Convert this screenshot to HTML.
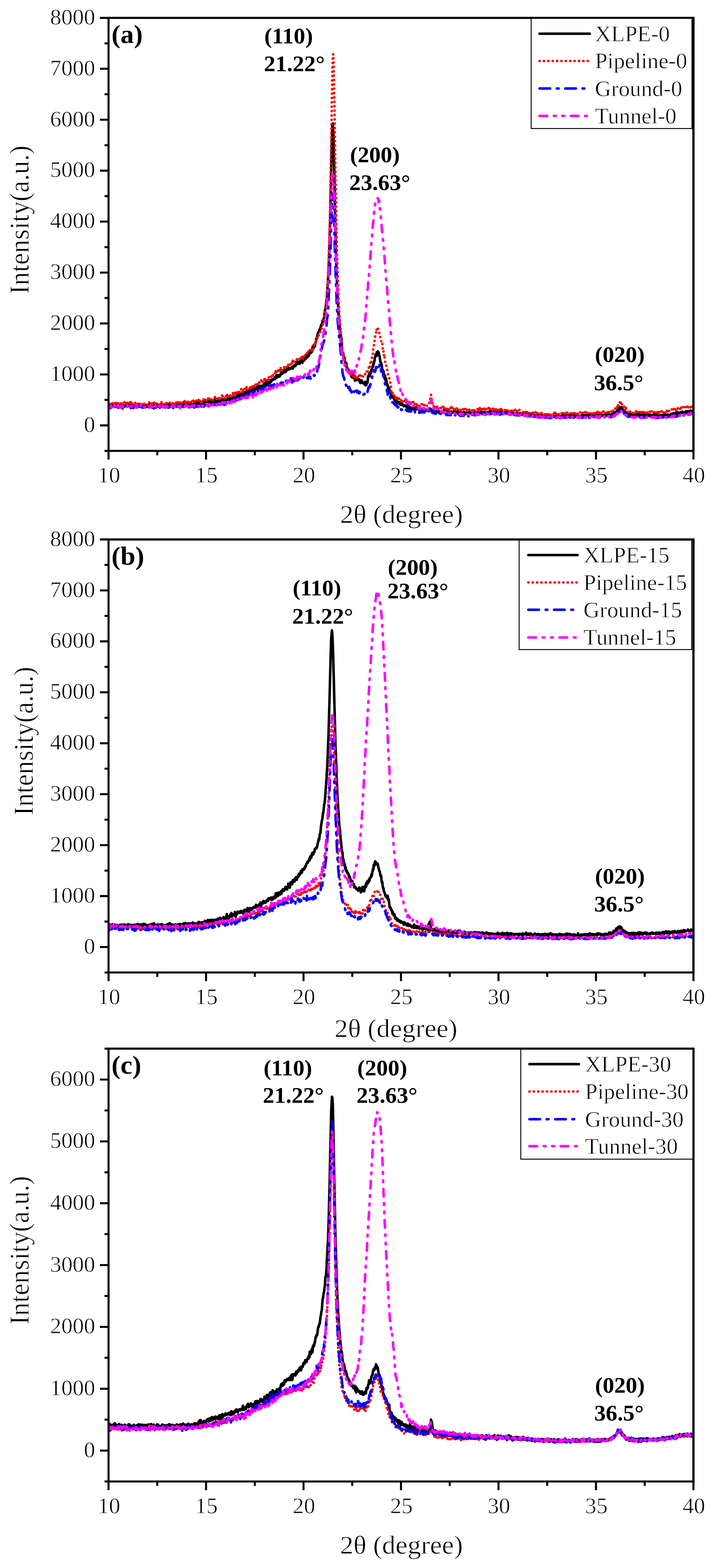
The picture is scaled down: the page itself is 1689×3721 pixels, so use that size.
<!DOCTYPE html><html><head><meta charset="utf-8"><title>XRD patterns</title><style>html,body{margin:0;padding:0;background:#fff;}svg{display:block;}text{font-family:'Liberation Serif','Times New Roman',serif;fill:#000;stroke:#fff;stroke-width:0.9px;paint-order:fill stroke;}</style></head><body>
<svg width="1689" height="3721" viewBox="0 0 1689 3721">
<rect width="1689" height="3721" fill="#fff"/>
<clipPath id="clipa"><rect x="257.5" y="42.3" width="1387.5" height="1027.7"/></clipPath>
<g clip-path="url(#clipa)" fill="none" stroke-width="6.0" stroke-linejoin="round" stroke-linecap="round">
<path stroke="#000000" d="M257.5 961.7l0.9-0.8 0.9 0.9 1 2.9 0.9-3.9 0.9 0.8 0.9 1.8 1-2 0.9 0.4 0.9 0.1 0.9 0.5 1-1 0.9 2.4 0.9-1.1 0.9 0.6 1-1.9 0.9 1 0.9 0.6 0.9 0.9 1-1 0.9-0.4 0.9 0.5 0.9-2.8 1 0.5 0.9 6.7 0.9-1.5 0.9-3.1 1 0.5 0.9-1.2 0.9 0 0.9-3.3 1 5.7 0.9-1.3 0.9-4.3 0.9 2.5 1 0 0.9 2.1 0.9 2 0.9-3.2 1 0.1 0.9 2.4 0.9-1 0.9-1.1 1 1.6 0.9-1.5 0.9-0.4 0.9 0.1 1 1 0.9-2 0.9-0.5 0.9 1 1 2.1 0.9-2.8 0.9 2.2 0.9-2.5 1 3.5 0.9-3.5 0.9 1.6 0.9 2.2 1-1.6 0.9-0.7 0.9-0.4 0.9 2.2 1 0.3 0.9-2.4 0.9 1.2 0.9-1.2 1-1 0.9 4.3 0.9-3.4 0.9-1.7 1 2.7 0.9 0.9 0.9-2.7 0.9 0.8 1-1.1 0.9 2.2 0.9 2 0.9-2.4 1 0.6 0.9-2.2 0.9 1.1 0.9 3.2 1-0.8 0.9-3.7 0.9 0.4 0.9 2.3 1-1.1 0.9-0.8 0.9 0 0.9-0.8 1 1.1 0.9 0.7 0.9 0.3 0.9-2.4 1 5.9 0.9-3.8 0.9-0.3 0.9 2.6 1-3.1 0.9 1.8 0.9-2.8 0.9 1.8 1-1.4 0.9-1 0.9 1.5 0.9 2.2 1 1.2 0.9-5.9 0.9 3.4 0.9 1 1-1.5 0.9 0.6 0.9-1.9 0.9 1.5 1 0 0.9 1.3 0.9-2.1 0.9 2.7 1-3 0.9-1.6 0.9 5.5 0.9 1.6 1-5.5 0.9-3.4 0.9 6.3 0.9 0.4 1-3.2 0.9 2.5 0.9-0.6 0.9-0.3 1-1.6 0.9 1.7 0.9-1.2 0.9 0.8 1 1.2 0.9-1 0.9 1.1 0.9-1.7 1 2 0.9 0 0.9-4.6 0.9 2.7 1 0 0.9-1 0.9 1.6 0.9-0.3 1-1.2 0.9 0.3 0.9 2.5 0.9-3.5 1 2.5 0.9 0.8 0.9-0.3 0.9-0.9 1-3.6 0.9 5 0.9-2.4 0.9 4.1 1-3.9 0.9-1.6 0.9 2 0.9 0.7 1-1.6 0.9-0.9 0.9 0.1 0.9-2.4 1 3.1 0.9 1.5 0.9-0.9 0.9-0.1 1-0.4 0.9 0.2 0.9-0.4 0.9 3.3 1-4.5 0.9 2.5 0.9 1 0.9-3.3 1-1.3 0.9 1.5 0.9 0.5 0.9 2 1-7 0.9 3.6 0.9 3.6 0.9-0.7 1-1.6 0.9 2.9 0.9-3.2 0.9 1.1 1-3.1 0.9 0.4 0.9 6.7 0.9-5.1 1 3 0.9-5.1 0.9 1.7 0.9-0.7 1 2.8 0.9-5.3 0.9-0.4 0.9 5.5 1-2.7 0.9 1.9 0.9-1.3 0.9 2.2 1-5.9 0.9 5.1 0.9-1.4 0.9-1.6 1 2 0.9-0.9 0.9 0.5 0.9-1 1 1.8 0.9-1.5 0.9-0.6 0.9 0.1 1-0.9 0.9 0.4 0.9-2.1 0.9 1.8 1-0.5 0.9 0.8 0.9-0.4 0.9 1.2 1-3.6 0.9 3 0.9-0.9 0.9-2.3 1-0.3 0.9 1.4 0.9 2.9 0.9-4.9 1 0.2 0.9 3 0.9-4.4 0.9 2.7 1 0.6 0.9-2.5 0.9 0.4 0.9-0.9 1 3.4 0.9-6.8 0.9 4.5 0.9 1.7 1-4.3 0.9 1.8 0.9-1.5 0.9 1.2 1-0.6 0.9-0.7 0.9 1.8 0.9-2.9 1 2.2 0.9 0.7 0.9-2 0.9-0.8 1 1.3 0.9 1.1 0.9-3 0.9 4.7 1-1.5 0.9-2.2 0.9 2.7 0.9-2.8 1 0.1 0.9-2 0.9 3.5 0.9-0.6 1-2 0.9 5.5 0.9-11.1 0.9 7.5 1 0 0.9-3.2 0.9 1.7 0.9 3.4 1-4.9 0.9-0.5 0.9 2.5 0.9-0.4 1-1.6 0.9 2.7 0.9-2.7 0.9 0.4 1 1.6 0.9 1.4 0.9-2.4 0.9 1.2 1-3.9 0.9 1.6 0.9-1.3 0.9 1.2 1-0.4 0.9 2 0.9-3.1 0.9-2.3 1 4.1 0.9 0.4 0.9-1 0.9 0.5 1 0.3 0.9-1.9 0.9 0.7 0.9-3.8 1 2.8 0.9-0.9 0.9-1.6 0.9 2.4 1-3.9 0.9 4 0.9 0.1 0.9-1.2 1-0.8 0.9 2.3 0.9-3.1 0.9 3.1 1-6.8 0.9 2.8 0.9 0.8 0.9 0.2 1-1.4 0.9-0.8 0.9 1.4 0.9-0.6 1-1.9 0.9 0.3 0.9-3.6 0.9-0.8 1 2.1 0.9-1.4 0.9 3.5 0.9-4.7 1 1.1 0.9-1.5 0.9-2.9 0.9 8.2 1-6 0.9 2.6 0.9-4.2 0.9 3.9 1-2.2 0.9-2 0.9-1.3 0.9 0.9 1 1.6 0.9-0.9 0.9-3.7 0.9 1.7 1 3.5 0.9-6.2 0.9 0.7 0.9-1.4 1 2.4 0.9-3 0.9 4 0.9-4.2 1 2.2 0.9-3.1 0.9-1.1 0.9 3.7 1-2 0.9-0.5 0.9-3.1 0.9 0.8 1 4.2 0.9-4.4 0.9-1 0.9-3.7 1 8.8 0.9-3.1 0.9-4.9 0.9 6.1 1-0.7 0.9-4.5 0.9-1.6 0.9 3.7 1-3.3 0.9 0.6 0.9-3.8 0.9 3.3 1-2.8 0.9 4.3 0.9-2.2 0.9-0.6 1-3.5 0.9 1 0.9 2.9 0.9-4 1-0.7 0.9 1.8 0.9 0 0.9-0.6 1 3.3 0.9-5.2 0.9-0.5 0.9 2.3 1-4.6 0.9 5 0.9-2.6 0.9-0.7 1-6.8 0.9 8.7 0.9-6.1 0.9-1.5 1 0.9 0.9-2.6 0.9 5.2 0.9 2.8 1-8.6 0.9 4.6 0.9-2.9 0.9 1.7 1-6.5 0.9-0.1 0.9 3.6 0.9-5 1 1.5 0.9 0.1 0.9-1.2 0.9 0.1 1-2.8 0.9 0.2 0.9 1.1 0.9-4.3 1 3.7 0.9-3 0.9-1 0.9-3.5 1 4.6 0.9-6.6 0.9 3.5 0.9 0.4 1 0.6 0.9-4 0.9 0.8 0.9 2.4 1-0.6 0.9-2.1 0.9-0.3 0.9-5.4 1-1.3 0.9 0.7 0.9 0.7 0.9 1.5 1-1.9 0.9-2.8 0.9-3.9 0.9 2.6 1 2.6 0.9-1.4 0.9 0.8 0.9 0.2 1-2.1 0.9-1.6 0.9-4.9 0.9 4.2 1-4 0.9-1.7 0.9 4 0.9-4.6 1 1.8 0.9 2.5 0.9-2.4 0.9 0.1 1 0.2 0.9-0.7 0.9-1.4 0.9-1.3 1 3 0.9-2.9 0.9 3.5 0.9-5.3 1-1.6 0.9 0.7 0.9-0.9 0.9-1.3 1 2.7 0.9-1.7 0.9-2.6 0.9-1.9 1 1.1 0.9-6.4 0.9 6.4 0.9-3.5 1-1.3 0.9 3 0.9 1.2 0.9 0.3 1-4.2 0.9-3.2 0.9 1.5 0.9-0.4 1 0.7 0.9-3.2 0.9 6.4 0.9-7.1 1-0.2 0.9 2.9 0.9-10.2 0.9 8.6 1-1.6 0.9-0.5 0.9-7 0.9 4.5 1-5 0.9-0.7 0.9-0.1 0.9 3.3 1-2.8 0.9-7.1 0.9 6.9 0.9-2.3 1-2.9 0.9-3.7 0.9 0.3 0.9-2.5 1 3.5 0.9-6.6 0.9-0.4 0.9 4.3 1-9.9 0.9-3.5 0.9 6.5 0.9-4.1 1-5.7 0.9 5.1 0.9-1.3 0.9-4.7 1-4.9 0.9-2.9 0.9-6.1 0.9-2 1 1.3 0.9-7.4 0.9-5.8 0.9-0.4 1-1.8 0.9 0.2 0.9-5 0.9 2.7 1-7.1 0.9-0.4 0.9-5.9 0.9-1 1 1.4 0.9-6 0.9-5.8 0.9 3.2 1-4.6 0.9-3 0.9-2 0.9-10.9 1-5.8 0.9-4.2 0.9-4.9 0.9-6.4 1-9.1 0.9-7.1 0.9-15.5 0.9-13.5 1-15.1 0.9-14.3 0.9-22.9 0.9-24.6 1-34.7 0.9-30.1 0.9-33.8 0.9-49.6 1-49.9 0.9-41.9 0.9-39.3 0.9-24.1 1-3.4 0.9 10.7 0.9 27.2 0.9 38.1 1 46.2 0.9 47.4 0.9 48.6 0.9 38.2 1 40.1 0.9 33.1 0.9 23.4 0.9 28.5 1 25.4 0.9 13.4 0.9 12.5 0.9 22.2 1 4.9 0.9 10.8 0.9 12.7 0.9 9.1 1 5.4 0.9 7.8 0.9 2.2 0.9 13.3 1 18 0.9 5 0.9 0.6 0.9 0.9 1 7.4 0.9 3.3 0.9-1.2 0.9 8 1 3.8 0.9 6 0.9 0.5 0.9-4.4 1 12.2 0.9-1.3 0.9 6 0.9-1.9 1 0.2 0.9 5.1 0.9-0.6 0.9 1.9 1 2.5 0.9-1.8 0.9 3.9 0.9 4 1 2 0.9 1.4 0.9-2.7 0.9 2.9 1-7.4 0.9 3 0.9 6.1 0.9 0.8 1-4.8 0.9 10 0.9-3.3 0.9-3.2 1 5.4 0.9-0.7 0.9 0.1 0.9-2.3 1 1.9 0.9-0.3 0.9-0.1 0.9 1.9 1-2.5 0.9 5.2 0.9 2.3 0.9 1.2 1-0.1 0.9-2.5 0.9-3.8 0.9 2.6 1 2.4 0.9 1.6 0.9-0.9 0.9 0.1 1 0.8 0.9 2.7 0.9-2.2 0.9-3.7 1 8.5 0.9-5.1 0.9 4.6 0.9-7.2 1 0.6 0.9 1.2 0.9-8.6 0.9-7.6 1 1.5 0.9-5.7 0.9 0.7 0.9 3.5 1-8.7 0.9 0.8 0.9 0.9 0.9-8.1 1-1 0.9-0.4 0.9-6.5 0.9 1.6 1-7.4 0.9 0.8 0.9-7.5 0.9 0.8 1-10.3 0.9-0.1 0.9-6.2 0.9 3.2 1-3.3 0.9-5.3 0.9 8.3 0.9-4.9 1-5.1 0.9 2.7 0.9 0.6 0.9 6.1 1 0.9 0.9 6.9 0.9 5.4 0.9 4.5 1 0.5 0.9 3.5 0.9 3.7 0.9 11.2 1-0.7 0.9-0.3 0.9 1.6 0.9 6.2 1 4.6 0.9 7.5 0.9-8.1 0.9 11.4 1-4.5 0.9 3.1 0.9 6.1 0.9 4.8 1 0.8 0.9 5.7 0.9-1 0.9 3.4 1 1.5 0.9 1.8 0.9 0.8 0.9 7.3 1-1.1 0.9 6.1 0.9 2 0.9 1.2 1 2.4 0.9-2.7 0.9 1.5 0.9 0.6 1 3.9 0.9 0.6 0.9 2.8 0.9 2.1 1-2.3 0.9 1.1 0.9 3.5 0.9-2.7 1 5.3 0.9-2.5 0.9 1.5 0.9 0.4 1 1.7 0.9-3.4 0.9 1.3 0.9-0.7 1 2.5 0.9 3.1 0.9-1.3 0.9 2 1-2.6 0.9-1 0.9 2 0.9 2.1 1 0 0.9-0.7 0.9 3.4 0.9-2.5 1 0.3 0.9 1.7 0.9 0.1 0.9-0.7 1 2.1 0.9 0.3 0.9-2.5 0.9 1.3 1-2.2 0.9 5 0.9 1.6 0.9-4.4 1 0.3 0.9 3.2 0.9 1.5 0.9-2.2 1 3.1 0.9-2.1 0.9 3.3 0.9-3.1 1 3.4 0.9-3 0.9-2.7 0.9 3.1 1-1.5 0.9 2.5 0.9 0.6 0.9 1.1 1-4.1 0.9 2 0.9-2.7 0.9 4.8 1-1.5 0.9-0.4 0.9-2 0.9-0.6 1 4.2 0.9 0.9 0.9 1.1 0.9-5 1 2.5 0.9 1 0.9-0.9 0.9 4.2 1-1.2 0.9-4.2 0.9 1 0.9 0.5 1 2 0.9-2.5 0.9-1.7 0.9 4.9 1-1.8 0.9 0.9 0.9-1.1 0.9 0.7 1 0.4 0.9 1.3 0.9-1.3 0.9 1.1 1-0.8 0.9-0.2 0.9-1.3 0.9 1.5 1-1.1 0.9-3 0.9 1.8 0.9 0.8 1-0.6 0.9 2.1 0.9 1.1 0.9 0.5 1 2.7 0.9-2.3 0.9-1 0.9 1.4 1 3.4 0.9-2.7 0.9 1.9 0.9-0.9 1-0.4 0.9 2 0.9-3.7 0.9 2.2 1-1.3 0.9 0.3 0.9-1 0.9 0.3 1 4 0.9-2.2 0.9 3.2 0.9-2.4 1-1.7 0.9-0.3 0.9-0.5 0.9 2.5 1-1 0.9 0.3 0.9-1.6 0.9-0.5 1 2.9 0.9-6.1 0.9 5.6 0.9 0.6 1-1.4 0.9-0.2 0.9 0.3 0.9 1.8 1-3.1 0.9 2.1 0.9-2.2 0.9 0.3 1 3.9 0.9-0.4 0.9 0 0.9-1.8 1 0.4 0.9-0.3 0.9 1.6 0.9-1.8 1-1.4 0.9 4 0.9-1.6 0.9-0.6 1 0.6 0.9 0.1 0.9-2.8 0.9 0.8 1 0.6 0.9 2.4 0.9-4.3 0.9 2.8 1 1.4 0.9-0.3 0.9 0.3 0.9-3.7 1 2.9 0.9 0.2 0.9 3.3 0.9-4.1 1 2.6 0.9 0.2 0.9-2.4 0.9 2.1 1-2.3 0.9-0.4 0.9 4.2 0.9-2.3 1 2.1 0.9-2.1 0.9-1.3 0.9 3.3 1-4.5 0.9 3.1 0.9 1.2 0.9-1.4 1-1.3 0.9 3.1 0.9-1.9 0.9 1.9 1-3.6 0.9 1.5 0.9 0.8 0.9-2.1 1 3.3 0.9-1.3 0.9-3.1 0.9 2.7 1-2 0.9 1.6 0.9 1.2 0.9-0.6 1-0.5 0.9 0.7 0.9 0.5 0.9 0 1 0.9 0.9-2.2 0.9-0.4 0.9-0.6 1 3.6 0.9-3.7 0.9 1.1 0.9 2 1-2.2 0.9-1 0.9 0.4 0.9-0.3 1-0.4 0.9 0.1 0.9 1.3 0.9 2.8 1-1.9 0.9-1.6 0.9 1.2 0.9-1.7 1-0.2 0.9 1 0.9-2.6 0.9 4 1-2.7 0.9 1.9 0.9 0.5 0.9-2 1 1.7 0.9-2.2 0.9 2.9 0.9-1.8 1 1.3 0.9-0.9 0.9 0.1 0.9 1.1 1-2.6 0.9 2.7 0.9-0.4 0.9-2.7 1-0.2 0.9 0.4 0.9 0.5 0.9-2.8 1 5 0.9-0.7 0.9 0.3 0.9-2.7 1 0.8 0.9-1.2 0.9 0.2 0.9 1.7 1 0.9 0.9 0.2 0.9-4.6 0.9 1.8 1 0.5 0.9 1.3 0.9-0.2 0.9 0.2 1 0 0.9 3 0.9-3.4 0.9 0.5 1-1 0.9 0.1 0.9-0.9 0.9 1.3 1-1.2 0.9 4.9 0.9-2.1 0.9-4 1 4.2 0.9-1.3 0.9-1.4 0.9 2.4 1-2.3 0.9 3.1 0.9 0.8 0.9-0.8 1 0.5 0.9-2.3 0.9 0.5 0.9-0.9 1 2 0.9-5 0.9 3.8 0.9 0 1-0.7 0.9 1.1 0.9 0.6 0.9-0.9 1-1.1 0.9 0.4 0.9-0.3 0.9 2.2 1 0.3 0.9-3.8 0.9 3.2 0.9-0.9 1-0.3 0.9-0.9 0.9 4 0.9-1.2 1 0 0.9-0.1 0.9 3 0.9-3.1 1 3.9 0.9-4.3 0.9-0.3 0.9 0 1 2.6 0.9-2.9 0.9 2.5 0.9 0.6 1-0.3 0.9-0.1 0.9-1.3 0.9-0.8 1 4 0.9-2 0.9-1.9 0.9 1 1-0.3 0.9 2.8 0.9-3.2 0.9 3.5 1-2.3 0.9-1.5 0.9-0.6 0.9 2 1-0.4 0.9 2 0.9 0 0.9-2.1 1 1.6 0.9 0.3 0.9 1.8 0.9-1.9 1-0.6 0.9 2 0.9-0.2 0.9-2.7 1 2 0.9 0.7 0.9 1.2 0.9-0.6 1-0.3 0.9-2 0.9 2.7 0.9-3 1 3.6 0.9-0.7 0.9-1.4 0.9 1.5 1 0.9 0.9-0.8 0.9-0.6 0.9 2.8 1-1.8 0.9 0 0.9 0.4 0.9-1.3 1 1.7 0.9-0.1 0.9-0.4 0.9-0.8 1 1.3 0.9-2.1 0.9 3.1 0.9-2.6 1 2.7 0.9-0.8 0.9-0.6 0.9-2 1 1.5 0.9 1.7 0.9-2 0.9 1.9 1 0.7 0.9-1.4 0.9 0.5 0.9-1 1 1.8 0.9-1.1 0.9-0.2 0.9 0.4 1 0.5 0.9 0.8 0.9-1.9 0.9 0.9 1-0.4 0.9 1 0.9-0.4 0.9 1.3 1-1.4 0.9-0.8 0.9 0.8 0.9-0.9 1 0.6 0.9-1.2 0.9 1.8 0.9 1.8 1-2.5 0.9 0.7 0.9 0.9 0.9-1.9 1 0.4 0.9-0.2 0.9 0.9 0.9-0.6 1-0.1 0.9-1.8 0.9 2.9 0.9-0.8 1-0.5 0.9 2.5 0.9-0.1 0.9-4.6 1 4.7 0.9-2.8 0.9 1.7 0.9-0.1 1 1.4 0.9-1.3 0.9-2.1 0.9 2.7 1-2.5 0.9 0.4 0.9-2.1 0.9 3 1-2.2 0.9 0.5 0.9 1.4 0.9 1.6 1-3.8 0.9 3.4 0.9-1.1 0.9-1.6 1-0.4 0.9 2.4 0.9-1 0.9 0.3 1-1.8 0.9-1.7 0.9 5.3 0.9-3.4 1 4.6 0.9-3.5 0.9 1.4 0.9-3.9 1 2.3 0.9 1 0.9-0.3 0.9 0.1 1-0.9 0.9 0.4 0.9-1.1 0.9-1.1 1 1.1 0.9 2.3 0.9 0.5 0.9-1.1 1-2.2 0.9 1.6 0.9 0.4 0.9-1 1 1.9 0.9-0.3 0.9-2.1 0.9 1 1 0.2 0.9-1 0.9 1.1 0.9 0.1 1-0.3 0.9-1.3 0.9 0.7 0.9 1.5 1-1.1 0.9-1.2 0.9-1.6 0.9 3.8 1-1.9 0.9 0.7 0.9-1.3 0.9 0.4 1-1.3 0.9 1.2 0.9 1.3 0.9 0 1-1.2 0.9 0 0.9-2.5 0.9 0.9 1 3.5 0.9-1.9 0.9 2.1 0.9 0.3 1-3 0.9 0.2 0.9 2 0.9-3.4 1 3.3 0.9 0.2 0.9-2.3 0.9 0.6 1 0.4 0.9-0.1 0.9-0.4 0.9 0.4 1 0.1 0.9 2.1 0.9-0.7 0.9-2.5 1 1.7 0.9-1.6 0.9-0.9 0.9 2 1-0.9 0.9-2.2 0.9 1.7 0.9-1.5 1 0.4 0.9 0.9 0.9 1.1 0.9 0.9 1 0.3 0.9-2 0.9 0 0.9 0.8 1-1.3 0.9 1.8 0.9-2.2 0.9 1.3 1 0.1 0.9-0.1 0.9 0.1 0.9-3.3 1 5.1 0.9-2.3 0.9-1.4 0.9 0.6 1 1.3 0.9-2.7 0.9 3.6 0.9 0.2 1-2.5 0.9 2.5 0.9 1.1 0.9-4.3 1 0 0.9-0.1 0.9 1.4 0.9-1.1 1 1.2 0.9-3.9 0.9 0.9 0.9-0.3 1 3.2 0.9-4.3 0.9-1.6 0.9-0.3 1-0.2 0.9 0.4 0.9-0.4 0.9-2.3 1-0.7 0.9-0.8 0.9-0.1 0.9-4.2 1 3.6 0.9-2.8 0.9 0.1 0.9-3.3 1-1.2 0.9 0 0.9 0.7 0.9 3.7 1-5.5 0.9 3.1 0.9 1.7 0.9 0.6 1 1.4 0.9-0.2 0.9 1.2 0.9 2 1 4.3 0.9-2.9 0.9 0.2 0.9 0.8 1 1.7 0.9-0.1 0.9-0.1 0.9 2.6 1-2.1 0.9 5.1 0.9-0.6 0.9-0.1 1 2.3 0.9-1.7 0.9-2.7 0.9 0.2 1 1.6 0.9-2 0.9 2.1 0.9 1 1-0.9 0.9 0.6 0.9-1.1 0.9 2.9 1-3.2 0.9 2 0.9-1.7 0.9 3.1 1-1.4 0.9-0.6 0.9-1.1 0.9 2.8 1-3.7 0.9 1.5 0.9 1.3 0.9-2.2 1 1.4 0.9-1.3 0.9-1.5 0.9 2 1 1.7 0.9-0.1 0.9-1.3 0.9 0.4 1 1.4 0.9-0.2 0.9-1.7 0.9-2.1 1 6.4 0.9-4.3 0.9 1.2 0.9-1.3 1-0.1 0.9 1.1 0.9 1.3 0.9 0.5 1 0.7 0.9-4 0.9 1.8 0.9 0.5 1-0.3 0.9 1.3 0.9-2.1 0.9-1.2 1 0.2 0.9 3.5 0.9-3.7 0.9 2.7 1 1.5 0.9-0.9 0.9-0.3 0.9-1.2 1 1.3 0.9 0.7 0.9-1.6 0.9-2.8 1 3.4 0.9-1.5 0.9 0.5 0.9-3.2 1 5.8 0.9-3.8 0.9 3 0.9-0.8 1-0.7 0.9-4.1 0.9 5 0.9 1.4 1-4 0.9 2.7 0.9-0.7 0.9-0.3 1-0.1 0.9 0.3 0.9-0.5 0.9-0.2 1-0.6 0.9 1.7 0.9 0.4 0.9 0.3 1-2.1 0.9 0.8 0.9-0.9 0.9 0 1-1.6 0.9 1.8 0.9-0.8 0.9 2.4 1-0.2 0.9-1.1 0.9 1 0.9-2.6 1 2.5 0.9-2 0.9 3.2 0.9-2 1-1.1 0.9-0.3 0.9 1.9 0.9-2.7 1-1.4 0.9 0.3 0.9 1.6 0.9-0.3 1 0.6 0.9-2.6 0.9-1.3 0.9 2.5 1 1.4 0.9-2.7 0.9-0.9 0.9 4.6 1-4.2 0.9-2.9 0.9 1.7 0.9 0.2 1 0.1 0.9-1.1 0.9 2.7 0.9-0.3 1-1.9 0.9 1.4 0.9-1.5 0.9 3 1-3.9 0.9-0.3 0.9 1 0.9-0.3 1-2.2 0.9 3.7 0.9-0.4 0.9 0.2 1-1.1 0.9 0.7 0.9-1.7 0.9 0.9 1 1 0.9 0 0.9-4.1 0.9 1.7 1 0.1 0.9-0.5 0.9 0 0.9-1.4 1 0.2 0.9 1.6 0.9 0.2 0.9 0.2 1 0.2 0.9-4.2 0.9 3.4 0.9 1.5 1-1.9 0.9-0.2 0.9-1.8 0.9 1.7 1-2.3 0.9 0"/>
<path stroke="#ff0000" stroke-dasharray="0.2 10.17" d="M257.5 957.7l0.9 1.5 0.9-0.2 1 4.3 0.9-9 0.9 1.4 0.9 3.1 1-2.3 0.9 1 0.9 1.8 0.9-3.3 1 2.8 0.9 0 0.9 1 0.9-2.7 1 1.2 0.9-1.3 0.9 2.4 0.9-1.6 1 2.2 0.9-3.7 0.9 1.4 0.9-0.3 1-0.2 0.9 3.1 0.9-3.9 0.9-2.7 1 7.9 0.9 0.2 0.9-0.5 0.9-5 1 1.5 0.9-2 0.9 0.8 0.9 1.1 1-0.2 0.9 1 0.9-2.2 0.9 4.2 1-1.5 0.9-1.4 0.9-3.3 0.9 5.5 1 0.6 0.9-1.1 0.9-3.3 0.9 2.6 1-3.3 0.9 6.8 0.9-6.4 0.9 0.2 1 5.2 0.9-3.3 0.9-2.3 0.9 2.4 1-1.9 0.9-3 0.9 4.5 0.9 1.2 1 1.1 0.9-3.1 0.9 1.8 0.9 0 1-0.2 0.9-1.6 0.9 3.7 0.9 1 1 1.9 0.9-7.7 0.9 2.4 0.9-3.1 1 3.2 0.9 1.6 0.9-2.6 0.9 1.2 1 2.5 0.9-0.8 0.9-5.7 0.9 3.1 1-0.2 0.9 1.5 0.9 0.9 0.9-3.4 1 2.1 0.9 1.4 0.9-1.3 0.9 1.7 1-2.4 0.9-2 0.9 4.2 0.9-4.8 1 4.4 0.9-1.7 0.9 2.1 0.9-1.3 1-0.6 0.9 1 0.9 0.6 0.9 0 1 0.3 0.9 1.6 0.9-2.8 0.9-1.4 1-1.1 0.9 0.5 0.9-3.8 0.9 4.5 1 1.7 0.9-5 0.9 6.2 0.9-4.3 1 4.1 0.9-2.8 0.9 5 0.9-6.2 1 2.3 0.9 1.7 0.9-5.7 0.9 2 1 1.5 0.9 1.7 0.9-1.5 0.9 0.2 1-1.9 0.9-0.2 0.9 3.2 0.9-0.3 1-0.1 0.9 1.8 0.9-1.7 0.9-1.1 1-1.6 0.9-1.4 0.9 4.5 0.9-2.9 1 2.1 0.9-5.4 0.9 4.5 0.9-1.2 1 3.1 0.9-0.3 0.9-2.2 0.9 1.3 1-1.6 0.9 4.1 0.9-4.8 0.9 3.3 1-5.6 0.9 4.3 0.9-3 0.9 5.3 1-3.9 0.9 2.8 0.9-0.9 0.9-1.1 1 0.7 0.9-1.3 0.9-1 0.9 0.1 1 1.6 0.9 2.7 0.9-1.2 0.9-1.3 1 4.1 0.9-6.2 0.9 2.1 0.9 0 1-2.6 0.9 0.6 0.9 0.9 0.9 2.6 1-2.9 0.9-0.1 0.9 2.7 0.9-4.2 1 1.1 0.9 5.3 0.9-4.6 0.9 3 1-5.2 0.9 0.6 0.9 4.1 0.9-0.5 1-2.1 0.9 0.6 0.9-3.8 0.9 1.6 1 2.2 0.9-1.9 0.9 5.6 0.9-5.1 1-1.3 0.9 2.2 0.9 1.1 0.9-2.8 1-3.1 0.9 3.8 0.9 2.8 0.9-5.6 1 7.2 0.9-5.3 0.9 2.3 0.9-3.4 1 3.8 0.9-4.8 0.9 2.1 0.9 4.3 1 0.5 0.9-3.8 0.9-3.7 0.9 2.4 1 0 0.9 0.5 0.9-2.3 0.9 0.6 1 0.1 0.9 2.7 0.9-5 0.9-0.6 1 5.8 0.9-8.2 0.9 3.4 0.9 2.6 1 3 0.9-5.9 0.9 0.1 0.9 2.4 1 2.6 0.9-6.8 0.9 3.7 0.9-0.4 1-7.7 0.9 1.5 0.9 2.5 0.9 3.1 1-2.7 0.9 6.5 0.9-5.6 0.9 1.8 1 1.1 0.9 0.5 0.9-5 0.9 0.8 1-0.3 0.9-1.7 0.9 3.7 0.9 0.8 1 1.1 0.9-3.5 0.9-2.7 0.9 2 1-2 0.9 4.1 0.9-1.8 0.9 0.6 1 1 0.9-7.4 0.9 2.2 0.9 3.7 1-0.1 0.9-1.8 0.9 3.2 0.9-4.6 1 4 0.9-2.3 0.9 1.4 0.9-1.4 1 2 0.9 0.4 0.9-1.5 0.9-0.8 1-1 0.9-1 0.9-3.6 0.9 1.6 1 2.4 0.9-2.4 0.9 3.3 0.9-5.3 1 2.1 0.9 4.4 0.9-5.2 0.9-0.2 1 8.3 0.9-4.8 0.9-0.8 0.9 3.4 1-2.2 0.9-0.4 0.9-3.7 0.9 0.4 1-5.8 0.9 7.1 0.9-3.9 0.9 2.5 1-0.6 0.9 3.3 0.9 1.6 0.9-2.9 1-3.9 0.9-2.2 0.9 2.2 0.9 0 1 3.1 0.9-6.1 0.9 0.2 0.9 4.4 1-1.4 0.9 2 0.9-6.4 0.9 2.4 1 0.9 0.9-1.5 0.9-0.4 0.9 1.8 1 1.8 0.9-0.3 0.9 0.8 0.9-5.9 1-4.8 0.9 9.6 0.9-5.1 0.9-1 1 3.2 0.9-3.5 0.9 3 0.9-6.3 1 4.2 0.9-2.2 0.9-1.9 0.9 2.5 1 3.2 0.9-3.8 0.9-3.8 0.9 1.8 1-1.2 0.9 3.1 0.9-3.7 0.9-2 1 1.4 0.9-5.4 0.9 5.3 0.9 1.8 1 1.1 0.9-7.8 0.9 2.8 0.9-3.2 1 1 0.9-3.5 0.9 0.6 0.9 3.9 1-2.1 0.9-2.5 0.9 5.7 0.9-7.5 1 0.2 0.9 0.3 0.9 2.7 0.9-1.7 1 3.3 0.9-3.5 0.9 1.3 0.9-2.2 1 1.2 0.9-2.5 0.9-2.8 0.9 6.2 1-6.4 0.9 7.4 0.9 0 0.9-5.8 1-0.8 0.9-1.6 0.9 5.1 0.9-4.6 1-0.9 0.9-3.5 0.9 3.2 0.9-2.1 1 3.6 0.9-2.6 0.9 0.3 0.9-3.5 1 4 0.9-0.9 0.9-4.2 0.9-3.7 1 3.3 0.9-0.2 0.9 1.2 0.9-4.2 1 0.9 0.9-3.6 0.9 3.2 0.9 3 1-1.5 0.9 0.6 0.9 0.2 0.9-7.2 1 0.7 0.9 5 0.9-8.6 0.9 3.6 1 2.6 0.9-4.1 0.9 0.7 0.9 1.3 1 2.6 0.9-5.9 0.9-1.2 0.9 7 1-8.9 0.9-0.8 0.9 2.3 0.9-2.1 1 0.4 0.9 0.9 0.9-1.9 0.9-5.2 1 6.8 0.9-5.1 0.9-0.5 0.9 1.8 1-1.4 0.9 1.9 0.9-2.1 0.9-2.9 1-1.5 0.9 2.6 0.9-11.1 0.9 9 1-2.5 0.9 0.3 0.9-0.2 0.9-5.1 1 4.1 0.9-5.5 0.9-0.1 0.9 5.2 1-6.1 0.9 3.8 0.9-9.6 0.9 7.7 1 0.9 0.9 2 0.9-2.3 0.9-2.4 1 0.5 0.9 0 0.9-1.9 0.9-1.9 1-4.9 0.9 7.8 0.9-3.6 0.9 0.5 1 1 0.9-1.2 0.9-1.5 0.9-4.8 1 1.9 0.9 0.4 0.9-3.6 0.9 0.4 1 0.8 0.9-2.1 0.9 2.7 0.9-4.3 1-0.1 0.9 1.8 0.9 1.7 0.9-7.8 1 3.3 0.9-8.4 0.9 9.4 0.9-4.5 1 2.9 0.9-2.4 0.9-2 0.9 3.8 1-2.4 0.9-1.2 0.9-0.4 0.9-1.8 1-1.7 0.9 0 0.9 1 0.9 1 1 1.6 0.9-1.7 0.9-1.1 0.9-3.8 1 2.2 0.9 1.8 0.9-5.6 0.9 3.2 1-0.7 0.9-2.1 0.9-2.5 0.9 7 1-4.1 0.9-4.1 0.9 0.7 0.9 0.7 1-1.6 0.9-5.8 0.9 4.2 0.9-3.8 1-0.9 0.9 2.5 0.9-3.1 0.9 1.6 1-0.4 0.9 0.6 0.9-6.1 0.9 2.5 1-0.5 0.9 0.7 0.9-8.8 0.9 1.9 1 1.3 0.9 0.5 0.9 1.1 0.9-6 1-1.1 0.9 3.3 0.9-8.1 0.9-0.4 1 3.1 0.9-2.7 0.9-2.1 0.9-3.4 1-1.1 0.9 2 0.9-10.3 0.9 1.1 1-4.5 0.9-1.9 0.9 1.9 0.9-3.4 1-3.1 0.9-2.3 0.9 0.2 0.9-1.2 1-4.3 0.9-0.4 0.9-3.5 0.9 1 1-8.7 0.9-0.4 0.9-4.7 0.9-5.1 1-5.1 0.9-8.6 0.9-0.5 0.9-1.2 1-10.2 0.9-5 0.9-10.5 0.9-6 1-10.1 0.9-12.3 0.9-13.2 0.9-12.5 1-21.3 0.9-23.2 0.9-28.3 0.9-25.4 1-34.3 0.9-42.7 0.9-46.2 0.9-55.3 1-54.8 0.9-58.4 0.9-61.7 0.9-50 1-28.1 0.9-12.6 0.9 18.8 0.9 32.9 1 53.9 0.9 59.3 0.9 63.8 0.9 59.7 1 55.3 0.9 47.7 0.9 43.9 0.9 39.7 1 34.3 0.9 21.4 0.9 24 0.9 26.3 1 16 0.9 22.1 0.9 14.8 0.9 9.8 1 7.3 0.9 17.6 0.9 9.4 0.9 6.3 1 22.7 0.9-0.2 0.9 5 0.9 6 1 2.7 0.9-3.2 0.9 13.1 0.9 0.6 1 2.7 0.9 4.2 0.9 4.9 0.9-4.8 1 6.4 0.9 7.6 0.9-1 0.9-1.3 1 1.6 0.9 6.3 0.9-2.3 0.9 0.2 1 0.8 0.9 1 0.9 6.8 0.9-9 1 5.1 0.9-3.6 0.9-2.2 0.9 8.6 1 3.3 0.9-5.1 0.9 3.2 0.9 1 1 1.9 0.9-6.9 0.9 5.9 0.9 2.7 1-2.3 0.9 2 0.9-3.4 0.9 1.7 1 1.7 0.9-4.3 0.9 3.3 0.9-3.7 1-1.4 0.9 4.3 0.9 0.7 0.9-2.4 1-2 0.9 2.3 0.9-0.6 0.9 0.2 1-1.2 0.9-1.2 0.9 3.1 0.9-1 1-1.9 0.9 1.3 0.9-2.8 0.9-1.7 1 0.7 0.9 0.6 0.9-0.5 0.9-7.8 1 1.1 0.9 3.9 0.9-2.3 0.9-9.5 1-1.9 0.9 0.6 0.9-6 0.9 4 1-6.8 0.9-4.7 0.9 4.1 0.9-5.9 1-7.5 0.9-4.8 0.9 0.1 0.9-9.4 1-12.6 0.9-2.4 0.9-3.2 0.9-9.1 1-4.5 0.9-9.5 0.9-1.3 0.9-1.2 1-11.7 0.9 5.3 0.9-4.1 0.9-1.3 1 0 0.9 2.7 0.9 1 0.9 4.5 1 7 0.9 0.7 0.9 4.1 0.9 4.1 1 2.9 0.9 5.5 0.9-1.7 0.9 3 1 14.1 0.9-1.4 0.9 6.7 0.9 10 1-3.2 0.9 9.1 0.9 6.9 0.9 7.2 1 0.1 0.9 3.5 0.9 6.1 0.9 2.1 1 5.4 0.9 2.7 0.9 5.9 0.9 1.7 1 5.9 0.9 1.2 0.9 2.9 0.9 5.7 1 2.4 0.9 2 0.9 18.2 0.9-2.6 1 3.8 0.9 1.7 0.9 4 0.9-2.1 1 2.1 0.9 2.1 0.9 0.1 0.9 1.9 1 5.3 0.9-7.6 0.9 4.3 0.9 2.5 1-2.3 0.9 3.2 0.9 4.4 0.9-6.6 1 6.8 0.9-2.8 0.9-0.2 0.9-2.2 1 0.9 0.9 2.9 0.9 2.6 0.9-0.4 1-3 0.9-1.3 0.9 3.2 0.9 3 1-3.6 0.9 3.4 0.9 0.3 0.9-0.1 1-1.7 0.9 0.9 0.9-1.5 0.9-0.5 1 1.9 0.9 6.5 0.9-1.3 0.9-4 1 0.7 0.9-4.8 0.9 4.9 0.9 0.4 1-2.3 0.9-0.1 0.9 3 0.9-1.5 1 3.7 0.9-0.3 0.9-4.6 0.9 5.9 1-5 0.9 0.7 0.9 0 0.9-0.2 1 1 0.9 6.1 0.9-2.3 0.9-0.6 1-3 0.9 4.7 0.9-0.6 0.9-0.4 1-3.2 0.9 6.2 0.9 0.2 0.9-3.8 1 6.1 0.9-4.8 0.9 2 0.9 2.6 1-2.2 0.9 1.4 0.9-2.2 0.9-0.3 1-2.1 0.9 3.2 0.9-0.1 0.9 1.5 1-1 0.9-2.1 0.9 6.2 0.9-5.2 1 2.5 0.9-1.2 0.9-0.4 0.9-1.1 1 1.2 0.9 1.2 0.9-1.7 0.9 0.4 1 0 0.9-1.6 0.9-2.4 0.9-0.2 1-2.7 0.9-1.2 0.9-9 0.9-1.8 1-6.4 0.9 10.5 0.9 1.4 0.9 1 1 10.3 0.9-1.7 0.9 3.2 0.9 2.9 1 1.2 0.9-2.3 0.9-1.2 0.9 2.4 1 4 0.9-0.7 0.9-1.4 0.9-3 1 2.3 0.9 0.1 0.9-1.6 0.9 3 1-0.1 0.9 0.3 0.9 3.2 0.9-4.2 1 0.2 0.9-1 0.9 4.3 0.9-0.6 1-3.3 0.9 1.3 0.9-2 0.9 4.4 1-1.9 0.9 1.7 0.9-1.8 0.9 1.6 1-1.8 0.9-1 0.9 0.9 0.9 4.8 1-5.2 0.9 1 0.9 3 0.9-0.3 1-1.6 0.9-1 0.9 2 0.9 2.3 1-3.5 0.9 0.3 0.9-4.2 0.9 7.1 1-7.1 0.9 1.6 0.9 2.8 0.9-2.5 1 3 0.9-1.5 0.9 3.3 0.9-1.5 1 2.2 0.9 1.1 0.9-2.3 0.9 0.9 1-2.2 0.9-1.2 0.9 2.8 0.9-0.3 1-0.1 0.9 3.5 0.9-3.4 0.9 0.6 1 0.2 0.9 2 0.9 1.8 0.9-3.1 1-0.9 0.9-1.8 0.9 0.5 0.9-0.5 1 2.1 0.9-1.3 0.9 2.5 0.9-1.4 1-0.5 0.9-3.1 0.9 4.5 0.9 2.8 1-4.7 0.9 3.9 0.9-1.3 0.9 0.5 1 1.1 0.9-4 0.9 1.3 0.9 2.1 1-1.2 0.9 0.9 0.9-1.9 0.9 1.8 1 0.7 0.9-0.3 0.9-0.3 0.9-1.4 1 2.2 0.9-1.5 0.9-1 0.9-3.4 1 2.6 0.9 6.9 0.9-4.5 0.9-0.3 1-1.3 0.9-2.3 0.9 1.5 0.9 5.4 1-4.7 0.9 0.3 0.9-0.6 0.9-1.8 1 4.4 0.9-4 0.9 5 0.9-3.2 1-0.6 0.9-3.5 0.9 5.3 0.9 1.8 1-4.4 0.9 2.4 0.9-4.1 0.9 4.1 1 0.3 0.9-3.9 0.9 2 0.9-1.7 1 4.4 0.9-5.7 0.9 4.1 0.9-2.7 1 3.3 0.9 1 0.9-2.4 0.9-0.9 1-2.6 0.9 2.2 0.9-0.7 0.9 0.1 1-4.6 0.9 7.2 0.9-3.9 0.9 2.6 1-0.8 0.9 1.4 0.9-3.1 0.9 4.4 1 0.1 0.9-2.1 0.9 1.7 0.9-3.4 1-0.5 0.9 3.1 0.9-2.9 0.9 2.7 1-1.2 0.9-0.1 0.9-3.4 0.9 3.4 1 1.7 0.9 0 0.9-3.9 0.9 5.3 1-2.2 0.9-0.2 0.9 3.9 0.9-3.6 1-2.7 0.9 1.4 0.9 2.2 0.9-2.9 1 0.4 0.9-2.8 0.9 5.2 0.9-0.6 1-0.7 0.9 0.4 0.9-0.3 0.9 0.4 1 1.2 0.9 1.8 0.9-1.8 0.9 1.6 1-0.5 0.9-0.9 0.9-1.8 0.9-0.5 1 3.6 0.9-2.3 0.9-0.8 0.9 1.6 1 3 0.9 1.1 0.9-5.2 0.9-0.1 1 1.3 0.9 2.5 0.9-4.4 0.9 0.6 1 2.4 0.9 0.4 0.9 3.2 0.9-4.7 1 4.3 0.9-3.9 0.9 0 0.9 1.2 1-2.5 0.9 3.5 0.9-1.5 0.9-0.3 1 1.1 0.9 1.2 0.9-2.7 0.9 1.5 1 1.1 0.9 0.1 0.9-0.5 0.9-3.6 1 3.9 0.9 0.6 0.9 1.6 0.9 0.3 1 1.3 0.9-3.6 0.9 0.5 0.9 1.9 1 0.9 0.9-1.9 0.9 0.4 0.9 1.5 1-2.7 0.9 0.4 0.9 0.4 0.9-1.2 1 2.5 0.9-3.3 0.9 4.1 0.9-2.5 1-0.1 0.9 1.6 0.9-0.9 0.9 2.9 1 0.4 0.9-2 0.9 0.9 0.9-2 1 1 0.9-0.9 0.9 0.6 0.9 0.3 1 0.3 0.9 0.9 0.9 0.2 0.9-3.9 1 6.2 0.9-2.4 0.9-1.9 0.9 1.1 1-1.5 0.9 1.4 0.9 3.1 0.9-1.5 1 1.9 0.9-3.8 0.9-0.6 0.9 3.1 1-1.5 0.9 1.6 0.9 1.7 0.9-1.5 1 1.8 0.9-1.5 0.9-1.2 0.9-0.7 1-0.8 0.9 2.6 0.9-0.9 0.9-0.2 1-0.1 0.9 5.4 0.9-3.3 0.9-2.4 1 3.1 0.9-2.1 0.9-0.9 0.9 4.3 1-2.7 0.9-0.6 0.9 0.4 0.9 2.4 1-2.9 0.9 1.4 0.9-2.1 0.9 0.6 1 1.5 0.9-1.1 0.9 1.3 0.9 0 1 1.4 0.9-2.1 0.9-1.6 0.9 1.1 1 0.2 0.9 0.9 0.9-0.2 0.9-1.9 1 3.5 0.9-5.6 0.9 3.3 0.9-3.5 1 1.5 0.9 2.5 0.9-1.8 0.9 0.7 1-0.3 0.9-0.5 0.9 2.1 0.9 0.1 1-0.4 0.9 1.5 0.9-1.8 0.9-0.7 1-0.1 0.9 0.1 0.9 0.9 0.9-1.9 1 4.5 0.9-2.7 0.9-0.1 0.9-1.9 1 0.3 0.9-0.2 0.9 1.2 0.9-1.5 1 3 0.9-1.7 0.9 3.5 0.9-6.1 1 0.2 0.9 3.4 0.9 0.4 0.9 1.9 1-0.9 0.9-2.6 0.9 0.4 0.9 2 1-1.5 0.9 0.2 0.9-1.8 0.9-0.5 1 1.5 0.9-0.6 0.9 0.2 0.9 3.3 1-3.7 0.9 0.4 0.9-1.3 0.9 4.1 1-4.2 0.9 2.2 0.9-1.5 0.9-1.5 1 4.3 0.9-0.3 0.9-3.7 0.9 3.4 1-0.4 0.9-2.5 0.9 1.3 0.9-1.6 1 0.7 0.9 0.5 0.9-1.6 0.9-2 1 3.6 0.9-2.5 0.9 0.5 0.9 1.6 1-0.5 0.9 2.2 0.9-0.6 0.9-1.4 1 0.5 0.9-2.2 0.9 4.1 0.9-1.6 1 0.5 0.9-0.8 0.9-2.2 0.9 3.8 1-3.3 0.9 2.3 0.9-0.5 0.9-2.2 1 2.1 0.9-1.6 0.9 0.9 0.9 0.4 1 0.3 0.9 2.2 0.9-1.6 0.9-1.6 1-0.1 0.9 2.8 0.9-4.1 0.9 0.6 1 3.1 0.9-0.5 0.9-2.6 0.9 3.7 1-1.7 0.9-1.1 0.9 0.1 0.9-0.2 1-0.8 0.9 2 0.9-0.6 0.9-4.2 1 5.7 0.9-1.6 0.9-1 0.9 1.2 1-3.1 0.9 1.9 0.9-1.1 0.9 5.5 1-6.3 0.9 0 0.9 3.2 0.9-3.5 1 1.7 0.9-1.1 0.9-1.5 0.9 2.8 1 1.8 0.9-1.6 0.9 2 0.9-0.8 1-0.1 0.9-0.1 0.9-3.2 0.9 0.5 1 2.8 0.9-3.4 0.9 4.6 0.9-1.8 1-0.9 0.9-2.3 0.9 0.6 0.9 0.3 1-1.6 0.9 0.8 0.9-1.4 0.9 3.4 1 1.2 0.9-2.6 0.9-2.6 0.9 0.5 1-1.8 0.9-0.4 0.9-0.4 0.9-1.5 1 1.8 0.9-4.4 0.9 2.8 0.9-2.9 1 1.2 0.9-5.1 0.9 2.8 0.9-7.4 1 4.4 0.9-4.6 0.9-0.2 0.9 0.7 1-5.3 0.9 3.2 0.9-4.3 0.9 5.6 1 0 0.9 3.2 0.9-4.5 0.9 0.3 1 2.7 0.9 2.1 0.9 2.9 0.9-5.2 1 4.6 0.9 6.3 0.9-1.7 0.9 5.4 1-6.7 0.9 0.3 0.9 1.9 0.9 3.5 1 1.7 0.9 2 0.9-2.8 0.9 2.7 1-0.3 0.9 0.8 0.9-0.3 0.9-1.8 1-1.1 0.9 2.8 0.9 0.4 0.9 2 1 0.3 0.9-0.2 0.9-3.2 0.9 1.2 1-1.2 0.9 1 0.9 1.4 0.9 1.4 1-1.4 0.9 1.8 0.9-5.6 0.9 2.9 1 1 0.9-3.8 0.9 3.9 0.9-1.5 1 1.2 0.9-0.9 0.9 1.2 0.9-1.4 1-1.5 0.9 4.4 0.9 1.6 0.9-5.9 1 2 0.9-1.2 0.9 1.9 0.9-3 1-0.5 0.9 4.9 0.9-3 0.9 2.1 1 1.7 0.9-2.2 0.9-1.5 0.9 3.2 1-0.1 0.9-4.2 0.9 1.9 0.9-0.6 1 2.6 0.9-0.9 0.9-1.3 0.9-0.1 1 0 0.9-2.4 0.9 2.4 0.9 2.8 1-1.2 0.9-1.3 0.9-2.3 0.9 3.3 1-0.6 0.9-0.6 0.9 1.1 0.9 0.2 1-1 0.9-2.1 0.9 0.8 0.9 1.2 1-1.2 0.9 2.8 0.9-3.8 0.9 0.3 1 0.8 0.9 3.2 0.9-6.3 0.9 8.4 1-3.3 0.9-0.2 0.9-2.8 0.9 3.7 1-3 0.9 0.6 0.9 0.2 0.9-2 1-1 0.9 1.7 0.9 1.1 0.9 3.3 1-6.5 0.9 2.9 0.9 2.6 0.9-3.6 1-2.4 0.9 2.6 0.9 1.6 0.9-6.1 1 2.6 0.9 0.3 0.9-1.4 0.9 5.4 1-3.9 0.9-0.1 0.9-4.6 0.9 4.8 1-0.2 0.9 1.2 0.9-1.3 0.9-1.3 1-1.1 0.9 0.5 0.9-4.3 0.9 2.5 1-0.5 0.9-1.6 0.9 1.1 0.9 1.9 1 1.6 0.9-3.8 0.9 2 0.9-4.4 1 3.7 0.9 2.6 0.9-4.6 0.9-2.2 1 2.2 0.9-0.9 0.9-0.2 0.9-3.2 1 2.5 0.9 0.5 0.9 0.9 0.9 1.9 1-6.1 0.9 0.3 0.9 4 0.9-3.2 1 0.5 0.9 1.2 0.9-0.2 0.9-2.2 1 3.8 0.9-1.5 0.9-1 0.9-0.2 1 0.3 0.9-0.9 0.9-0.8 0.9 2.8 1-2 0.9 1.1 0.9-4.2 0.9 5.8 1-2.4 0.9-2 0.9 1.9 0.9 0 1 0.4 0.9-1.8 0.9 2.9 0.9-2.2 1 0 0.9 2.7 0.9-3.6 0.9 1.5 1-1.6 0.9-1.2"/>
<path stroke="#0000ff" stroke-dasharray="25 16 4 16" d="M257.5 962.3l0.9 6.9 0.9-4.4 1 1.4 0.9-0.2 0.9-0.3 0.9 2.7 1-2.7 0.9 1 0.9-6.3 0.9 4.6 1 0.9 0.9-0.1 0.9 0.6 0.9 0.5 1-1 0.9-1.2 0.9 1 0.9-1.8 1 1.8 0.9-0.4 0.9-2.2 0.9 1.5 1 1.5 0.9-0.5 0.9-1 0.9-2.1 1 3.3 0.9-0.1 0.9-1.8 0.9 2.8 1-0.9 0.9-1.7 0.9 0.4 0.9 0.7 1-0.8 0.9 5.2 0.9-5.7 0.9 2.9 1 1 0.9-2.8 0.9-0.7 0.9 1.7 1 1 0.9-1.7 0.9 0.1 0.9-2.1 1 1 0.9 0.8 0.9-1.4 0.9 2 1 1 0.9-2.2 0.9 0 0.9 1.2 1 0.8 0.9-1.5 0.9 4.1 0.9-4.7 1 0.3 0.9 3.1 0.9-2.5 0.9 1.5 1-2.5 0.9 4.1 0.9-1.6 0.9-2.4 1-0.7 0.9 4.9 0.9-2.4 0.9-1.2 1 1.4 0.9-3.3 0.9 4.1 0.9-2.2 1 2.1 0.9-3.7 0.9 2.1 0.9 0.6 1 2 0.9-5.1 0.9 1.4 0.9 0 1-0.5 0.9 1.1 0.9 1.5 0.9 0.3 1 0 0.9-3.2 0.9 4.2 0.9-1.3 1-0.4 0.9-0.8 0.9-0.5 0.9 2.7 1 0.7 0.9-2.6 0.9-1.8 0.9 0.7 1 0.8 0.9 0.8 0.9-0.9 0.9 0.8 1-1.6 0.9 2.4 0.9-1.4 0.9 0.4 1-1 0.9 0.5 0.9-3.5 0.9 1.6 1 0 0.9 5.2 0.9-2.5 0.9 0.4 1-1.7 0.9 4.2 0.9-5.2 0.9 0.2 1 3.5 0.9-0.5 0.9-0.3 0.9-1.2 1-0.9 0.9-2.1 0.9 3.3 0.9-1.4 1 0.9 0.9-2.4 0.9 1.5 0.9-0.9 1 3.6 0.9-1.3 0.9 0.9 0.9-3.4 1 1.2 0.9 1.4 0.9 0.2 0.9-1.4 1 1.8 0.9 0.3 0.9-2.1 0.9-2.9 1 4 0.9 0.4 0.9 0.9 0.9 0.3 1-2.8 0.9-0.5 0.9 1.3 0.9-0.5 1 0.3 0.9-0.1 0.9 2.5 0.9-1.6 1-0.8 0.9 1.3 0.9-0.5 0.9 0.5 1-0.7 0.9-1.8 0.9 1.9 0.9-0.4 1-1.5 0.9 0.3 0.9-1.6 0.9 5.6 1-4.4 0.9 2 0.9-1 0.9-1 1-0.4 0.9 0 0.9 1.3 0.9-2.1 1 2.8 0.9-0.3 0.9-1.4 0.9 2 1-4.1 0.9 1.7 0.9-1.7 0.9 3.2 1 0.6 0.9-0.9 0.9-0.9 0.9 2 1-1.5 0.9 0.6 0.9-2.5 0.9 3.4 1-2.5 0.9 2.5 0.9 0.4 0.9-0.4 1 0.7 0.9-2 0.9-1.4 0.9 1.3 1-0.7 0.9-1.5 0.9 2 0.9 0.1 1 0.7 0.9 1.9 0.9-3.5 0.9 3.7 1-3.6 0.9 1 0.9-1.8 0.9 1.8 1 1.1 0.9-1.8 0.9 1.4 0.9-0.6 1-0.4 0.9 0.3 0.9 0 0.9 1 1-1 0.9 2.9 0.9-3 0.9 1.5 1-3.5 0.9-0.3 0.9 4.9 0.9-3.2 1 0.3 0.9 1.4 0.9-2.4 0.9 1.5 1 1.9 0.9-2.3 0.9-0.2 0.9-0.4 1 2 0.9-2.9 0.9-0.2 0.9 2.8 1-0.8 0.9-0.9 0.9 0.7 0.9-3.5 1 2.3 0.9 1.8 0.9-0.4 0.9-1.2 1-3.6 0.9 3.7 0.9-0.5 0.9-0.6 1 0.8 0.9-3.6 0.9 4.2 0.9-2 1 0.8 0.9-0.8 0.9 2.7 0.9-4.6 1 2.9 0.9-0.4 0.9 1.5 0.9-0.4 1-2.1 0.9-0.8 0.9 0.3 0.9-0.8 1 0.7 0.9 0.9 0.9-1.3 0.9 0.2 1 1 0.9-1.4 0.9-1 0.9 1.5 1 0.8 0.9-1.8 0.9-2 0.9 3.2 1-0.3 0.9-0.1 0.9-2.2 0.9 4.6 1-3.6 0.9-1.4 0.9 3 0.9-3.8 1 1.4 0.9 1.6 0.9-1.4 0.9 2.6 1-1.7 0.9-4 0.9 4.2 0.9-4.5 1 2.9 0.9-1.9 0.9 1.4 0.9 3.5 1-2.9 0.9-1.4 0.9 2 0.9 0.1 1-2.9 0.9 1.4 0.9 1.5 0.9-1.9 1-2.8 0.9 2 0.9-2.6 0.9-1.2 1 2.2 0.9 1.6 0.9 0 0.9-2.4 1-1.8 0.9 0.7 0.9-0.8 0.9 1.3 1-1.5 0.9 0.9 0.9-0.6 0.9 1.4 1 0.1 0.9-2.2 0.9 0.7 0.9-0.6 1-3.2 0.9 1 0.9-5.7 0.9 3.1 1 2.4 0.9-2.9 0.9 0.4 0.9 1.5 1-3.6 0.9 3 0.9 3.7 0.9-7.3 1 2.2 0.9-4.2 0.9 3.5 0.9 0.6 1-5.4 0.9 4.4 0.9-2.7 0.9-2.6 1 2.1 0.9 0 0.9-0.7 0.9-1.7 1 2.7 0.9-3 0.9-0.4 0.9-3.6 1 4.6 0.9 0.7 0.9-3.5 0.9 1.8 1-1.7 0.9-0.1 0.9-2.4 0.9 3.1 1-1.5 0.9 4.4 0.9-3.6 0.9-5.1 1 3.9 0.9-0.4 0.9 0.6 0.9-3.9 1 0.4 0.9 2.2 0.9-4 0.9 0.4 1-1.4 0.9 2.3 0.9-5.1 0.9 2.2 1 0.7 0.9 0.4 0.9-1 0.9-2.6 1 1.9 0.9-3.1 0.9 0.6 0.9-2 1 0.7 0.9 1.4 0.9 3.4 0.9-4.9 1-1.4 0.9 1 0.9-1.2 0.9 1.8 1-0.6 0.9 0.9 0.9-5.2 0.9 2.2 1 1 0.9 1.5 0.9-2.8 0.9-3.7 1 1.8 0.9 2.2 0.9-4.9 0.9-0.3 1 0.6 0.9 0.1 0.9-1.1 0.9 1 1-0.8 0.9 3.1 0.9-5.2 0.9 2.4 1-4.1 0.9 8.4 0.9-6.2 0.9-0.9 1 2.6 0.9-2 0.9-0.9 0.9 0.1 1 2.1 0.9-1.1 0.9-2.9 0.9-0.8 1 2.3 0.9-0.2 0.9-0.6 0.9-2.1 1 4.4 0.9 0.3 0.9-3.4 0.9 2.4 1-1.4 0.9-1.7 0.9-1.2 0.9 3.2 1-4.4 0.9 5.5 0.9-5.4 0.9 4.5 1-0.9 0.9-4.5 0.9 2.1 0.9 0.6 1-1 0.9-2.3 0.9 1 0.9-0.3 1-2.7 0.9 3.8 0.9-0.8 0.9-0.1 1-4.1 0.9 0.2 0.9-0.9 0.9 2.7 1 0 0.9-2.5 0.9 2.6 0.9-3.1 1 0 0.9 3 0.9-1.6 0.9-0.2 1-4.5 0.9-2.2 0.9 5.9 0.9-0.5 1 5 0.9-6 0.9 0.3 0.9 2.2 1-4.5 0.9 5.2 0.9-3.4 0.9-1.1 1 3 0.9-5.1 0.9-0.7 0.9 5.5 1-0.2 0.9-4.9 0.9 1.3 0.9 2.6 1-2.4 0.9-0.6 0.9-0.1 0.9-2.5 1 0.9 0.9-3.5 0.9 0.8 0.9 1.5 1-1.1 0.9-0.8 0.9 1.4 0.9 4.4 1-5.1 0.9 1.8 0.9-3.8 0.9 3.5 1-1.1 0.9 0.4 0.9-3.2 0.9 3.5 1 1 0.9-1.4 0.9 1.8 0.9-1.5 1 0.4 0.9-0.7 0.9-4 0.9 5.5 1-1.2 0.9 0.5 0.9-2.2 0.9 4.3 1-1.3 0.9-1.7 0.9-1.6 0.9 1.1 1 0.8 0.9 0.6 0.9-3.7 0.9-2.8 1 2 0.9-0.7 0.9-1.9 0.9 2 1-3.2 0.9-1.9 0.9-3.3 0.9-1.2 1 0.8 0.9-8.2 0.9-3.8 0.9 2.2 1-5.5 0.9-4 0.9-6.4 0.9 0.7 1-13.8 0.9-0.2 0.9-10.2 0.9-2.3 1-3.8 0.9-5.2 0.9-6.6 0.9 1.5 1-4.1 0.9-2.9 0.9-0.2 0.9-11.9 1-2.4 0.9-3.4 0.9-8.7 0.9-0.7 1-9.6 0.9-13.2 0.9-7.6 0.9-2.6 1-9.9 0.9-21 0.9-22.9 0.9-16 1-23.6 0.9-28.3 0.9-24.9 0.9-34 1-33.3 0.9-29.1 0.9-24.9 0.9-14.1 1-8.3 0.9 9.4 0.9 13.6 0.9 23.2 1 40.4 0.9 37.1 0.9 27.9 0.9 28.3 1 25.8 0.9 24.5 0.9 26.6 0.9 18.9 1 11.1 0.9 20.7 0.9 7 0.9 14.7 1 7.4 0.9 9.1 0.9 7.9 0.9 7.2 1 12.3 0.9 7.4 0.9 13.6 0.9 11.8 1 7.8 0.9 10 0.9 5.8 0.9 4 1 2.5 0.9 0.7 0.9 6.6 0.9-1.7 1 5 0.9 4.1 0.9 5.2 0.9-0.9 1 1.2 0.9 6.9 0.9-5.2 0.9 0 1 3.6 0.9 0.5 0.9-3.2 0.9 3.2 1 5 0.9-1.2 0.9 0.8 0.9 0.5 1 5 0.9-6 0.9 3.3 0.9-1.3 1 0.9 0.9-1.8 0.9 2.6 0.9 1.2 1-2.5 0.9-1.6 0.9 3.6 0.9-3.3 1 2.4 0.9 1.7 0.9-4 0.9 4.8 1-3.5 0.9 3.3 0.9-1.6 0.9 3.8 1-0.3 0.9-3.2 0.9 2.2 0.9 0.9 1 1.5 0.9-1.2 0.9 4.1 0.9-0.2 1-1.4 0.9 1.5 0.9-0.1 0.9-1.2 1 0 0.9-0.2 0.9-4.2 0.9 0.4 1-1.3 0.9 1.4 0.9-0.3 0.9 0.6 1-3.7 0.9 2.1 0.9-4.7 0.9-4.4 1-3.5 0.9-0.4 0.9 1.8 0.9-5.1 1 0.4 0.9-6.2 0.9-0.6 0.9-5 1-7 0.9 0.4 0.9-7.1 0.9 1.5 1-2 0.9-6.6 0.9-3.1 0.9 3.6 1-3.7 0.9 1.8 0.9-5.2 0.9-4.8 1 0.8 0.9-0.3 0.9 0.9 0.9-5.7 1-1.8 0.9 0.3 0.9 1.1 0.9 4.7 1-7.1 0.9 6.2 0.9 2 0.9-0.3 1 9.6 0.9-3 0.9 2.6 0.9 1.2 1 0.1 0.9 5.1 0.9 9.1 0.9 0.3 1 2.7 0.9 4.3 0.9 7 0.9 4.4 1-1.4 0.9 4 0.9 4.2 0.9 6.7 1-4.1 0.9 12.1 0.9-2.6 0.9-2.3 1 6.5 0.9 1.4 0.9 4.5 0.9-2.7 1 6.5 0.9-1.2 0.9 1.8 0.9 3.4 1-1.9 0.9 5.2 0.9 0 0.9 0.1 1 1.7 0.9-0.4 0.9 0.3 0.9 2.8 1 1.3 0.9 0.8 0.9 0.6 0.9-1 1 2.4 0.9-0.2 0.9 1.6 0.9 1.8 1-1.8 0.9 3.5 0.9-0.9 0.9-1.5 1 4.3 0.9-0.9 0.9 2.6 0.9-1.1 1 1.8 0.9-1.2 0.9 0.5 0.9-0.7 1-1.7 0.9 2 0.9-0.3 0.9 1.2 1 0.4 0.9 1 0.9 1.5 0.9-2.3 1-1.9 0.9 1.7 0.9 1.5 0.9-2.7 1 2.9 0.9 0.4 0.9 0.9 0.9-0.2 1-0.8 0.9-2.9 0.9 3.1 0.9 1.2 1-0.5 0.9-0.4 0.9 2.1 0.9-2.3 1-0.7 0.9 0.6 0.9-0.2 0.9 2.5 1 0.6 0.9-3.7 0.9 0.3 0.9 3.5 1-2.2 0.9 0.3 0.9-0.5 0.9 0.5 1 1 0.9-0.8 0.9 0.1 0.9 0.4 1 2.3 0.9 1.5 0.9-2.7 0.9 1.2 1-2.4 0.9-0.5 0.9 0.7 0.9 0.8 1-0.5 0.9-1.3 0.9 2.4 0.9-2 1 0.3 0.9 0.6 0.9-1.4 0.9 2.7 1-2.1 0.9 2.4 0.9-0.2 0.9 0.3 1-1.9 0.9 1.7 0.9-1.4 0.9 1.4 1-3.1 0.9-1.4 0.9 1.4 0.9-2.8 1 0.1 0.9-3.7 0.9 2.1 0.9 3.1 1-2.5 0.9 3.5 0.9 2.3 0.9 0.2 1 1.8 0.9-1.5 0.9 1.4 0.9-2.9 1 1.2 0.9 3 0.9 0 0.9-1.1 1 1.8 0.9-2.1 0.9 0 0.9 1 1-0.2 0.9-1.2 0.9-1 0.9 0 1 1.9 0.9-0.9 0.9 2 0.9-1.3 1 1.7 0.9-1.9 0.9 2.5 0.9-0.2 1-1.1 0.9-0.5 0.9 2.4 0.9-0.9 1-0.7 0.9 0 0.9 1.4 0.9-1 1 0.6 0.9-1.9 0.9 1.2 0.9 2.3 1 1.1 0.9-2.5 0.9-1.2 0.9 1.3 1-0.7 0.9 1.7 0.9 1.1 0.9-2.3 1 0.9 0.9-0.6 0.9 2.5 0.9-1.7 1 1 0.9-1.5 0.9 1.7 0.9 0.1 1 0.1 0.9-2 0.9 1.5 0.9 0.9 1 0.4 0.9 0.1 0.9-2.7 0.9 3.7 1-1 0.9-1.6 0.9-0.5 0.9 1.5 1-1 0.9 0 0.9-0.2 0.9 1.1 1-1.8 0.9 1.6 0.9-1.5 0.9 2.9 1-2.2 0.9 2.4 0.9 0.2 0.9-2.2 1 1.5 0.9-1.4 0.9 1.6 0.9-3 1 1.8 0.9 1.2 0.9-1.5 0.9-0.8 1 1.8 0.9-1.5 0.9-1.7 0.9 1.3 1 0.9 0.9 0.6 0.9-1.3 0.9 2.2 1 1.7 0.9-2.7 0.9 0.4 0.9-3.2 1 1.8 0.9 1.2 0.9 0.1 0.9-1.9 1 1.4 0.9-0.3 0.9-0.6 0.9-0.3 1-0.1 0.9 0 0.9-1.4 0.9-0.6 1 3.8 0.9-4.9 0.9 2.7 0.9-1.3 1 2.2 0.9-1.3 0.9 0.1 0.9 0 1-0.9 0.9 0.2 0.9 1.8 0.9-1.1 1-1 0.9 0 0.9 1.1 0.9-0.2 1-0.2 0.9 1.1 0.9 0.1 0.9-3.4 1 2.2 0.9-0.6 0.9 0.9 0.9-2.4 1-0.6 0.9 2.2 0.9-0.9 0.9 1.4 1-3 0.9 1 0.9 2 0.9-2.5 1 1 0.9-0.1 0.9 0 0.9 1.1 1-0.2 0.9-1.4 0.9 0.8 0.9 1 1-3.6 0.9 2.6 0.9 0.4 0.9 0.1 1-1.6 0.9-0.4 0.9 0.8 0.9-0.7 1 2.7 0.9-1.3 0.9 0.1 0.9-0.6 1-0.6 0.9 3 0.9-6.2 0.9 4.8 1-1.5 0.9-0.5 0.9-0.1 0.9 0.8 1 3.7 0.9-2.2 0.9-2.1 0.9 2 1 0.2 0.9 1.5 0.9-4.2 0.9 0.9 1 1.7 0.9-0.9 0.9 0 0.9 1.3 1-1 0.9-0.6 0.9-0.3 0.9-0.8 1 1.5 0.9 0.7 0.9-1 0.9 1.3 1 0.8 0.9-2.8 0.9 1.9 0.9-0.5 1-0.6 0.9 2.1 0.9-1.9 0.9 0.2 1 0.8 0.9-0.5 0.9 1.4 0.9 1.7 1-2.1 0.9 0.8 0.9-2 0.9 0.7 1 1 0.9-0.6 0.9-1.4 0.9 0.3 1 1 0.9 0 0.9 0.9 0.9-0.1 1-0.8 0.9 0.9 0.9-0.4 0.9 1.7 1 0.7 0.9 0.1 0.9-1.4 0.9-1.9 1 0.2 0.9 2.5 0.9 0.7 0.9-2.5 1 0.4 0.9 2.2 0.9-2.7 0.9 1.1 1-1.2 0.9 1.2 0.9-0.5 0.9 0.7 1 1.5 0.9-0.7 0.9 0.6 0.9-1.6 1 2.1 0.9 0.7 0.9-2.3 0.9-0.4 1-0.2 0.9 0.5 0.9 2.9 0.9-0.8 1 0 0.9-0.5 0.9 2.4 0.9-2.2 1-0.2 0.9 1.4 0.9-1 0.9-1 1 1.3 0.9-0.9 0.9 0.1 0.9 0.8 1 0.1 0.9 0.9 0.9-1.6 0.9 1.9 1 0.3 0.9-1.3 0.9 1.6 0.9-1.1 1-0.6 0.9 1.1 0.9 0.1 0.9-0.7 1 0.3 0.9 2.4 0.9-0.2 0.9-2.5 1 1 0.9 2.6 0.9-0.7 0.9-1.3 1 1.1 0.9-1.4 0.9 0.5 0.9-0.3 1 1.7 0.9-1.7 0.9-1.3 0.9 2.8 1-2 0.9 0.4 0.9 0.3 0.9 0.8 1 1.1 0.9-0.2 0.9-1.6 0.9-0.2 1-0.2 0.9 0.3 0.9 0.1 0.9 1.3 1 0.8 0.9-1.4 0.9-0.3 0.9 0.4 1 1.6 0.9-1 0.9 0.9 0.9-1.5 1 1.1 0.9-0.8 0.9-0.5 0.9 0.2 1-1.2 0.9 2.4 0.9 1 0.9-3 1-0.5 0.9 0 0.9 1.1 0.9-0.3 1 0.4 0.9 1.4 0.9-0.7 0.9-1 1 1 0.9-2.4 0.9 3.3 0.9-1.1 1-1.5 0.9 1.7 0.9 0.5 0.9 0.2 1-0.6 0.9-2.2 0.9 1.1 0.9-0.2 1 1.1 0.9-1.4 0.9 0.7 0.9 1 1-0.4 0.9-0.7 0.9-1 0.9 1.2 1-0.5 0.9-1.5 0.9 2.7 0.9 0.5 1-2.2 0.9 0.5 0.9 0.5 0.9-0.4 1 0.6 0.9-0.8 0.9 0.8 0.9-1.1 1 1.9 0.9-0.3 0.9-1 0.9 0.6 1-1.2 0.9 0.8 0.9 0.4 0.9-0.7 1 0.7 0.9 1 0.9-0.4 0.9-0.3 1-0.4 0.9-0.5 0.9-0.9 0.9 0.4 1-1.2 0.9 0.5 0.9 1.4 0.9-1.8 1 0.4 0.9 1.6 0.9-0.7 0.9-0.8 1 0.8 0.9-0.7 0.9 0.6 0.9-0.4 1 1 0.9-0.7 0.9 0.8 0.9-1.1 1 2.4 0.9-2 0.9-1 0.9 0.7 1 0.6 0.9-0.6 0.9 1.4 0.9 0 1-0.5 0.9-0.2 0.9-1.1 0.9 1.8 1-1.9 0.9 2.5 0.9-0.8 0.9-0.7 1-1.2 0.9 1.7 0.9 1.6 0.9-2.6 1 0.4 0.9 1.1 0.9-0.1 0.9-0.3 1-0.8 0.9-0.6 0.9 2.1 0.9-3.7 1 2.3 0.9 0.3 0.9-1 0.9 0.5 1-2.2 0.9 1.2 0.9 1.5 0.9 0 1 0.1 0.9-0.2 0.9-1 0.9 1.3 1-2.3 0.9 1.7 0.9 0.1 0.9-1.1 1 2.9 0.9-1.1 0.9-1.5 0.9 0.6 1 0 0.9-0.5 0.9 1 0.9-0.4 1 1.2 0.9 0.5 0.9-3.2 0.9 2.2 1-0.2 0.9-2.2 0.9 0.4 0.9 1.5 1 0 0.9-0.5 0.9 0.9 0.9-1.5 1 0.3 0.9 0 0.9-0.6 0.9-0.1 1-1.1 0.9 0.2 0.9 3.2 0.9-2.7 1 1.9 0.9 0.2 0.9-2.3 0.9 1.3 1-0.6 0.9-1.7 0.9 1.6 0.9-0.1 1-1.6 0.9-1.4 0.9 0.3 0.9 1.7 1-1.5 0.9-1.2 0.9-3 0.9 0.4 1-0.7 0.9-1.2 0.9 1 0.9-1.7 1-0.8 0.9 1.1 0.9-1.8 0.9-1.3 1 1.7 0.9-2.6 0.9 0 0.9-0.3 1 2.6 0.9-0.8 0.9-1.1 0.9 1.5 1 2.6 0.9-0.4 0.9-0.7 0.9 2.6 1 0.2 0.9-1.7 0.9 3.7 0.9 0.8 1 1.6 0.9 0.2 0.9-1.8 0.9 2.2 1 1.5 0.9 0.1 0.9-0.6 0.9-0.5 1 1.8 0.9-1.3 0.9 1.4 0.9-0.7 1-0.1 0.9 0 0.9 1.2 0.9-0.2 1-0.6 0.9 1.9 0.9-1.5 0.9-0.3 1-0.4 0.9 1.1 0.9 0.2 0.9-0.3 1 0.9 0.9-0.5 0.9-0.6 0.9 0.1 1 1.4 0.9-0.7 0.9 1.8 0.9-2.9 1 1.4 0.9-0.8 0.9 1.4 0.9-1 1-0.5 0.9-0.5 0.9 2.3 0.9-2.2 1 1 0.9 0.6 0.9-1.2 0.9 0.8 1 0 0.9 0.4 0.9-0.9 0.9 0.2 1 0.2 0.9 0.8 0.9-0.4 0.9-0.9 1-0.8 0.9 1.3 0.9-1.4 0.9 1.4 1 1 0.9-1.6 0.9 1.5 0.9-1.3 1-0.6 0.9 1.3 0.9-0.2 0.9-2.4 1 2.2 0.9-0.1 0.9-0.4 0.9 0.8 1 0 0.9-0.4 0.9 2.7 0.9-3.7 1 2.4 0.9 0.1 0.9-1.6 0.9 0.5 1 1.3 0.9-1.5 0.9 1.4 0.9-0.5 1 0.8 0.9-0.6 0.9-1.2 0.9 0.3 1-0.2 0.9-0.6 0.9 1 0.9 0.6 1-0.4 0.9-1.8 0.9 1.5 0.9-0.3 1 0.4 0.9-0.3 0.9-0.2 0.9 0.4 1 0.2 0.9 0.5 0.9 0.1 0.9-1.3 1-0.4 0.9-0.2 0.9 0.7 0.9 0.8 1-1.5 0.9-0.1 0.9 2 0.9-2.3 1 0.1 0.9-1.2 0.9 2.6 0.9 0.1 1-2.2 0.9 2.5 0.9-1.2 0.9 0.2 1-0.2 0.9 0.8 0.9-1.8 0.9-1.4 1 0.4 0.9-0.2 0.9 0.7 0.9-2 1 0.8 0.9-0.6 0.9 2.5 0.9-2.1 1 1.5 0.9-1.7 0.9 0 0.9 1.3 1-1.5 0.9-1.2 0.9 0.6 0.9-0.2 1 1.4 0.9-0.3 0.9 0.3 0.9-1.4 1-1.3 0.9 0.7 0.9 0.4 0.9 1.1 1-1.9 0.9 0.6 0.9 1.8 0.9-0.4 1-1.6 0.9 0.5 0.9-3 0.9 1.7 1 1 0.9-0.7 0.9-2.5 0.9 2.7 1-2 0.9 0.2 0.9-1.3 0.9 0.9 1 0.9 0.9-1.2 0.9 0.4 0.9-1.2 1 1.1 0.9-2.5 0.9 2.2 0.9-0.7 1 1.1 0.9-1.1 0.9 0 0.9-0.3 1-1 0.9 1.5"/>
<path stroke="#ff00ff" stroke-dasharray="18 16 4 16 4 16" d="M257.5 965.5l0.9-0.7 0.9-2.8 1 1.6 0.9 3.4 0.9-2.4 0.9 0.9 1-1.2 0.9 2.7 0.9-2.8 0.9 0 1-2 0.9 1.9 0.9-0.3 0.9 3 1-5.6 0.9 6.3 0.9-4.5 0.9 2.1 1 0.8 0.9-0.3 0.9 0 0.9-1.5 1 0.7 0.9-2.4 0.9 5 0.9-2.7 1 1.3 0.9-2.5 0.9 4.3 0.9-2.6 1-0.8 0.9 2.5 0.9-3.7 0.9 1.2 1-1.2 0.9 0.1 0.9 2.9 0.9-0.3 1-0.9 0.9-1.4 0.9-0.1 0.9 2.3 1-0.2 0.9 0.3 0.9-0.3 0.9-0.5 1-0.2 0.9-3.2 0.9 3.8 0.9-0.3 1-1.1 0.9 2.1 0.9-0.9 0.9-0.5 1-1.2 0.9 3.2 0.9-4 0.9 2.5 1-0.7 0.9-1 0.9 0.2 0.9-0.5 1 1.3 0.9 0.3 0.9-0.5 0.9 1.9 1-3.3 0.9 3 0.9 0.8 0.9-5 1 3.3 0.9 1.6 0.9-4.6 0.9 3.3 1-2.1 0.9 2.9 0.9-0.9 0.9 2.1 1 0.4 0.9-1.4 0.9-1.3 0.9-1.3 1-2.5 0.9 5.2 0.9-3 0.9 2.4 1-0.7 0.9 2 0.9 0 0.9-1.1 1 0.7 0.9-1.8 0.9 1 0.9-2.9 1 1.7 0.9 0 0.9-1.5 0.9 0.9 1 0.9 0.9 0 0.9 0.1 0.9-1.8 1 0.4 0.9 0.7 0.9-0.7 0.9 2 1-1.5 0.9 2.8 0.9-4.1 0.9 1.9 1-0.2 0.9-0.6 0.9 0.9 0.9 0.4 1-2.1 0.9 1.6 0.9 1.5 0.9-2 1 3.2 0.9-5 0.9 2.7 0.9-0.3 1-3.3 0.9 0.1 0.9 3.1 0.9-0.8 1-0.7 0.9-0.9 0.9 2.7 0.9-0.4 1-1.6 0.9 1.4 0.9-0.7 0.9 0.2 1 2.6 0.9-0.4 0.9 2.7 0.9-3.6 1-2.4 0.9 3.7 0.9-3.5 0.9 0.3 1 1.6 0.9-0.1 0.9-0.1 0.9 1.4 1-0.9 0.9-0.3 0.9-1 0.9-0.3 1 2.3 0.9-2.3 0.9 2.4 0.9-1 1-0.8 0.9 0.6 0.9 0.2 0.9-0.6 1 1.2 0.9 0.1 0.9-0.6 0.9-1.8 1 1.6 0.9-3 0.9 2.5 0.9 4.8 1-3.8 0.9-3.2 0.9 2.5 0.9 0.6 1 0.7 0.9-3.3 0.9 0.5 0.9 0.5 1 0.3 0.9-1.5 0.9 0.9 0.9 3 1-2.9 0.9 0.8 0.9 0.4 0.9-1.3 1 1.1 0.9 4.4 0.9-6.7 0.9 0.8 1 1.7 0.9 0.3 0.9-0.9 0.9 2.3 1-2.4 0.9 0.8 0.9 0.2 0.9 0.8 1-0.4 0.9-2.7 0.9-0.3 0.9 1.2 1 0.8 0.9 1.2 0.9-2.4 0.9-1.3 1 4.8 0.9-4.2 0.9 5 0.9-2.8 1-1.1 0.9 2.6 0.9 0.2 0.9-2.5 1-1.1 0.9 2 0.9-2.7 0.9 3.1 1-3.8 0.9 2.4 0.9-0.2 0.9-0.6 1 0.4 0.9-2.3 0.9-0.5 0.9 2.4 1 1.1 0.9 1.5 0.9-0.7 0.9-1.2 1 0.1 0.9-0.1 0.9-0.1 0.9-0.8 1 2.8 0.9-0.5 0.9-3.3 0.9 0.4 1 2 0.9-2.8 0.9 3 0.9-0.7 1 2.3 0.9-4.1 0.9 1.3 0.9-1.7 1 0.5 0.9 0.9 0.9-0.2 0.9-1.6 1 2 0.9 0 0.9-0.4 0.9-1.2 1-0.2 0.9-1.6 0.9 3 0.9-2.1 1 2.8 0.9-2 0.9 0.7 0.9-2.6 1 1.7 0.9 1.5 0.9-1.7 0.9 0.3 1 0.9 0.9-0.1 0.9 0.9 0.9-5.8 1 3.9 0.9-1.4 0.9 3.2 0.9-0.2 1-1.5 0.9-0.2 0.9-1.6 0.9 2.7 1-2.5 0.9-1.7 0.9 3.7 0.9-3 1 2.8 0.9-2.2 0.9-0.1 0.9-2.3 1 3.7 0.9-1.5 0.9-1.6 0.9 3.4 1-2 0.9 1.2 0.9-0.4 0.9-2.3 1-0.2 0.9-3.2 0.9 1.8 0.9 0 1 2.1 0.9 0.1 0.9-0.9 0.9 3.8 1-6.6 0.9 3.6 0.9 0.5 0.9-1.1 1-2.4 0.9-0.8 0.9 2.5 0.9-1.6 1 0.6 0.9 1.4 0.9-2.2 0.9 0 1 2.4 0.9-4.6 0.9 4.2 0.9-3.3 1 1.9 0.9-0.6 0.9-0.5 0.9-2.6 1 3 0.9-2.1 0.9-3.2 0.9 3.5 1-1.4 0.9-1.5 0.9 1.9 0.9-2.1 1 1.6 0.9-2.6 0.9 0.8 0.9 1.4 1-4.4 0.9 2.3 0.9 0.1 0.9 0.8 1-1.1 0.9-1 0.9-0.8 0.9-1.9 1 3.9 0.9-2 0.9-3 0.9 1.5 1-0.8 0.9-2.4 0.9 1.9 0.9-0.5 1 0.6 0.9-3.6 0.9 1 0.9 3 1-2.7 0.9 2.8 0.9-4.3 0.9 0.4 1 1.2 0.9 0.2 0.9 2.2 0.9-5 1 1.3 0.9 0.1 0.9-2.3 0.9 2.3 1-0.4 0.9-0.2 0.9 1 0.9-7.4 1 4.5 0.9 0 0.9-2.7 0.9 7.4 1-6.3 0.9-0.4 0.9 1.6 0.9-3.1 1 4.5 0.9-4.2 0.9-2.1 0.9 5.7 1-1.8 0.9-2.8 0.9-0.6 0.9 1 1-2.3 0.9-0.1 0.9 2.8 0.9-2.8 1 2 0.9 1.3 0.9 0.4 0.9-7.2 1 2 0.9-4.5 0.9 6.5 0.9-2.6 1-1.7 0.9 0.6 0.9-1.6 0.9 0.4 1 1.2 0.9 3.1 0.9-3.1 0.9-5.8 1 1.6 0.9-1.6 0.9 3.6 0.9-1.1 1 1 0.9-3 0.9 0.4 0.9-1.2 1-3.1 0.9 5 0.9-3.6 0.9 4.1 1-5.6 0.9 2.9 0.9-1.2 0.9-0.8 1-3.6 0.9 3.2 0.9 0.6 0.9 1.1 1-3.4 0.9 2 0.9-1.1 0.9-1.4 1-1.9 0.9 2.6 0.9-3.3 0.9-2.8 1 6.7 0.9-6.5 0.9-2.1 0.9 5.6 1-3 0.9 4 0.9-4.1 0.9 1.1 1-1.8 0.9 2.4 0.9-0.6 0.9-1.2 1 0.3 0.9-0.6 0.9-1.2 0.9 1.7 1-2.5 0.9-1.7 0.9 5.9 0.9-6 1 1.8 0.9 0.5 0.9 0.2 0.9-1.4 1-0.6 0.9-2.8 0.9 3.2 0.9-5.5 1 3.8 0.9-3.8 0.9-1.3 0.9 4.9 1-5.6 0.9-3 0.9 5.6 0.9-2.7 1 1.2 0.9-0.9 0.9 0.2 0.9 0.4 1-3.3 0.9-0.8 0.9 1.7 0.9-3.9 1 0.6 0.9 0.5 0.9 2.9 0.9-6.5 1 1 0.9 7.8 0.9-2.9 0.9-1.8 1-3.7 0.9-1.1 0.9 3.2 0.9-1.6 1-1.4 0.9 4.3 0.9-4.8 0.9 1.8 1-1.5 0.9 0.3 0.9 2.4 0.9-0.8 1-2.8 0.9-0.5 0.9 0.6 0.9-3.5 1 3.1 0.9 1.8 0.9-2.4 0.9-0.7 1-0.4 0.9-3.4 0.9 1.2 0.9-1.6 1 0.7 0.9 1.6 0.9-3.3 0.9 2.9 1-1.6 0.9 2.7 0.9-3.2 0.9 0.7 1-2.2 0.9-4 0.9-1.9 0.9 2.9 1 2 0.9-2.7 0.9 0.9 0.9 1.5 1-2 0.9-0.3 0.9 0.2 0.9-5.9 1 4 0.9-1.1 0.9-4.1 0.9 2.4 1-0.1 0.9-2.2 0.9-4.9 0.9-1.4 1-1.5 0.9 0.2 0.9-0.8 0.9-7.5 1 2.8 0.9-7.6 0.9-2 0.9-7.9 1-6.4 0.9-9.7 0.9 4.8 0.9-17.4 1 0.1 0.9-8.7 0.9-6.5 0.9-0.5 1-6.3 0.9-6.4 0.9-3.8 0.9-4.3 1-9 0.9-7.1 0.9-3.9 0.9-16.7 1-7.3 0.9-4.6 0.9-17.3 0.9-21.7 1-16.4 0.9-15.4 0.9-16.1 0.9-27.5 1-29.4 0.9-26.3 0.9-27.6 0.9-28.9 1-33 0.9-23 0.9-21.8 0.9-13.3 1-6.7 0.9 10 0.9 15 0.9 28.3 1 20.5 0.9 31.8 0.9 34.7 0.9 37.9 1 25.8 0.9 26.6 0.9 20.4 0.9 27.4 1 20.4 0.9 18.8 0.9 15.4 0.9 21.5 1 12.7 0.9 12.8 0.9 8.4 0.9 9.8 1 7.4 0.9 11.1 0.9 4.5 0.9 9.5 1-1.6 0.9 12.8 0.9-3.1 0.9 6.9 1 11.3 0.9-2.6 0.9 3.7 0.9 8.2 1-3.4 0.9 3.9 0.9 0.7 0.9 4.8 1-0.6 0.9 0.1 0.9 2.7 0.9 2.2 1-0.3 0.9 2.9 0.9-2.6 0.9 7.8 1-9.7 0.9 4 0.9-0.8 0.9-0.7 1 5.2 0.9-8.9 0.9 8.2 0.9-4.5 1-0.3 0.9-3.3 0.9 2.3 0.9 2.4 1-5.7 0.9 5.6 0.9-7.7 0.9-1.5 1-7.8 0.9 2.2 0.9-2.3 0.9-2.2 1-2.8 0.9-4.2 0.9-6.7 0.9 1.4 1-6.8 0.9-0.4 0.9-7.3 0.9-5 1-0.7 0.9-6.4 0.9-6.8 0.9-7 1-6.2 0.9-3.1 0.9-4 0.9-4.9 1-13 0.9-8.1 0.9-4.3 0.9-11.4 1-4.4 0.9-11.2 0.9-17 0.9-5 1-16 0.9-10.4 0.9-10.5 0.9-15.6 1-4.6 0.9-13 0.9-7.4 0.9-14.7 1-13.5 0.9-12.3 0.9-12.3 0.9-13.1 1-8.9 0.9-7.7 0.9-16.6 0.9-11.1 1-5.7 0.9-10.3 0.9-15.4 0.9-5.9 1-7.2 0.9-5 0.9-3.7 0.9-2.4 1-5.9 0.9 0.2 0.9-0.2 0.9-0.7 1 1.7 0.9 0 0.9 8.6 0.9-4.5 1 15.1 0.9 5.1 0.9 3.8 0.9 12.9 1 8 0.9 8.1 0.9 18.1 0.9 3.8 1 12.1 0.9 9.2 0.9 9.3 0.9 11.1 1 9.2 0.9 11.8 0.9 12.6 0.9 14.4 1 8.4 0.9 16.6 0.9 8.6 0.9 6.6 1 12.2 0.9 16 0.9 8.3 0.9 6.4 1 11.3 0.9 9.2 0.9 17.9 0.9 8.7 1 7 0.9 12.3 0.9 8 0.9 10 1 9.2 0.9 11.6 0.9 7.4 0.9 6.8 1 7.4 0.9 8.7 0.9-2 0.9 7.5 1 3.7 0.9 4.7 0.9 8.6 0.9-1.5 1 7.7 0.9 6.3 0.9-1.2 0.9 8.6 1 2.9 0.9 2.6 0.9 2.3 0.9 11.2 1 1.1 0.9 0.2 0.9 5.6 0.9 7.8 1-4.6 0.9 1.9 0.9 0.9 0.9 2.9 1 3 0.9 0.4 0.9 2 0.9 2.3 1 0.1 0.9 1.2 0.9 3.8 0.9-2.2 1 1.6 0.9 1.4 0.9 7.2 0.9-3.7 1 1.4 0.9 2.4 0.9-1.7 0.9 4.2 1-3.8 0.9 2.1 0.9 2 0.9-2.5 1 2.2 0.9 0.7 0.9 3.1 0.9-2.3 1-0.9 0.9 0.9 0.9 4.2 0.9-3.7 1 0.1 0.9 1.5 0.9 2.3 0.9 2 1-0.5 0.9-0.2 0.9-0.9 0.9-0.1 1 2.2 0.9 1.6 0.9-1.5 0.9 1.6 1-3.6 0.9 4 0.9-2.2 0.9-0.2 1 2.8 0.9-2.6 0.9 1.8 0.9 1.1 1 0.4 0.9-1.4 0.9-1.3 0.9 4.3 1-3.5 0.9 1.1 0.9 0.9 0.9-0.9 1-0.2 0.9 0.1 0.9-1.3 0.9 2.4 1-4.1 0.9 1.4 0.9 1.9 0.9 1.7 1-3.1 0.9 0.1 0.9-2.3 0.9-1 1-3.3 0.9 0.6 0.9-5.3 0.9-3.7 1-5.5 0.9-3.3 0.9 8.4 0.9 5.7 1 4.3 0.9 1.4 0.9 1.3 0.9 2.1 1 2.2 0.9-1.6 0.9 2 0.9-0.3 1-0.4 0.9 0.3 0.9 4 0.9-5.2 1 1.7 0.9-1.2 0.9-0.3 0.9 5.1 1-0.1 0.9-0.6 0.9-0.5 0.9 2.3 1 0.1 0.9-1.5 0.9 2.9 0.9-1.2 1-0.9 0.9 1.9 0.9-1.1 0.9 1.3 1 2 0.9-1.1 0.9-0.3 0.9 0.3 1-0.3 0.9-0.3 0.9 0.2 0.9 0.3 1 0.9 0.9-0.1 0.9 0.3 0.9 0.4 1-2.4 0.9 4.2 0.9-2.5 0.9 2.4 1-1.1 0.9-1.7 0.9 1.5 0.9-2 1 3 0.9-0.7 0.9 0.5 0.9-0.6 1 0.5 0.9 0.2 0.9-0.5 0.9-1.1 1 1.3 0.9 0.2 0.9 0.6 0.9 0.6 1 1 0.9-0.3 0.9-1.2 0.9 2.4 1-2.9 0.9 1.4 0.9 0.7 0.9-0.3 1-1.3 0.9 0.4 0.9 0.3 0.9-1.7 1-0.6 0.9 4.3 0.9-2.4 0.9 2 1 0.8 0.9-1 0.9-1.7 0.9 1.6 1 0.3 0.9-2.1 0.9 1 0.9 0.7 1-2.1 0.9 1.6 0.9 1.4 0.9 0.4 1-0.8 0.9-0.6 0.9-0.9 0.9 0.1 1 0.8 0.9 1.5 0.9-2.4 0.9 1 1 1.3 0.9 0.2 0.9-1.7 0.9-0.2 1-0.5 0.9 2.3 0.9-3.6 0.9 4.2 1-2 0.9-1.6 0.9 0.3 0.9 2.2 1-1.8 0.9-0.7 0.9 0.5 0.9 1.9 1-3.1 0.9 3.8 0.9-2 0.9 1.3 1-0.8 0.9-0.2 0.9-1 0.9 2 1-1.7 0.9-1.3 0.9 1.3 0.9-0.6 1 0.1 0.9 1.3 0.9-0.5 0.9-0.5 1-0.6 0.9-1.8 0.9 0.4 0.9 2.4 1-0.1 0.9 0.6 0.9 1.5 0.9-4.3 1 0.9 0.9 2.8 0.9-2.3 0.9-2.9 1 2.2 0.9-0.1 0.9 0.3 0.9 1.1 1 0.5 0.9-0.5 0.9-1.2 0.9 0.4 1-1.1 0.9-1.3 0.9 1.3 0.9-0.3 1 1.4 0.9 1.1 0.9-4.2 0.9 1.7 1-0.6 0.9 1.9 0.9 1.5 0.9-3.6 1 4.2 0.9-2.4 0.9 0.4 0.9-0.9 1-0.7 0.9 0 0.9 3.5 0.9-3.7 1 3.5 0.9-3.1 0.9 1.3 0.9 0.9 1-0.7 0.9 0.9 0.9-1.5 0.9-1.1 1 0.2 0.9 0.9 0.9-1.2 0.9 0.8 1-2 0.9 2 0.9 1.4 0.9-0.3 1 0.6 0.9-0.5 0.9-0.1 0.9-1 1 0 0.9 0.9 0.9-0.4 0.9 1.5 1-0.2 0.9 2.3 0.9-1.9 0.9-0.2 1-3.6 0.9 4.7 0.9-1.6 0.9 0.5 1 1.6 0.9-2.1 0.9 0.3 0.9 1.8 1 1.1 0.9-2.6 0.9 1.7 0.9-2.4 1 1.2 0.9-0.9 0.9 1.1 0.9-2.1 1 1.1 0.9-0.9 0.9 1.7 0.9 1.3 1 0.6 0.9-1 0.9-0.9 0.9 1.1 1-3.4 0.9 2.9 0.9-0.5 0.9 0.5 1 1.6 0.9-2.6 0.9 0.6 0.9-0.2 1 2.1 0.9-1 0.9 0.2 0.9-1.3 1 3 0.9-2.2 0.9-0.6 0.9 2 1 0.5 0.9-2.3 0.9 1.3 0.9-0.8 1 0.5 0.9-0.3 0.9 1.5 0.9 2.3 1-2.9 0.9 1.5 0.9-1.3 0.9 1.3 1-2.2 0.9 2.1 0.9-1 0.9-0.2 1 1.4 0.9-0.4 0.9 0.5 0.9 1.1 1-2.5 0.9 2.7 0.9 0.8 0.9-1 1-0.6 0.9 0.2 0.9 0.5 0.9 0.2 1 1.9 0.9-2.8 0.9-1 0.9 2.6 1 1.2 0.9-2.5 0.9 1 0.9 4.1 1-3.3 0.9 0.8 0.9-0.2 0.9-3.1 1 1.1 0.9 1.2 0.9-0.1 0.9-1.5 1 2.8 0.9-1.8 0.9 1.4 0.9-1.4 1 0.7 0.9 1 0.9-1.8 0.9 0.6 1-1.2 0.9 2.3 0.9-0.5 0.9 0.8 1-1.9 0.9 2.1 0.9-0.8 0.9-1.3 1 0.8 0.9 0.3 0.9 0 0.9-0.1 1-0.3 0.9 1 0.9 1.7 0.9-3.3 1 2.4 0.9-3 0.9 1.6 0.9-2.9 1 2 0.9 0.8 0.9-0.5 0.9 2.3 1-1.6 0.9 0.5 0.9-0.3 0.9 2 1 0.2 0.9-3 0.9 0.7 0.9 0.5 1-0.3 0.9 0.5 0.9-0.2 0.9-1.1 1 0.9 0.9-1 0.9 1.4 0.9 1.2 1-1.2 0.9-0.5 0.9 0.9 0.9-0.7 1 0.1 0.9-1.4 0.9 0 0.9-0.2 1 1.8 0.9-1.1 0.9-1 0.9 1.2 1 0.2 0.9 0.7 0.9-1.6 0.9 0.6 1-0.8 0.9 1.1 0.9-2.2 0.9 2.1 1 1.2 0.9-1.5 0.9-0.3 0.9-0.8 1 1.8 0.9 0.1 0.9-0.3 0.9 0.1 1 1.7 0.9-2.9 0.9-0.5 0.9 2 1 0.2 0.9-0.8 0.9 0.7 0.9-1.7 1 1.4 0.9-1.2 0.9 1.8 0.9 0.2 1 0.2 0.9-0.2 0.9-1.9 0.9-0.4 1 0.7 0.9-0.1 0.9 2.5 0.9-3.4 1 2.4 0.9-2.6 0.9-1.2 0.9 2.4 1-0.6 0.9 0 0.9 2 0.9-0.2 1-0.5 0.9-0.8 0.9-0.7 0.9 0.7 1-1 0.9 1.6 0.9 0.9 0.9-1.5 1 0.1 0.9 1.4 0.9-2.5 0.9 2 1-0.2 0.9-1 0.9 1.3 0.9-1.7 1 0.2 0.9-0.1 0.9 0.5 0.9 0.4 1 0.3 0.9-1.1 0.9-1.1 0.9 0.6 1 0.4 0.9-0.6 0.9-0.4 0.9 2.6 1-1.2 0.9-1.3 0.9 1.9 0.9-0.2 1-1.1 0.9 0.8 0.9-1.4 0.9 1.5 1-0.9 0.9-2 0.9 1.4 0.9 2.5 1-0.3 0.9 0 0.9-1 0.9 1.3 1-2 0.9-1.2 0.9 0.2 0.9 2.3 1-0.5 0.9 0.1 0.9 0.5 0.9-2.6 1 2.4 0.9 0.5 0.9-1.6 0.9 0 1-1.2 0.9 0 0.9 1.7 0.9 2 1-2.9 0.9-0.1 0.9-1.1 0.9 3.5 1-0.5 0.9-2.8 0.9-0.1 0.9 0.3 1 1.3 0.9-1.4 0.9 1.8 0.9 0.6 1-1.3 0.9-0.3 0.9-0.8 0.9-0.5 1 2.8 0.9-2.4 0.9-0.5 0.9 1.6 1-1.4 0.9-0.8 0.9-0.9 0.9 1 1-0.9 0.9 0 0.9-2.3 0.9 0 1-0.4 0.9-2.2 0.9 0.1 0.9 0.6 1-3.7 0.9-0.5 0.9 0 0.9 1.4 1-3.2 0.9 2 0.9 1.6 0.9-2.2 1-2.3 0.9 3.4 0.9-0.8 0.9-0.4 1 2.2 0.9 1.4 0.9 0.4 0.9 0.1 1 2.1 0.9-0.3 0.9 0.5 0.9 1.8 1-0.6 0.9 0.7 0.9 1.5 0.9 0.4 1 0 0.9 0.7 0.9 0.4 0.9 1.1 1-0.9 0.9-0.5 0.9 0.3 0.9 1.6 1-1.3 0.9 0.1 0.9 1.7 0.9-1.4 1 0.7 0.9 0.3 0.9-0.6 0.9 0.5 1 2.1 0.9-2.4 0.9 1.3 0.9-0.9 1-0.8 0.9 1 0.9 0.2 0.9-0.6 1-0.3 0.9 1.3 0.9-0.1 0.9-1.1 1-1.1 0.9 1.6 0.9-0.9 0.9 1.7 1-0.8 0.9 0 0.9 1.3 0.9-1.2 1 0.2 0.9 2.3 0.9-2.4 0.9-0.3 1 0 0.9 0 0.9 1.4 0.9-0.4 1-0.5 0.9 0.7 0.9-0.4 0.9-1.6 1 2 0.9-0.5 0.9-2.1 0.9 1.9 1 0.9 0.9-1.2 0.9 0.1 0.9 0 1 1.8 0.9-1.9 0.9-0.1 0.9-1.6 1 1.3 0.9 1.1 0.9-0.7 0.9-0.3 1 0.8 0.9-0.1 0.9-1.4 0.9 0.9 1 0 0.9 1.4 0.9-1.3 0.9 2.2 1-3 0.9 1.6 0.9-1 0.9-0.7 1 2.4 0.9-2.2 0.9 0.9 0.9-0.9 1 1.5 0.9 0.3 0.9-1.9 0.9 0.8 1 0.4 0.9 1.2 0.9-2.4 0.9 1.6 1-0.1 0.9 0.4 0.9-0.6 0.9-0.6 1 0.6 0.9 0 0.9 0.4 0.9-2 1-0.2 0.9 1.7 0.9 0.5 0.9-1.1 1 1.7 0.9-1.9 0.9-0.1 0.9 0 1-1.5 0.9-0.4 0.9 1.3 0.9 0.6 1-1.5 0.9-0.2 0.9 2.2 0.9-0.6 1-0.6 0.9 1.3 0.9-0.7 0.9-2.9 1 2.8 0.9-2.3 0.9 1.6 0.9-2 1 0.5 0.9-0.7 0.9 2.2 0.9-1.8 1 0.7 0.9-1.5 0.9 0 0.9 0.4 1 0.2 0.9-0.2 0.9-0.4 0.9 0.7 1-0.2 0.9 0.1 0.9 0.4 0.9-2.4 1 2.5 0.9-3 0.9 0.6 0.9 2.5 1 0 0.9-2.1 0.9 1.1 0.9-1.4 1-1 0.9 0.5 0.9 0.5 0.9-0.1 1-1.9 0.9 1.9 0.9-2.4 0.9-0.5 1 2.6 0.9-0.9 0.9-1.7 0.9 2.6 1-1.4 0.9-0.8 0.9 2.3 0.9-1.7 1 0.1 0.9 0.7 0.9-2.5 0.9 1.8 1-2.9 0.9 1.7 0.9 1.5 0.9-1.2 1 1.1 0.9-2"/>
</g>
<rect x="257.5" y="42.3" width="1387.5" height="1027.7" fill="none" stroke="#000" stroke-width="4.8"/>
<path d="M248 1070H257.5M237 1009.5H257.5M248 949H257.5M237 888.6H257.5M248 828.1H257.5M237 767.7H257.5M248 707.2H257.5M237 646.8H257.5M248 586.4H257.5M237 525.9H257.5M248 465.5H257.5M237 405H257.5M248 344.6H257.5M237 284.1H257.5M248 223.7H257.5M237 163.2H257.5M248 102.8H257.5M237 42.3H257.5M257.5 1070V1090.5M373.1 1070V1080.5M488.8 1070V1090.5M604.4 1070V1080.5M720 1070V1090.5M835.6 1070V1080.5M951.2 1070V1090.5M1066.9 1070V1080.5M1182.5 1070V1090.5M1298.1 1070V1080.5M1413.8 1070V1090.5M1529.4 1070V1080.5M1645 1070V1090.5" stroke="#000" stroke-width="4.8" fill="none"/>
<text transform="translate(225.7,1024.9) scale(1.025,1)" font-size="52.2" font-weight="normal" text-anchor="end">0</text>
<text transform="translate(225.7,904) scale(1.025,1)" font-size="52.2" font-weight="normal" text-anchor="end">1000</text>
<text transform="translate(225.7,783.1) scale(1.025,1)" font-size="52.2" font-weight="normal" text-anchor="end">2000</text>
<text transform="translate(225.7,662.2) scale(1.025,1)" font-size="52.2" font-weight="normal" text-anchor="end">3000</text>
<text transform="translate(225.7,541.3) scale(1.025,1)" font-size="52.2" font-weight="normal" text-anchor="end">4000</text>
<text transform="translate(225.7,420.4) scale(1.025,1)" font-size="52.2" font-weight="normal" text-anchor="end">5000</text>
<text transform="translate(225.7,299.5) scale(1.025,1)" font-size="52.2" font-weight="normal" text-anchor="end">6000</text>
<text transform="translate(225.7,178.6) scale(1.025,1)" font-size="52.2" font-weight="normal" text-anchor="end">7000</text>
<text transform="translate(225.7,57.7) scale(1.025,1)" font-size="52.2" font-weight="normal" text-anchor="end">8000</text>
<text transform="translate(258.5,1145) scale(1.025,1)" font-size="52.2" font-weight="normal" text-anchor="middle">10</text>
<text transform="translate(489.8,1145) scale(1.025,1)" font-size="52.2" font-weight="normal" text-anchor="middle">15</text>
<text transform="translate(721,1145) scale(1.025,1)" font-size="52.2" font-weight="normal" text-anchor="middle">20</text>
<text transform="translate(952.2,1145) scale(1.025,1)" font-size="52.2" font-weight="normal" text-anchor="middle">25</text>
<text transform="translate(1183.5,1145) scale(1.025,1)" font-size="52.2" font-weight="normal" text-anchor="middle">30</text>
<text transform="translate(1414.8,1145) scale(1.025,1)" font-size="52.2" font-weight="normal" text-anchor="middle">35</text>
<text transform="translate(1646,1145) scale(1.025,1)" font-size="52.2" font-weight="normal" text-anchor="middle">40</text>
<text transform="translate(67.5,698) rotate(-90) scale(1,1.05)" font-size="62.9" font-weight="normal" text-anchor="start">Intensity(a.u.)</text>
<text transform="translate(806.5,1240.8) scale(1.028,1)" font-size="62.2" font-weight="normal" text-anchor="start">2θ (degree)</text>
<text transform="translate(264.5,101.7) scale(1.025,1)" font-size="62.0" font-weight="bold" text-anchor="start" style="stroke:none">(a)</text>
<text transform="translate(627.1,102.7) scale(1.03,1)" font-size="53.0" font-weight="bold" text-anchor="start" style="stroke:none">(110)</text>
<text transform="translate(626,169.3) scale(1.03,1)" font-size="53.0" font-weight="bold" text-anchor="start" style="stroke:none">21.22°</text>
<text transform="translate(830.3,385) scale(1.03,1)" font-size="53.0" font-weight="bold" text-anchor="start" style="stroke:none">(200)</text>
<text transform="translate(828.6,451.4) scale(1.03,1)" font-size="53.0" font-weight="bold" text-anchor="start" style="stroke:none">23.63°</text>
<text transform="translate(1411.3,858.7) scale(1.03,1)" font-size="53.0" font-weight="bold" text-anchor="start" style="stroke:none">(020)</text>
<text transform="translate(1408.9,925.7) scale(1.03,1)" font-size="53.0" font-weight="bold" text-anchor="start" style="stroke:none">36.5°</text>
<rect x="1260" y="42.3" width="381.5" height="262.7" fill="#fff" stroke="#000" stroke-width="2.2"/>
<line x1="1280" y1="79.9" x2="1399" y2="79.9" stroke="#000000" stroke-width="6.0" stroke-linecap="round"/>
<text transform="translate(1411.2,97.5) scale(1.025,1)" font-size="52.0" font-weight="normal" text-anchor="start">XLPE-0</text>
<line x1="1280" y1="144.8" x2="1399" y2="144.8" stroke="#ff0000" stroke-width="6.0" stroke-linecap="round" stroke-dasharray="0.2 10.17"/>
<text transform="translate(1411.2,162.4) scale(1.025,1)" font-size="52.0" font-weight="normal" text-anchor="start">Pipeline-0</text>
<line x1="1280" y1="209.9" x2="1399" y2="209.9" stroke="#0000ff" stroke-width="6.0" stroke-linecap="round" stroke-dasharray="25 16 4 16"/>
<text transform="translate(1411.2,227.5) scale(1.025,1)" font-size="52.0" font-weight="normal" text-anchor="start">Ground-0</text>
<line x1="1280" y1="275" x2="1399" y2="275" stroke="#ff00ff" stroke-width="6.0" stroke-linecap="round" stroke-dasharray="18 16 4 16 4 16"/>
<text transform="translate(1411.2,292.6) scale(1.025,1)" font-size="52.0" font-weight="normal" text-anchor="start">Tunnel-0</text>
<path d="M237 42.3H1645V1070" fill="none" stroke="#000" stroke-width="4.8"/>
<clipPath id="clipb"><rect x="257.5" y="1280.2" width="1387.5" height="1027.6"/></clipPath>
<g clip-path="url(#clipb)" fill="none" stroke-width="6.0" stroke-linejoin="round" stroke-linecap="round">
<path stroke="#000000" d="M257.5 2196l0.9-2.5 0.9 0.2 1 3.3 0.9-0.4 0.9 0.4 0.9-2 1 1.1 0.9-1.5 0.9 4.9 0.9-6.4 1 3.1 0.9-1.5 0.9 1.6 0.9 0.4 1-1.5 0.9-0.7 0.9 1.9 0.9-0.1 1-1.6 0.9 2.9 0.9 1.2 0.9-3.5 1 2 0.9 2.3 0.9-2.1 0.9-0.6 1 1.3 0.9 0.6 0.9-2.9 0.9-1.6 1 2.2 0.9 0.9 0.9-2.1 0.9-0.6 1 1.9 0.9-1.6 0.9-0.9 0.9 2.3 1 1.1 0.9-2.1 0.9 0.2 0.9-1.6 1 4.4 0.9-1.1 0.9 0.3 0.9 1.7 1-3.5 0.9-0.8 0.9 2.4 0.9-4 1 1.1 0.9 0.3 0.9 0.5 0.9-1.1 1 4.3 0.9-3.6 0.9 0 0.9 4.4 1-3.9 0.9 1.1 0.9-1.9 0.9 2.2 1-0.7 0.9-0.7 0.9 2.3 0.9-2.8 1 1.3 0.9-1.1 0.9 1.9 0.9-3 1 0.9 0.9 1.5 0.9-1.6 0.9-1.1 1-1 0.9 6.3 0.9-4.6 0.9 0.8 1 1 0.9 1.7 0.9-4.2 0.9 4.7 1-3.4 0.9-1.4 0.9 5.4 0.9-2.4 1 1.9 0.9-2.9 0.9-2.4 0.9-1 1 7.1 0.9-2.2 0.9-2.4 0.9-1.6 1 2.1 0.9 2.2 0.9-1.9 0.9 0.6 1 0.3 0.9 1 0.9-2.1 0.9 0.1 1 0.8 0.9 0.2 0.9 2 0.9-1.5 1-3.2 0.9 2.6 0.9 2.4 0.9-5.2 1 1.5 0.9-3 0.9 3.8 0.9 1 1 1.8 0.9-5.1 0.9-2.4 0.9 6.3 1-0.3 0.9-2.3 0.9 2.6 0.9-1 1 0.1 0.9-1 0.9-1.7 0.9 2 1-1.7 0.9 2.5 0.9-1.4 0.9 4.6 1-1.3 0.9-4.3 0.9 2.6 0.9-2.2 1 0.1 0.9-1.5 0.9 0.9 0.9-0.4 1 2.1 0.9 1.1 0.9 0 0.9-0.4 1 1.2 0.9-1.2 0.9-0.8 0.9-0.7 1 1.1 0.9 3 0.9-3.5 0.9-0.6 1-1.6 0.9 0.9 0.9 2.3 0.9 0.1 1-5.2 0.9 2.4 0.9-2.1 0.9-0.6 1 5.6 0.9-2.3 0.9-0.2 0.9-0.2 1 0 0.9 0.6 0.9 0 0.9 3.2 1-2.6 0.9 1.1 0.9-1.7 0.9 1.1 1-2.1 0.9-0.4 0.9 0.9 0.9 0 1 0.4 0.9 0.9 0.9-0.5 0.9 0.6 1-1.8 0.9 0.7 0.9-1.1 0.9 3.6 1-4.3 0.9 3.1 0.9-0.1 0.9-1 1 0.6 0.9-1.7 0.9 1.6 0.9 0.9 1-0.4 0.9-4.2 0.9 2.4 0.9 2.2 1-2.3 0.9 3 0.9-6.5 0.9 6.3 1-3.9 0.9-0.1 0.9 3.7 0.9-3.4 1-1.4 0.9 1 0.9 0.3 0.9-1.4 1 1.5 0.9-0.5 0.9 0.9 0.9-1.6 1 3 0.9-3.5 0.9 2.5 0.9 1 1-2.9 0.9-2.7 0.9 1.4 0.9 2.7 1-2.4 0.9 2.1 0.9-0.7 0.9-0.5 1 4.5 0.9-4.9 0.9 2.2 0.9-0.7 1 1.4 0.9 0 0.9-1.3 0.9-3.5 1-1.8 0.9 3.2 0.9-2.3 0.9 2.5 1 3.2 0.9-4.2 0.9-0.7 0.9 1.6 1-1.6 0.9-0.7 0.9 2.7 0.9 1.1 1-2.7 0.9-0.1 0.9 0.1 0.9-2.8 1-1.7 0.9 4.1 0.9-2.4 0.9-0.6 1 0.3 0.9-0.9 0.9 2.7 0.9-2.4 1-2.8 0.9 2.3 0.9 2.7 0.9-2.7 1-1.5 0.9 1.7 0.9 1.7 0.9-4.5 1 5.5 0.9-3.7 0.9 0.9 0.9 2.2 1-5.2 0.9 1.6 0.9 3 0.9-3.9 1 2 0.9 2.8 0.9-2.7 0.9-2.2 1-0.9 0.9 0.7 0.9 0.1 0.9-1.1 1 1.2 0.9-3.1 0.9 1.9 0.9-0.5 1-0.7 0.9 3.1 0.9-0.9 0.9-5 1 2.3 0.9 1.1 0.9-1.6 0.9 1.6 1-1.9 0.9 1.8 0.9-2.3 0.9 3.8 1-6.5 0.9 3.7 0.9 2.1 0.9-3.2 1 0 0.9-1.3 0.9 2.5 0.9-3.6 1-7.4 0.9 10.4 0.9-3.8 0.9 1.1 1-1.4 0.9 4.1 0.9-1.8 0.9-3.9 1 0.7 0.9-4 0.9 4.9 0.9-2.4 1-6.4 0.9 7.9 0.9 0 0.9-2.3 1-0.3 0.9-2.4 0.9 1.3 0.9 1.7 1-2.5 0.9-5.9 0.9 2.8 0.9 9 1-6.4 0.9 1.4 0.9-3.8 0.9 1.5 1-5.2 0.9 2 0.9-0.3 0.9 1.3 1 0.2 0.9-1.2 0.9-2.6 0.9 1.5 1 1.8 0.9-4.2 0.9 2.2 0.9 0.3 1 1.4 0.9-0.9 0.9-0.1 0.9 4.8 1-9.5 0.9 0.8 0.9 1.5 0.9-3.4 1 1.2 0.9-0.2 0.9 6.6 0.9-5.8 1-2.2 0.9-2.9 0.9-0.9 0.9 0.7 1 6 0.9 2.3 0.9-7.2 0.9 1.1 1-2.7 0.9 2.4 0.9-1.2 0.9 3.9 1-5.1 0.9 1.8 0.9-2.3 0.9-0.6 1 1 0.9-1.4 0.9 0.4 0.9-2.3 1 0.2 0.9 2.3 0.9-0.4 0.9-6.4 1 4.3 0.9-3.3 0.9 1 0.9 1.9 1 0 0.9-2.8 0.9-0.9 0.9-1.4 1 4.4 0.9-2.3 0.9-1.8 0.9-5 1 9.9 0.9-7.8 0.9 2.1 0.9-3 1 2 0.9-2.7 0.9-3.7 0.9 2.8 1-0.7 0.9-0.3 0.9 2.5 0.9-3.9 1 1.5 0.9 1.1 0.9-2.6 0.9 0 1-3.1 0.9 1.6 0.9 0.8 0.9-5.8 1 0.8 0.9-1.3 0.9 1.2 0.9 1.4 1 0.3 0.9-0.9 0.9-3.8 0.9 1.7 1 3.7 0.9-4.4 0.9 3.2 0.9-4.8 1 3.1 0.9-0.4 0.9-4.3 0.9 0 1 3.6 0.9-6.9 0.9-4.4 0.9 9.1 1-9.4 0.9 6.1 0.9-1.1 0.9-1.5 1 2.8 0.9-7.9 0.9 1.5 0.9 2.7 1-1.9 0.9 2.6 0.9-3.8 0.9-4 1 6.3 0.9-4 0.9-2.3 0.9-3.1 1-1.5 0.9 4.1 0.9 0.1 0.9-3.9 1 1.4 0.9-0.9 0.9-4.4 0.9-2.4 1 3 0.9 0.4 0.9-2.8 0.9 5.7 1-5.8 0.9 1.9 0.9-10 0.9 3.6 1 0.6 0.9 0.1 0.9 5.2 0.9-9.5 1-3.3 0.9 5.3 0.9-4.7 0.9-1 1 5.1 0.9-7.6 0.9-2.1 0.9 2 1-0.2 0.9-3.3 0.9 5.2 0.9-5.4 1-3.5 0.9 5 0.9-7 0.9 2.7 1 3.4 0.9-6.4 0.9 1.3 0.9-4.6 1 2.9 0.9-7 0.9 3.6 0.9-4 1 1.4 0.9-1.9 0.9-5.2 0.9 1.4 1 0.5 0.9 1.1 0.9-7.6 0.9-0.1 1 1.6 0.9-2.7 0.9 2.1 0.9-1.3 1-1.9 0.9-4.5 0.9-1.3 0.9 1.3 1-5.5 0.9-1.6 0.9 0 0.9-3.8 1 1.9 0.9-2.1 0.9-3.2 0.9-0.3 1-3.8 0.9 3.8 0.9-8.8 0.9 4.2 1-3.2 0.9 1.6 0.9-6.9 0.9-3.4 1-1.1 0.9-0.9 0.9 4.8 0.9-3.6 1-2.3 0.9-0.3 0.9-6.9 0.9 0.9 1-1 0.9-3.1 0.9 2 0.9-2.2 1-2.3 0.9-6.1 0.9-2.6 0.9-4.2 1-5.4 0.9 2.1 0.9-7 0.9-6.9 1-1.4 0.9-7.8 0.9-9.9 0.9-6.1 1-6 0.9-3.3 0.9-5.5 0.9-9.7 1-2.5 0.9-8.3 0.9-9.7 0.9-3.4 1-8.1 0.9-11.4 0.9-12.8 0.9-12.2 1-13.4 0.9-17.3 0.9-12.7 0.9-22.8 1-26.4 0.9-23.6 0.9-28.4 0.9-32.6 1-35.1 0.9-37.3 0.9-32.3 0.9-34.7 1-28.9 0.9-11 0.9-8.5 0.9 10 1 22.4 0.9 25.4 0.9 35.9 0.9 32.5 1 43.1 0.9 30.4 0.9 36.9 0.9 38.9 1 21.7 0.9 24.1 0.9 29.6 0.9 16.1 1 26.1 0.9 11.2 0.9 20 0.9 7.8 1 19.1 0.9 14.8 0.9 4 0.9 6.3 1 18.3 0.9 5.9 0.9 10.5 0.9 8.6 1 4.5 0.9 3.7 0.9 13.7 0.9 0.7 1 5.7 0.9 9.2 0.9-4 0.9 2.7 1 10.8 0.9-4.3 0.9 7 0.9 2.9 1-2.3 0.9 5.4 0.9 1.6 0.9-1.4 1 2.4 0.9 2.7 0.9 7.7 0.9 2.1 1-5.5 0.9 7.2 0.9-1 0.9 5.1 1-0.5 0.9 4.8 0.9-6 0.9 8.8 1-0.9 0.9 1.6 0.9-2.4 0.9 8.3 1-2.4 0.9 1.8 0.9-0.8 0.9 1.3 1 3.6 0.9-0.9 0.9 2.5 0.9-1.5 1 2.2 0.9 1.9 0.9-1.4 0.9-0.9 1-5 0.9 7.4 0.9-2.1 0.9-3.2 1 9.4 0.9-1.1 0.9-1.6 0.9-3.1 1-7.1 0.9 5.1 0.9-2.6 0.9 3.1 1 4.9 0.9-1.7 0.9-10.3 0.9 0.5 1 2.3 0.9-8.2 0.9 5.3 0.9-8.7 1-2.4 0.9 4.5 0.9-0.3 0.9-6.5 1 3.7 0.9-6.7 0.9 3.9 0.9-7.2 1-0.1 0.9-0.8 0.9-1.2 0.9-5.7 1 2.8 0.9-7.5 0.9-2.9 0.9-6.3 1 1.9 0.9-11.1 0.9 2.5 0.9-0.3 1-8.7 0.9-2.2 0.9 4.1 0.9 1.7 1-1.8 0.9 3.1 0.9 0.8 0.9-2.6 1 5.8 0.9 3.7 0.9 2.7 0.9 4.5 1 1 0.9 3.3 0.9 6.8 0.9 2.8 1-1.8 0.9 9.9 0.9 6.2 0.9-1.6 1 9.3 0.9 6.6 0.9-1.1 0.9 7.6 1 2.2 0.9 0.9 0.9 3.9 0.9 3.9 1 1.3 0.9 1.5 0.9-3.5 0.9 6 1 0.6 0.9-5.8 0.9 9.2 0.9-1.7 1 4.9 0.9 8.5 0.9 7.2 0.9-1.9 1 1.9 0.9 1.7 0.9 4.4 0.9-0.7 1 1.6 0.9 7.5 0.9-4.1 0.9 4.5 1 3.1 0.9 0.8 0.9-3.6 0.9 3.3 1 7.4 0.9-3 0.9 1.7 0.9 1.1 1 1.7 0.9 3 0.9-4.1 0.9 4.6 1-0.4 0.9 1.2 0.9 0.8 0.9-2.4 1 1.4 0.9 2.7 0.9 1.1 0.9-0.5 1-2.4 0.9 2.2 0.9 0.2 0.9 1.6 1 0.2 0.9-0.5 0.9 4.4 0.9-6.3 1 5 0.9-0.1 0.9-3.3 0.9 2.5 1 0.7 0.9 1.5 0.9 2.2 0.9-3.1 1-1.6 0.9 4.3 0.9-4 0.9 5 1-0.5 0.9-2.1 0.9 1.2 0.9-1 1 2.9 0.9 0.8 0.9 1.8 0.9-1 1 0 0.9 0.8 0.9-2.9 0.9 2 1 2.6 0.9-7.9 0.9 6.2 0.9 1 1-4.3 0.9 0.3 0.9 4.4 0.9 0.8 1-0.6 0.9-3.7 0.9 2.8 0.9 1.1 1-1.2 0.9-2 0.9 4.8 0.9-1.7 1 2 0.9-6.1 0.9 0.8 0.9 1.6 1 2.1 0.9-1.2 0.9 4.9 0.9-4 1 3 0.9 0.1 0.9-1 0.9-0.5 1-1.5 0.9-0.2 0.9 0.8 0.9 2.1 1-2.9 0.9 1.2 0.9-2.5 0.9 3.1 1 2.3 0.9-5.7 0.9-7.5 0.9-1 1-2.6 0.9-1.9 0.9 5.2 0.9 4.6 1 4.9 0.9 1 0.9 1.2 0.9 2.4 1 1.5 0.9-1.5 0.9-0.9 0.9 1 1 0.6 0.9 0.2 0.9-3.1 0.9 4.1 1-1.1 0.9-1.3 0.9 3.3 0.9-0.2 1-1.1 0.9-0.9 0.9 2.3 0.9 0 1 0.5 0.9 2.2 0.9-3.7 0.9 2.3 1 2.4 0.9-2.5 0.9 2.6 0.9-1.1 1-1.6 0.9 1.6 0.9-3.1 0.9 4 1-2.7 0.9-0.4 0.9-1.4 0.9 0.9 1 1.1 0.9 0.3 0.9 0.3 0.9-1.9 1 2.9 0.9-1.8 0.9 1 0.9-0.5 1 0.8 0.9-3.7 0.9 4.4 0.9-1.4 1 0 0.9-0.5 0.9 0.3 0.9 0.1 1-0.9 0.9 4 0.9-2.4 0.9 2 1-2.2 0.9 2.2 0.9-0.3 0.9-1.3 1-2.3 0.9 1.4 0.9 0.4 0.9-1.6 1 3.7 0.9 1.8 0.9-2.6 0.9-0.1 1-2.3 0.9-1.4 0.9 5.4 0.9-5.8 1 1.5 0.9 1.1 0.9 0.8 0.9-3.1 1 3.6 0.9 0.9 0.9-0.9 0.9 2.4 1-2.8 0.9 1 0.9-0.7 0.9 0 1 2.2 0.9-3.5 0.9 3.6 0.9-2.9 1 3.8 0.9-2.9 0.9 1.8 0.9-1.2 1 1.1 0.9 2.3 0.9-1.5 0.9-1.8 1-0.8 0.9 3.2 0.9 1.1 0.9-1.9 1-0.9 0.9 0.6 0.9 0.3 0.9-2.4 1-0.1 0.9 0.3 0.9 2.6 0.9-1.5 1 0.5 0.9 1.9 0.9-3.4 0.9 1.2 1 0.9 0.9-2.8 0.9 1 0.9-0.1 1-0.4 0.9 0.7 0.9 3 0.9-1.2 1-2.1 0.9 2.7 0.9-1.1 0.9-0.5 1-1.5 0.9 0.2 0.9 0.7 0.9 1.6 1-1.5 0.9 0.6 0.9 1 0.9-2.2 1 1.4 0.9 1.8 0.9-2.9 0.9 2.3 1-1.2 0.9 3.1 0.9-2.1 0.9 1.4 1 0.1 0.9 1.4 0.9-5.9 0.9 3.4 1-0.6 0.9-1.2 0.9 1.8 0.9-0.9 1 2.8 0.9-2.2 0.9 0.9 0.9-1.3 1 0.5 0.9 2.3 0.9 0.8 0.9-1.2 1-2.6 0.9 0.5 0.9 0.1 0.9 3.6 1 1 0.9-3 0.9-0.4 0.9 0.4 1-1.4 0.9 0.8 0.9 1.5 0.9-0.4 1-1.4 0.9 0.1 0.9 0.2 0.9-3.4 1 3.7 0.9-0.5 0.9 1.6 0.9-0.9 1-1.2 0.9-0.1 0.9 1.1 0.9-0.8 1 0.5 0.9 2.8 0.9 2.1 0.9-8.1 1 2.2 0.9 1.3 0.9 2.4 0.9-0.6 1-3.8 0.9 6 0.9-3.6 0.9-1.7 1 1.1 0.9-0.9 0.9 1.3 0.9-3.6 1 4.9 0.9 0.5 0.9-2.3 0.9-1.7 1 2.2 0.9-1.6 0.9 2.3 0.9 1 1-3.7 0.9-0.3 0.9 0.1 0.9 2.8 1 1.1 0.9 0 0.9-1.3 0.9-1.2 1 0.1 0.9 2.8 0.9-2.3 0.9 0.3 1-0.1 0.9 0.2 0.9 0.2 0.9-1.1 1 0.7 0.9-0.1 0.9 1.3 0.9-1.6 1 0.8 0.9 2.9 0.9-3.8 0.9 1.1 1-1.7 0.9 1.6 0.9-0.1 0.9-0.4 1 0.3 0.9 0.7 0.9 1.9 0.9-5.2 1 4.9 0.9-1.8 0.9-1.4 0.9 0.4 1-0.2 0.9-0.3 0.9-0.7 0.9 1.4 1-3.7 0.9 5.6 0.9-1.8 0.9 0.9 1 0.2 0.9-1.1 0.9-1.7 0.9 3.1 1 0 0.9-2 0.9 0.2 0.9-2 1 1.4 0.9 1.1 0.9 0.8 0.9-0.7 1 0.5 0.9 1.7 0.9-1.9 0.9 0.2 1 0.1 0.9 0.3 0.9-3 0.9 1.4 1-0.3 0.9 2.2 0.9 0.6 0.9-1 1-0.8 0.9 0.9 0.9-0.2 0.9-1.7 1 1 0.9 1.8 0.9-0.8 0.9 0.4 1-1.2 0.9 1.9 0.9-1.4 0.9-1.2 1 0.9 0.9 1.4 0.9-0.4 0.9-1.1 1-0.5 0.9-0.5 0.9 1.4 0.9 1.7 1-3.9 0.9 1.6 0.9-0.1 0.9 0.1 1 1.9 0.9-1 0.9-0.8 0.9-1.1 1 1.4 0.9 4.5 0.9-4 0.9-0.9 1-1.3 0.9 0.8 0.9-2.5 0.9 1.6 1 0.1 0.9 0.6 0.9 3.2 0.9-3.1 1 0.4 0.9 1.6 0.9-1.6 0.9 0.2 1 1.3 0.9-0.5 0.9 0.2 0.9-0.7 1 1 0.9-1.4 0.9 3.5 0.9-2.3 1 2 0.9-1.7 0.9-1.4 0.9 0.7 1 0.2 0.9-0.3 0.9-2.1 0.9 3.8 1-2.8 0.9 3.4 0.9-1.5 0.9-0.9 1 1.5 0.9-1.5 0.9-0.7 0.9 2.7 1-1.6 0.9 0.4 0.9 2.2 0.9-2.4 1 0.8 0.9-3 0.9 3.2 0.9-3.7 1 3.2 0.9-3.5 0.9 2 0.9 0.1 1-0.5 0.9-0.1 0.9-0.7 0.9-0.5 1 3 0.9 1.2 0.9 2 0.9-3.2 1-1.6 0.9 0.5 0.9 0.4 0.9 0.7 1 0.4 0.9-0.5 0.9-1 0.9 3.1 1-3.5 0.9 3 0.9-1.8 0.9 0.7 1-0.4 0.9 1 0.9 0.1 0.9-1.3 1 1.2 0.9-5 0.9 4.1 0.9 0.3 1-0.2 0.9 0.8 0.9 1.9 0.9-3.1 1-0.8 0.9 2.6 0.9-2.2 0.9 1.7 1-1.6 0.9-0.6 0.9-0.2 0.9 0.1 1 1.6 0.9-2.3 0.9 1.9 0.9-1.2 1-0.5 0.9 1.4 0.9 1.4 0.9-2.7 1 2.5 0.9-0.4 0.9 0.3 0.9-2.8 1 1.4 0.9 3 0.9-4.3 0.9-1.9 1 0.4 0.9 3.3 0.9-0.9 0.9-0.6 1-0.6 0.9 1.2 0.9 1.6 0.9-2.6 1 0.2 0.9 2.7 0.9-1.4 0.9-0.9 1 0.4 0.9-0.8 0.9-0.4 0.9 0.3 1 0.9 0.9 1.8 0.9-2.8 0.9-1.2 1-0.8 0.9 2.8 0.9 0 0.9-2.1 1 0 0.9 1.5 0.9-0.6 0.9 2.1 1-1.9 0.9 1.9 0.9-1 0.9 0 1 0.4 0.9 2.4 0.9-1.9 0.9-1.7 1 0.5 0.9 0.5 0.9-1.3 0.9-0.4 1-0.3 0.9 2.4 0.9-1.3 0.9 0.4 1 0.8 0.9 0.8 0.9-2.1 0.9 1 1-4.5 0.9 3.1 0.9 0 0.9 0 1-3.5 0.9 3.9 0.9-1.5 0.9 0.5 1-1.3 0.9-0.7 0.9-2.2 0.9 3.2 1-2.8 0.9-3.3 0.9 2.5 0.9-1.4 1 0.2 0.9 1.9 0.9-5.1 0.9-3.2 1 1.8 0.9 1.4 0.9-4.6 0.9-0.5 1-2.3 0.9-0.4 0.9 1.8 0.9-1.4 1 4.1 0.9-4.9 0.9 2.1 0.9-0.9 1 0.8 0.9 3.3 0.9 0.7 0.9 2.2 1 2.9 0.9-2.2 0.9 0.4 0.9 2.9 1-2 0.9 1.7 0.9 0.2 0.9 2.5 1 2.1 0.9-3.4 0.9 0.7 0.9 1.5 1 0.8 0.9 0 0.9 0.1 0.9 0.7 1 2.4 0.9-4 0.9 3.4 0.9-1.6 1 0.1 0.9-0.8 0.9 2.8 0.9-4.1 1 0.8 0.9-0.1 0.9-0.8 0.9 3.1 1 3.4 0.9-5.1 0.9-1.4 0.9 0.2 1 2.5 0.9-0.6 0.9-0.6 0.9 3.1 1-1.7 0.9-0.1 0.9-3.2 0.9 3.3 1-3.3 0.9 2.3 0.9 2.4 0.9-5.7 1 4.7 0.9-2.4 0.9-1.6 0.9 3.3 1 1 0.9-3.4 0.9 1.4 0.9 1.9 1-0.2 0.9-1 0.9-2.1 0.9 1.9 1-1.4 0.9-1.5 0.9 0.5 0.9-0.3 1 0.3 0.9 4.2 0.9-4.2 0.9 1.3 1 0.6 0.9 1.4 0.9 0.7 0.9-0.7 1-1.6 0.9 1.7 0.9-0.6 0.9-0.3 1-2 0.9 1.4 0.9-0.2 0.9-2.2 1 2.4 0.9-1.4 0.9 2.4 0.9-2.1 1 0.3 0.9-0.1 0.9 0.9 0.9 0.8 1-1.1 0.9 0.2 0.9-2.3 0.9 0.2 1 3.1 0.9-2.8 0.9 1.7 0.9-1.5 1 1.4 0.9 1.4 0.9-3.7 0.9 0.8 1 2.4 0.9 1 0.9-2.1 0.9 1 1-1.3 0.9-1.5 0.9-1.4 0.9 2.7 1-2.6 0.9 0.3 0.9 2.3 0.9 1.8 1-3.8 0.9 0.3 0.9-2.7 0.9 1.4 1 0.9 0.9-1.4 0.9 4.1 0.9-2 1 0.7 0.9-3.2 0.9 1.8 0.9 5.5 1-6.9 0.9 3.5 0.9-2.7 0.9 1.9 1-1.2 0.9-0.7 0.9 0.7 0.9 1.7 1-3.7 0.9 1.4 0.9 0.6 0.9-1.2 1 1.9 0.9-3.8 0.9 2.4 0.9-0.2 1-0.1 0.9 1.9 0.9 0.3 0.9-2.2 1-0.3 0.9-1.7 0.9 1.3 0.9 2.3 1-2.6 0.9-0.6 0.9-0.3 0.9 0.9 1 2.4 0.9-3.9 0.9 2.9 0.9-2.2 1 3.3 0.9-3.8 0.9 2.3 0.9-3.1 1-1.2 0.9 0.9 0.9 3.6 0.9-0.5 1-0.2 0.9-2.6 0.9 0.4 0.9 0.1 1-0.3 0.9-0.6 0.9-0.2 0.9-1.9 1 2.7 0.9-0.5 0.9 3.2 0.9-1 1-1.2 0.9 0.7 0.9-2.4 0.9-1.5 1 2.3 0.9-0.1 0.9-0.1 0.9-1.2 1 1 0.9-1.8"/>
<path stroke="#ff0000" stroke-dasharray="0.2 10.17" d="M257.5 2202.1l0.9-1.9 0.9 0.6 1 0 0.9-1.5 0.9 4.9 0.9-1 1 1.2 0.9-2.1 0.9-1.9 0.9 1.8 1-0.9 0.9 4.2 0.9-3.6 0.9 1.9 1-4.7 0.9 1.5 0.9-0.1 0.9 1.8 1-1.2 0.9 0 0.9 1.7 0.9 0.3 1-0.7 0.9 0.9 0.9 0 0.9-0.5 1 0.8 0.9-2.7 0.9 4.2 0.9-4.2 1 2.5 0.9-0.1 0.9 1.4 0.9-2.1 1 0.2 0.9-0.8 0.9 1.3 0.9-1.1 1-3 0.9 2.4 0.9 1.8 0.9-2.7 1 1.9 0.9-1.3 0.9 0 0.9 1.8 1 2.7 0.9-2.8 0.9-1.5 0.9 1.6 1-1.4 0.9-1 0.9 2.7 0.9-3.1 1-0.7 0.9 1 0.9-0.2 0.9 0.2 1-2.1 0.9 3.7 0.9 0.3 0.9-1.1 1 2.7 0.9 1.1 0.9-1.1 0.9-2.2 1-0.2 0.9 3.5 0.9 0.6 0.9-2.7 1-0.2 0.9-0.3 0.9-1.2 0.9-1 1 1.8 0.9-0.7 0.9 3 0.9 0.1 1-2.4 0.9-0.8 0.9-0.1 0.9 0.3 1-0.4 0.9 0 0.9 4.5 0.9-1.8 1-2.1 0.9-0.2 0.9 3.7 0.9-4.7 1 2.8 0.9-0.3 0.9-0.9 0.9-0.9 1 3.9 0.9-4.3 0.9 1.6 0.9 1.5 1-0.9 0.9 3.4 0.9-2.7 0.9-1.4 1 1.5 0.9-0.7 0.9-0.3 0.9-0.3 1-1.7 0.9 1.8 0.9 0.4 0.9-1.4 1-2.6 0.9 4.2 0.9-1.5 0.9 3.6 1-5.1 0.9 1.2 0.9-1.1 0.9 2.4 1 1.7 0.9-3.4 0.9 0.3 0.9 2.8 1 1.1 0.9-3.4 0.9 1.1 0.9-4.9 1 5.7 0.9-0.2 0.9-0.7 0.9 2.7 1-1.4 0.9-4.4 0.9 3.1 0.9 0.8 1 1.2 0.9-3.2 0.9-0.2 0.9 0.7 1 1.2 0.9-1.3 0.9-0.1 0.9 1.9 1-2.3 0.9 4.8 0.9-1.5 0.9-1.7 1-0.3 0.9 1.8 0.9-2.6 0.9-1.3 1 1.1 0.9 0.4 0.9-1.1 0.9 0.7 1 2.7 0.9-1.6 0.9-2.6 0.9 4.2 1-2.1 0.9 0.7 0.9 0.9 0.9 0.2 1-2 0.9-0.4 0.9 0 0.9 3 1-2 0.9-1.2 0.9-1 0.9 0.4 1-0.3 0.9-0.5 0.9 0.4 0.9 2.9 1-1.6 0.9 1.3 0.9 2.9 0.9-1.3 1-6.6 0.9 5.5 0.9 2 0.9-3 1-3.7 0.9 2.7 0.9-0.9 0.9 1.2 1-0.4 0.9-2.4 0.9 0.7 0.9 1.5 1-1.7 0.9-0.4 0.9 2.2 0.9-0.9 1 0 0.9 1.6 0.9-3.3 0.9 2.3 1 0.7 0.9 1.8 0.9-0.8 0.9-5 1 4.7 0.9-2.9 0.9 1.4 0.9-1.7 1-0.2 0.9 2.4 0.9-1 0.9-0.8 1-0.1 0.9 0.2 0.9 0.4 0.9-1.8 1-1.4 0.9 1.3 0.9 2.2 0.9-2.1 1 0.5 0.9-0.9 0.9-2.6 0.9 3.6 1-0.5 0.9 1.5 0.9-1.2 0.9 0.4 1-4.1 0.9 2.3 0.9 1.4 0.9-4.7 1 5.9 0.9-4.2 0.9-0.4 0.9 0.7 1 1.5 0.9-0.4 0.9 0.3 0.9-2.2 1 5.6 0.9-3.5 0.9-1.3 0.9 1.2 1 2.2 0.9-3.1 0.9 0.9 0.9-3.1 1-1.2 0.9 2.3 0.9 3.7 0.9-3.4 1 1.2 0.9-3.1 0.9-2 0.9 2.4 1-3.3 0.9 0.8 0.9 1.5 0.9 2.8 1-2.1 0.9 2.8 0.9-4.9 0.9 1.7 1-2.6 0.9 2 0.9 4.1 0.9-5 1-0.7 0.9-1.5 0.9 4.9 0.9-0.2 1-2 0.9 2 0.9 0.6 0.9-0.7 1-7.2 0.9 6.1 0.9 0.6 0.9-1.1 1-1 0.9-2.6 0.9 0.5 0.9 0.2 1 1.3 0.9-0.3 0.9 1.4 0.9 1.6 1-7.1 0.9 4.8 0.9-3 0.9 2.5 1-0.6 0.9 0 0.9 2.3 0.9-2.7 1-1.1 0.9-1 0.9 0.5 0.9-1.1 1 1.3 0.9 0.4 0.9 3.8 0.9-3 1-4.4 0.9 2.7 0.9-1.5 0.9 1.9 1 0.8 0.9-5.7 0.9 3.2 0.9-2.4 1 1.7 0.9 1.5 0.9 3.8 0.9-5 1 3.2 0.9 1.1 0.9-7.3 0.9 0.9 1-0.1 0.9 0.9 0.9-0.1 0.9-1.2 1 0.2 0.9-0.1 0.9-1.7 0.9 6.3 1-7.3 0.9 2.8 0.9-3.5 0.9-1 1 3.9 0.9-3.9 0.9-0.3 0.9 2.8 1-0.8 0.9-1.7 0.9 4.6 0.9-4.2 1-1.7 0.9 1 0.9 2.1 0.9-3 1-4.5 0.9 0 0.9 2.8 0.9 1.2 1-2.1 0.9-0.4 0.9 1.2 0.9-1.1 1-2.5 0.9-1 0.9 7.3 0.9-7.9 1 1.6 0.9-2.6 0.9 2.3 0.9-1.3 1-3 0.9 10.2 0.9-10.6 0.9 2.9 1 4.3 0.9 1.7 0.9-7.1 0.9 2.8 1-5 0.9 1.6 0.9 0.5 0.9-2.9 1 1.5 0.9-1.5 0.9-0.6 0.9 0.9 1-1.4 0.9-0.4 0.9 4.7 0.9-2.9 1-0.8 0.9 0.3 0.9 2.4 0.9-2.8 1-2.5 0.9-0.1 0.9-3.6 0.9 4.7 1-0.8 0.9-0.1 0.9-1 0.9 0.3 1 2.7 0.9-5.8 0.9-1.9 0.9-0.7 1 5 0.9-2.6 0.9-5.4 0.9 4.5 1-1.5 0.9 0.8 0.9-3.2 0.9-0.3 1-3.8 0.9 4.1 0.9-0.2 0.9 3.7 1-2.4 0.9 0.3 0.9-1.3 0.9 2.1 1-6.8 0.9 5.3 0.9-3.8 0.9 3.5 1-4.5 0.9-3.7 0.9 5.9 0.9-3.5 1 0.7 0.9-1.3 0.9-0.8 0.9 2.3 1-1.6 0.9 0.7 0.9 0.2 0.9 0.6 1-6.1 0.9 4 0.9-4.1 0.9-0.1 1 3.7 0.9-5.8 0.9 4.6 0.9-4.3 1-2.6 0.9 5.3 0.9 0.2 0.9-0.3 1-9.1 0.9 6.8 0.9 1.9 0.9-5.9 1 2.3 0.9-0.8 0.9 2.2 0.9 2.9 1-4.3 0.9 0.5 0.9 1.2 0.9-1.8 1-0.7 0.9-5 0.9-0.1 0.9 0.1 1 2.4 0.9 1.6 0.9-4.6 0.9-0.8 1-1.8 0.9 2.3 0.9-0.1 0.9-1.6 1 2.9 0.9-0.7 0.9-4.3 0.9 4.7 1-3.6 0.9-2.7 0.9 1.1 0.9-0.9 1 3.6 0.9-3 0.9 0 0.9-2.7 1 0 0.9 0.7 0.9-5.4 0.9 3.2 1 1.8 0.9 0.5 0.9-2 0.9 1.1 1-6.3 0.9 2.5 0.9 1.9 0.9 0.6 1 0.7 0.9-2.4 0.9-4.6 0.9 0.9 1 2 0.9-0.8 0.9 5 0.9-7.3 1 2.3 0.9-4.6 0.9 3.8 0.9 0.6 1-2.2 0.9 2 0.9-5.6 0.9 2.5 1-0.5 0.9-0.2 0.9 1.5 0.9-2.6 1 0.5 0.9-4.6 0.9 4.2 0.9-1.2 1 1.8 0.9-0.7 0.9-0.6 0.9-4.7 1 2.7 0.9-2.8 0.9 2.7 0.9-0.3 1 3.6 0.9-7.9 0.9-3.9 0.9 5.4 1-5.2 0.9 0.8 0.9 3.3 0.9-4.6 1 3.7 0.9-2.1 0.9-4.6 0.9 2.4 1 3.1 0.9-7.3 0.9 6.3 0.9-2.9 1 0 0.9-1 0.9 1.2 0.9 1.4 1-10.1 0.9 6.4 0.9-1.4 0.9 2.7 1-8.3 0.9-5.2 0.9-2.6 0.9-6.3 1 0.3 0.9-0.7 0.9-3.1 0.9-8.5 1-1.4 0.9-6.6 0.9-3.6 0.9-10.3 1-13.4 0.9-3.9 0.9-11.8 0.9-4.3 1-23.2 0.9-12.2 0.9-19.1 0.9-15.1 1-17.1 0.9-20.5 0.9-28.4 0.9-23.3 1-23.1 0.9-28 0.9-22.9 0.9-25.6 1-15.1 0.9-10.5 0.9-9.2 0.9 2.3 1 2.7 0.9 19.9 0.9 22.4 0.9 20.7 1 27 0.9 26.1 0.9 27.7 0.9 30 1 22.8 0.9 23.8 0.9 24.7 0.9 18.3 1 16.2 0.9 21.2 0.9 13.5 0.9 11.7 1 11.1 0.9 9.3 0.9 14.7 0.9 4.5 1 7 0.9 4.8 0.9 11.7 0.9 7.1 1 6.9 0.9-0.8 0.9 2 0.9 8.5 1-0.3 0.9 1 0.9 1.5 0.9 5 1-1.6 0.9 2.8 0.9 3.3 0.9-2.3 1 0.6 0.9 4.4 0.9-2.4 0.9-2.9 1 10 0.9-4.6 0.9 0.4 0.9 3 1 0.2 0.9 2.2 0.9-3.2 0.9 6.3 1-1.3 0.9 5 0.9-4.9 0.9 0.5 1 5.4 0.9-1.4 0.9-2.8 0.9 2.8 1 2.2 0.9 3.5 0.9-6.4 0.9-3.4 1 6.1 0.9-1.8 0.9 0.3 0.9 1.5 1-0.2 0.9 0.2 0.9 2.5 0.9-7.8 1-0.4 0.9 5.7 0.9-3.4 0.9 6 1-1.5 0.9-3.5 0.9 5 0.9-0.1 1-4.4 0.9 4.9 0.9-9.5 0.9 1.5 1 0.4 0.9-2 0.9 2.9 0.9-0.9 1-5.5 0.9-1.4 0.9 0.8 0.9-0.8 1 0 0.9-6.3 0.9 6 0.9-3.1 1-2.3 0.9 0.9 0.9-2.5 0.9-3.1 1-7.8 0.9-4.6 0.9 1.3 0.9 2.9 1-5 0.9-3.2 0.9-1.2 0.9-1.2 1-3.8 0.9 5.1 0.9-5.1 0.9-3.5 1-2.6 0.9 0 0.9-0.3 0.9-0.3 1 0.9 0.9-2.1 0.9 0.9 0.9 1.9 1-4.3 0.9 1.2 0.9 5.5 0.9-1.1 1 0.1 0.9 4.3 0.9 2.2 0.9 0.8 1 7.6 0.9 1.3 0.9-3.5 0.9 2.4 1-1.2 0.9 6.9 0.9-1.5 0.9 3.2 1 1.1 0.9 10.8 0.9 2.2 0.9 1.5 1 2.7 0.9 5.2 0.9 1 0.9 3.6 1-6.7 0.9 7.5 0.9 1.9 0.9 3.6 1 0.8 0.9 0.7 0.9 4.8 0.9 1.6 1-2.3 0.9 4.6 0.9 3.2 0.9 2.8 1 0.3 0.9 2.4 0.9-1.1 0.9 2.6 1 0.9 0.9 0.1 0.9 1.9 0.9-1.7 1-3.7 0.9 6.4 0.9 2.4 0.9-4.2 1 2.4 0.9-3.3 0.9 3.3 0.9-0.5 1 3.4 0.9 1.9 0.9-2.1 0.9-1.1 1 3.1 0.9 1.6 0.9-1.3 0.9 0.1 1 0.2 0.9-0.2 0.9-3.7 0.9 4.3 1 1.2 0.9 1.4 0.9-2.9 0.9 4.3 1-4.7 0.9 2.7 0.9 2.7 0.9-2.5 1 0.8 0.9-1.9 0.9 4.6 0.9-2.5 1 0.6 0.9-1.3 0.9 3.5 0.9-0.4 1-4.3 0.9 2.4 0.9 3.4 0.9-2.8 1 1.9 0.9-0.1 0.9 1 0.9-3.4 1 2.4 0.9-1.1 0.9 0.3 0.9 2.6 1-1.2 0.9-2.3 0.9 3.7 0.9-2.8 1 0.6 0.9-1.1 0.9 0 0.9-0.2 1 1.2 0.9-0.2 0.9 1.5 0.9-0.2 1-2.2 0.9 2.4 0.9-2.5 0.9 0 1 2.9 0.9-2.1 0.9 2.2 0.9-1.8 1 1.8 0.9-1.7 0.9 0.3 0.9 1.9 1-4.8 0.9 1.8 0.9 4 0.9-3 1 1.2 0.9-3.8 0.9 3.3 0.9-0.7 1 0.9 0.9-1.3 0.9 1.8 0.9 0.5 1-0.8 0.9-0.3 0.9-1.9 0.9 0.4 1 0 0.9-1.3 0.9-1.2 0.9-4.8 1 1 0.9-3.2 0.9 0.7 0.9 5.8 1 2.7 0.9 0.4 0.9 2.4 0.9 0.4 1-1.7 0.9 2.4 0.9-3.7 0.9 2.4 1 1.2 0.9 1 0.9-0.4 0.9 3.2 1-3.6 0.9-0.8 0.9 0.6 0.9 1.6 1-1.4 0.9 0 0.9 1.3 0.9-0.6 1-0.9 0.9 1 0.9 1.3 0.9-0.4 1-0.1 0.9 2.6 0.9-2.4 0.9 0.5 1 3 0.9-0.5 0.9-5 0.9 2.5 1-1.7 0.9 2.6 0.9-2.6 0.9 1.4 1 1.9 0.9-1.2 0.9-1.8 0.9-1.1 1 2.8 0.9 1.5 0.9 0.7 0.9-2.1 1-0.5 0.9 1.4 0.9 0.5 0.9-1.2 1 0.6 0.9 0.2 0.9 2.8 0.9-1.6 1-3 0.9 2.8 0.9-3.3 0.9 2.9 1 1.1 0.9-0.7 0.9-0.3 0.9 1.9 1-1.2 0.9 1 0.9-2.5 0.9 2.7 1-0.7 0.9 2.3 0.9-0.1 0.9-1.6 1 1.2 0.9-0.7 0.9-0.7 0.9-0.3 1 2.7 0.9-1.5 0.9-1.1 0.9 1.9 1 0.9 0.9-0.7 0.9-3 0.9 2.2 1-2 0.9 2.6 0.9-2 0.9 3.6 1-1.5 0.9-0.4 0.9-2.2 0.9 1.8 1-0.8 0.9 2.1 0.9 0 0.9-2.2 1-0.1 0.9 0.3 0.9 0.1 0.9 2.3 1-3.5 0.9 2.6 0.9-1.4 0.9 0.8 1 3.3 0.9 0.3 0.9-0.5 0.9-1.9 1-1.5 0.9 1.8 0.9-1.4 0.9 2.8 1-0.8 0.9 0.4 0.9-1.2 0.9 1.6 1-1.3 0.9-0.9 0.9 1.4 0.9 0.6 1-0.5 0.9 1 0.9-0.2 0.9-2.3 1 0.6 0.9 2.3 0.9-1.4 0.9-1 1-0.4 0.9 0.3 0.9-0.4 0.9 1.3 1 0 0.9 0.3 0.9-1.7 0.9 0.4 1-1.2 0.9 0.9 0.9 2.5 0.9 0.8 1 0 0.9-0.6 0.9-1.9 0.9 2.6 1 0.8 0.9-2.3 0.9-1.3 0.9 0.1 1-1.1 0.9 2.2 0.9 0.7 0.9-0.3 1 1.3 0.9-0.8 0.9-2.5 0.9-1 1 1.1 0.9 1.3 0.9 0.7 0.9-0.6 1 2.7 0.9-3.1 0.9-0.2 0.9 1.1 1-0.1 0.9 2.1 0.9-3.1 0.9 0.1 1 4.4 0.9-2.7 0.9-1.1 0.9-1.7 1 3.2 0.9-1 0.9-1.9 0.9 1.3 1 0.9 0.9 0.3 0.9-0.6 0.9 1.1 1-2.3 0.9 2.4 0.9-1.8 0.9-0.5 1-0.3 0.9 1.4 0.9 0.1 0.9-0.4 1 0.3 0.9-1.2 0.9 1.5 0.9-2.6 1-1 0.9 4.3 0.9-1.3 0.9 1.9 1-2.3 0.9 0.4 0.9 0.8 0.9 1.1 1-1.4 0.9-2.4 0.9 0.5 0.9 1.5 1 1.3 0.9-0.7 0.9 1 0.9 0.7 1-0.5 0.9-1.9 0.9 0.4 0.9 0.1 1 1.6 0.9 0.4 0.9-3 0.9 1.8 1-1.9 0.9 2.4 0.9-2.2 0.9 1 1 0.8 0.9 0 0.9-2.9 0.9 1.3 1 1.4 0.9-0.5 0.9 2.2 0.9-4.1 1 0.4 0.9 2.3 0.9-1.1 0.9 4 1-4.6 0.9 0.6 0.9 0.3 0.9-0.7 1 0.7 0.9 1.6 0.9-0.4 0.9-0.6 1-1.3 0.9 1.1 0.9 0.9 0.9-1.3 1 2 0.9-4.1 0.9 2.2 0.9 1.6 1-1.4 0.9-1.1 0.9 0.7 0.9-1.9 1 4.3 0.9-3.7 0.9 2 0.9-1.1 1-1 0.9 3.6 0.9 0.2 0.9-1.2 1 1.6 0.9 0.4 0.9-2.6 0.9-1.3 1 2 0.9-1.1 0.9-3.9 0.9 4.1 1 0.8 0.9-0.2 0.9-0.7 0.9 0.9 1-1.2 0.9 0.6 0.9-0.9 0.9 1 1 0.2 0.9 1.1 0.9 0.6 0.9-1.4 1 0.2 0.9-0.9 0.9 0.5 0.9 0.4 1-3.2 0.9 2.3 0.9-1.1 0.9 2.8 1-2.5 0.9-0.2 0.9 0.9 0.9 1.6 1-2.6 0.9 2.5 0.9 1 0.9 0.1 1-2.1 0.9 0.7 0.9-1.6 0.9 0.2 1-0.8 0.9 1.2 0.9 0.3 0.9 0.2 1 0.9 0.9 0.1 0.9-0.1 0.9-1.2 1 1.3 0.9-0.9 0.9-1.4 0.9 4.2 1-1.8 0.9 0.2 0.9-1.2 0.9 1.8 1-1 0.9-3.6 0.9 4.5 0.9-1.6 1-0.3 0.9 0.6 0.9 1.1 0.9-2.7 1 3.6 0.9-1.2 0.9-0.9 0.9 0.5 1-2.1 0.9 1.8 0.9-2.7 0.9 2.3 1-1.8 0.9 1.3 0.9 0.9 0.9 0 1-1.6 0.9 2 0.9-0.6 0.9 0.9 1 1.5 0.9-3.1 0.9-0.1 0.9 2.2 1-2 0.9 0.8 0.9 2.1 0.9-1.2 1-1.9 0.9-0.5 0.9 0.8 0.9-2.9 1 2.9 0.9 1.4 0.9 0.9 0.9-3.6 1 2.3 0.9-0.1 0.9 0.6 0.9 0 1-0.6 0.9-1 0.9-0.1 0.9 0.2 1-0.7 0.9 1.8 0.9 0.6 0.9-1.2 1 2.4 0.9-3.5 0.9 0.4 0.9 0 1 2 0.9-0.7 0.9-0.7 0.9 1.3 1 0.1 0.9-1.1 0.9-0.4 0.9 1 1-2.1 0.9-1.4 0.9 2 0.9 0.9 1 0.2 0.9-2.4 0.9 1.6 0.9-0.3 1 0.4 0.9 1 0.9-2.5 0.9 2.1 1-0.5 0.9 2.8 0.9-5.2 0.9 1.7 1 1 0.9 0.9 0.9-0.3 0.9 1.4 1-2.7 0.9 1.7 0.9-1.6 0.9 0 1-1.8 0.9 2 0.9-0.1 0.9-0.2 1 1.3 0.9-0.4 0.9-0.7 0.9-1 1 0.5 0.9 1.2 0.9-1.8 0.9 1.9 1 1.4 0.9-3.7 0.9 1.8 0.9 0.6 1 0.9 0.9-1 0.9-2.5 0.9 2 1-2.7 0.9 2.6 0.9-1.3 0.9 1.3 1 0.6 0.9-0.1 0.9-0.2 0.9 1.1 1 0 0.9-1.9 0.9-1.1 0.9 1.3 1 0.1 0.9 1.1 0.9-2.5 0.9 0.1 1 2.7 0.9-1.5 0.9 0.4 0.9 1.4 1-3.8 0.9 0.5 0.9 1 0.9-1.4 1 2.3 0.9-1 0.9-1.4 0.9 2 1-0.8 0.9 1.5 0.9-2.1 0.9-0.7 1 2.5 0.9-0.4 0.9-1 0.9-2 1 2.2 0.9 0.2 0.9-1.2 0.9-1.9 1 3 0.9-2.1 0.9-2.4 0.9 1.2 1-0.2 0.9-2.2 0.9 2.1 0.9-5.3 1 1.4 0.9 0.4 0.9-1.6 0.9-0.6 1-0.6 0.9 0.6 0.9-2.2 0.9 1.5 1-5.4 0.9 3.5 0.9-0.9 0.9 0 1-2.3 0.9 1.7 0.9-2.2 0.9 3.5 1-0.2 0.9 1.1 0.9 1.2 0.9-1.4 1 0.7 0.9 0.8 0.9 4.6 0.9-1.7 1 2.8 0.9 0.7 0.9 1.4 0.9-0.6 1-1.6 0.9-0.6 0.9 0 0.9 3.7 1 0 0.9-0.9 0.9 0.3 0.9 0.1 1 2.6 0.9-1.9 0.9-0.8 0.9 0.4 1 0.6 0.9 0.8 0.9-0.7 0.9-2.1 1 1.4 0.9-0.7 0.9-0.7 0.9 3.4 1-2.1 0.9 0.2 0.9-1 0.9 1.9 1 0 0.9 0.6 0.9-1 0.9 0.5 1-0.1 0.9-0.6 0.9 0.9 0.9 0.7 1-0.7 0.9 0.2 0.9-1.2 0.9-1 1 2 0.9 2.6 0.9-3.8 0.9 0.8 1 1.1 0.9-0.8 0.9-2.6 0.9 4.1 1-0.4 0.9-1.3 0.9 3.8 0.9-3.3 1-1.8 0.9 0.5 0.9 0.2 0.9 0.9 1-0.2 0.9-3.6 0.9 3.1 0.9-1.4 1 3.2 0.9-1.8 0.9-0.2 0.9 0.3 1 2.9 0.9-2.2 0.9-2.4 0.9 1.2 1 1.6 0.9-2.1 0.9 3.5 0.9-3.1 1 0.3 0.9 1.2 0.9 0.5 0.9 0.8 1-1.8 0.9-2.5 0.9 1.1 0.9 0.6 1-0.7 0.9 1.9 0.9-1.4 0.9 4.3 1-3.1 0.9 0 0.9-0.5 0.9 0.1 1-1 0.9 1.5 0.9-1.9 0.9 1.4 1-1.4 0.9 0.9 0.9-0.9 0.9 0.4 1 1.4 0.9-1.1 0.9 1.9 0.9-1.7 1-0.5 0.9 0.8 0.9-0.1 0.9-1.5 1-0.3 0.9-0.3 0.9 2.5 0.9-0.2 1-1.6 0.9-0.2 0.9 3.4 0.9-4.8 1 1 0.9 3 0.9-3.1 0.9 2 1-0.4 0.9 1.1 0.9-0.3 0.9-0.6 1-0.6 0.9 1.5 0.9-1.4 0.9 0.8 1-0.2 0.9 0.4 0.9-0.4 0.9-2.9 1 4.1 0.9-0.4 0.9-1.6 0.9 0.5 1 0.7 0.9-1.9 0.9 1.9 0.9-1.5 1-1.3 0.9 0.5 0.9 1.1 0.9-0.5 1-0.2 0.9-0.6 0.9 2 0.9-3 1 0.7 0.9-1.5 0.9 1.2 0.9-0.2 1 5.1 0.9-3.3 0.9-3.1 0.9 1.9 1 1 0.9-1.5 0.9 0.7 0.9-0.4 1 1.4 0.9-1.7 0.9-1.4 0.9 1.7 1-0.3 0.9 1.4 0.9-1.6 0.9 1.1 1 1.2 0.9-1.3 0.9-0.3 0.9-1.1 1-0.6 0.9 1.5 0.9 0.2 0.9-1.4 1 2 0.9-0.8 0.9-0.2 0.9-0.2 1 0.5 0.9-3"/>
<path stroke="#0000ff" stroke-dasharray="25 16 4 16" d="M257.5 2201.8l0.9 7.2 0.9-5.9 1 1.3 0.9-1.8 0.9 1.4 0.9-2.1 1 2.6 0.9 0.8 0.9-1.5 0.9 0.2 1 1.2 0.9-0.2 0.9-1.4 0.9 0 1 1.8 0.9-0.2 0.9 2.2 0.9-5.1 1 2.8 0.9-2.3 0.9 1.4 0.9-2.3 1 0.6 0.9 1.8 0.9-1.6 0.9 3.5 1-3.2 0.9 4 0.9-2.6 0.9-1.1 1 1.3 0.9 0.8 0.9 0.7 0.9-0.7 1-2 0.9 0.2 0.9 1.7 0.9 1.5 1-2.8 0.9 3.1 0.9-1.3 0.9 0.3 1-2.2 0.9 0.8 0.9-0.3 0.9 0.3 1 1.3 0.9-1.7 0.9-1.3 0.9 2.1 1-0.9 0.9 1.1 0.9-1.7 0.9 0.6 1-0.3 0.9 0.7 0.9-1.8 0.9 2.9 1-0.1 0.9 0.4 0.9-1.7 0.9 1.8 1 0 0.9-2 0.9-0.6 0.9 0.9 1 4.7 0.9-2.5 0.9 0.2 0.9 0.2 1-1.2 0.9-3.2 0.9 3.1 0.9 0.6 1-2 0.9 0.9 0.9-0.1 0.9 1.2 1-1 0.9-0.6 0.9 3.4 0.9-0.5 1-3.9 0.9 0.4 0.9 2 0.9 0.7 1-1.2 0.9 1.5 0.9-1.2 0.9-2.9 1 2.2 0.9-1.5 0.9 2 0.9-0.8 1-1.5 0.9 3.9 0.9-1.4 0.9-0.2 1-0.7 0.9-1.8 0.9 1.3 0.9 3.1 1-1.7 0.9 0.9 0.9 0 0.9-4.2 1 4.5 0.9-1.9 0.9 1.4 0.9-2.3 1 0.8 0.9 0.3 0.9 0.3 0.9-1.7 1 3 0.9-0.3 0.9 0.6 0.9-3.5 1 2.3 0.9 1.1 0.9-0.8 0.9-4.2 1 3.7 0.9-1.3 0.9 0.5 0.9 0.7 1 1 0.9-0.5 0.9 0.1 0.9 2.7 1-6.9 0.9 2.4 0.9 1.2 0.9 0.4 1 0.9 0.9-2.5 0.9 1.7 0.9-1 1 2.7 0.9-2.5 0.9-2.4 0.9 3.3 1-1.5 0.9 1.1 0.9-1.5 0.9 0 1 1.5 0.9 0.9 0.9-1.3 0.9 0.4 1 0.9 0.9-1.5 0.9 0 0.9 1.9 1-1.1 0.9-4.4 0.9 3.1 0.9 1 1-3.5 0.9 4.3 0.9 2.9 0.9-0.8 1-0.6 0.9-2.6 0.9-1 0.9 4.5 1-4.7 0.9 3.4 0.9-2.2 0.9-0.3 1 0 0.9 0.7 0.9-0.3 0.9 1.9 1-2.1 0.9-1 0.9 0.1 0.9-2.4 1 2.2 0.9 0.5 0.9-1.4 0.9 2 1 2.2 0.9 1.4 0.9-5.1 0.9 1 1-0.4 0.9 1.7 0.9-1 0.9-2.2 1 2.2 0.9 2.1 0.9-1 0.9-2.6 1 3.5 0.9 2.2 0.9-0.5 0.9-1.4 1-3.1 0.9 1.1 0.9 1.2 0.9 0.7 1-1.7 0.9 0 0.9 0.6 0.9-0.5 1 0.7 0.9-3.7 0.9 6 0.9-3.7 1 1.6 0.9-2.5 0.9 1.3 0.9-1 1-0.3 0.9 0.5 0.9-1.2 0.9 3.4 1-3.5 0.9 1.6 0.9-0.9 0.9-1.8 1 0.5 0.9-1.3 0.9 6.1 0.9-2 1-2.9 0.9 3 0.9-1.4 0.9-2.9 1 1.1 0.9 2.6 0.9-2.1 0.9-0.4 1 0.8 0.9 0.1 0.9-0.4 0.9 2.3 1-2.6 0.9 1.5 0.9-2.1 0.9-0.2 1 1.8 0.9-2.4 0.9 0.2 0.9 0.5 1-1.4 0.9 1.4 0.9-0.2 0.9-0.7 1 0.1 0.9-2 0.9 5.2 0.9-3.3 1 2.5 0.9-2.5 0.9-1.3 0.9 0.2 1-1.6 0.9 0.8 0.9 4.6 0.9-2.7 1-4.3 0.9-0.2 0.9 2.1 0.9 2.4 1-5.9 0.9 6.5 0.9-4 0.9 0.4 1-0.6 0.9 2.1 0.9-1.4 0.9-2.5 1 2.3 0.9 1.2 0.9-2.3 0.9-0.3 1 0.1 0.9 0.9 0.9-2.3 0.9 0.9 1 1.5 0.9-2.4 0.9 0.2 0.9-0.4 1 2.8 0.9-1.7 0.9-2.2 0.9-0.9 1 0.8 0.9 0.1 0.9-1.1 0.9-0.6 1-1.5 0.9 2 0.9 1.5 0.9-1.9 1 3.8 0.9-3.4 0.9 0.6 0.9-0.8 1-1 0.9 0.5 0.9 2.4 0.9-2 1 0.6 0.9-1.4 0.9-0.8 0.9 2 1-3 0.9-1.1 0.9 2.5 0.9-1.8 1 3.5 0.9-1.8 0.9-2.7 0.9 4.4 1-2.3 0.9 0.5 0.9-3.7 0.9-0.2 1 2.8 0.9-1.5 0.9 4.4 0.9-6.2 1 0.6 0.9-1.9 0.9 6.2 0.9-5 1 1 0.9 3.6 0.9-3.6 0.9-1.3 1-1.8 0.9 0.8 0.9 1 0.9-2 1 0.7 0.9 0.7 0.9 0.4 0.9-2.4 1-0.2 0.9-3.3 0.9 3.8 0.9-3.9 1 2 0.9-1.8 0.9 3.5 0.9-0.3 1-1.3 0.9-2.4 0.9 1.1 0.9-1.3 1 0.5 0.9-1.5 0.9 1.2 0.9 1.1 1-2.1 0.9 0.5 0.9-3.3 0.9 3.3 1-0.8 0.9 0.6 0.9-3 0.9 0.3 1 0.1 0.9 3.3 0.9 0.3 0.9-3.6 1-1.1 0.9-1.7 0.9 5.9 0.9-3.3 1 2.6 0.9-1.6 0.9-1.6 0.9-2.5 1 2.6 0.9 0.1 0.9-1 0.9-3.2 1-2.5 0.9 7.4 0.9-2.7 0.9 0 1-3.3 0.9 1.1 0.9-2.4 0.9 4.6 1-2.3 0.9 0.6 0.9 0.8 0.9-2.2 1 1.5 0.9-7.1 0.9 2.9 0.9 2.3 1-1.3 0.9-5.2 0.9 4 0.9-2.9 1-0.3 0.9-1.5 0.9 0.4 0.9 1.1 1 0.3 0.9 1.8 0.9-4.1 0.9-0.9 1 0.4 0.9-1 0.9 1.6 0.9-7.6 1 5 0.9 0.5 0.9-1.5 0.9-1.5 1-2.5 0.9 6.1 0.9-6.8 0.9 1.8 1-1.5 0.9-3.2 0.9 0 0.9 2.6 1-1.9 0.9-4.8 0.9 0.6 0.9 0.5 1 1.3 0.9-2.6 0.9 0.8 0.9 1.6 1 0.5 0.9-3.9 0.9-0.1 0.9-2.3 1 3.4 0.9-4.7 0.9 3.6 0.9-4 1 1.2 0.9 2.2 0.9 0.5 0.9-2.1 1 0 0.9-3 0.9 3.5 0.9 1.6 1-3.5 0.9-4.7 0.9 0.5 0.9 5 1-1 0.9-1.6 0.9 2.1 0.9-1.2 1-0.1 0.9 1.6 0.9-1.2 0.9-0.5 1-1.8 0.9 3.1 0.9-3.2 0.9 2.3 1-0.6 0.9 0.6 0.9-12.1 0.9 6.2 1-0.4 0.9 1 0.9 2.3 0.9-0.9 1-0.7 0.9-0.6 0.9-0.5 0.9-2.3 1 10.3 0.9-5.8 0.9-3.1 0.9 2.2 1-0.6 0.9-4.1 0.9 2.9 0.9-3.9 1 4.1 0.9-0.9 0.9 2.9 0.9 2 1-3.9 0.9-1.3 0.9 0.8 0.9 2.2 1-5 0.9 1.2 0.9 0 0.9 1.7 1-6 0.9 0.2 0.9 2.6 0.9 0.8 1-1 0.9-3.5 0.9-2.7 0.9 6.6 1 1 0.9 3.3 0.9-11 0.9 9.3 1-4.7 0.9 0.9 0.9-2 0.9 5.2 1 1.8 0.9-4.2 0.9-0.7 0.9-1.9 1 6.7 0.9-3.1 0.9-0.6 0.9 2.4 1-3.1 0.9-2.7 0.9 1.7 0.9 2.9 1-4.8 0.9-1.8 0.9 0.2 0.9-1.3 1 5.3 0.9-6 0.9-1.2 0.9 1.5 1-1.8 0.9 0.7 0.9-6.2 0.9 2.5 1 0.2 0.9-4.4 0.9-1.6 0.9-3.3 1 1.9 0.9-2.7 0.9-5.2 0.9-7.7 1 1.7 0.9 1.6 0.9-7.8 0.9-1.5 1-1.7 0.9-8.1 0.9-5.8 0.9-8.9 1-9.4 0.9-7.3 0.9-8 0.9-6.6 1-12.9 0.9-12.2 0.9-18.2 0.9-10.7 1-18.4 0.9-25.7 0.9-19.8 0.9-21.4 1-27.2 0.9-26.3 0.9-26.1 0.9-25.6 1-19.1 0.9-13.1 0.9-6.4 0.9 4.2 1 5.7 0.9 12.1 0.9 24.5 0.9 28.2 1 26.7 0.9 29.7 0.9 24.3 0.9 21.3 1 24.5 0.9 23.5 0.9 20.8 0.9 20.5 1 18.6 0.9 10.8 0.9 14 0.9 7.9 1 11.9 0.9 11 0.9 5.4 0.9 0.8 1 16.7 0.9 0.7 0.9 6.7 0.9 6.6 1 5.9 0.9 2.2 0.9 3.1 0.9 2 1 3.1 0.9 3.6 0.9 4.5 0.9 0.1 1 3.5 0.9 2.9 0.9-2.5 0.9 4.5 1 2.3 0.9-1.5 0.9 5 0.9-2.9 1-0.2 0.9 2.5 0.9-0.5 0.9-3.1 1 2.2 0.9 1.7 0.9 1.3 0.9 2.9 1-0.1 0.9 0.8 0.9 0 0.9 0.3 1 2.3 0.9-4.2 0.9 5.5 0.9-2.3 1-0.9 0.9 2.3 0.9 1.5 0.9-1.1 1-3.3 0.9 2.6 0.9 1.9 0.9-1.5 1 1.6 0.9 3.2 0.9-3.8 0.9-1.5 1-0.1 0.9 2.2 0.9 2.5 0.9-5 1 2.3 0.9-2 0.9-1.2 0.9 0.9 1 0.1 0.9 0.4 0.9-1.2 0.9-1.7 1 0 0.9-2.6 0.9 3.6 0.9-2.9 1-3 0.9 0.2 0.9-1.5 0.9 0.1 1-4.9 0.9-3.1 0.9 4.2 0.9-5.6 1 4.2 0.9-4.5 0.9 3.2 0.9-6.6 1-0.5 0.9-1.8 0.9-4 0.9-0.3 1-0.4 0.9 0.1 0.9-3.7 0.9 0 1-2.3 0.9-5.9 0.9-0.1 0.9 0.2 1-1.8 0.9 4.2 0.9-4.2 0.9 4.1 1-2.3 0.9-2.1 0.9 0.6 0.9 0.1 1 2.2 0.9 1.3 0.9 1.3 0.9-2.1 1 1.5 0.9 7.5 0.9-2.5 0.9-1.5 1 4.6 0.9 0 0.9 2.8 0.9 2.2 1-2 0.9 2.3 0.9 1 0.9 4.7 1 1.6 0.9 0.3 0.9 3.3 0.9 0.8 1 6.1 0.9-0.7 0.9 3 0.9 3.4 1 1.3 0.9 3.4 0.9 2 0.9 1.6 1 4.1 0.9-0.2 0.9 0.4 0.9 5.9 1-2 0.9 3.9 0.9 1.2 0.9 0.8 1 1.2 0.9-0.4 0.9 3.4 0.9-1.9 1 3.2 0.9 0 0.9 0.3 0.9 2.5 1 1.1 0.9-1.3 0.9-0.3 0.9 0.2 1 2.1 0.9-2.6 0.9 3 0.9 1.2 1-2.3 0.9 0.3 0.9 3.3 0.9-2.2 1 3.1 0.9-1.5 0.9-2.8 0.9 1.6 1 1 0.9 0.3 0.9 2.2 0.9-1.3 1 0 0.9 2.2 0.9-1.4 0.9-0.3 1 0.7 0.9-0.1 0.9 1 0.9 1.4 1-1.3 0.9 2.7 0.9-1.4 0.9-2.1 1-0.7 0.9 1.9 0.9 3.8 0.9-4.7 1 1.2 0.9 1.1 0.9-1 0.9 0.4 1 2.3 0.9 0.3 0.9-2.8 0.9 4.3 1-3.5 0.9 0.4 0.9-0.7 0.9-0.8 1 0.6 0.9-0.2 0.9 1 0.9 0.5 1-0.7 0.9 1.4 0.9 1.2 0.9-1 1 2 0.9-1.3 0.9-3.1 0.9 1.9 1 0.9 0.9 0.6 0.9 1.4 0.9-1.4 1 0.3 0.9-0.9 0.9-0.1 0.9 0.2 1 2.3 0.9-4.1 0.9 1.3 0.9 0.5 1 0.4 0.9-0.9 0.9-1 0.9 0.8 1 2.2 0.9 0 0.9 1.4 0.9-3.1 1-0.8 0.9-0.7 0.9 1.1 0.9-1.1 1 1.8 0.9-2.3 0.9 0 0.9-0.7 1-0.8 0.9-6.5 0.9 3.3 0.9-2.5 1 4.7 0.9 0.3 0.9 2.9 0.9-0.7 1 1.8 0.9 1.4 0.9-0.3 0.9 1.5 1-2.1 0.9-0.8 0.9 0.9 0.9 0.4 1-1.3 0.9 3 0.9-2 0.9 0.7 1 0.7 0.9-1.2 0.9 2.1 0.9-1.2 1-0.5 0.9 1.9 0.9-1.1 0.9-0.8 1-0.5 0.9 2.4 0.9-2.2 0.9 1.5 1-0.4 0.9 0.8 0.9-1.5 0.9 1.9 1-1.1 0.9-0.1 0.9-0.4 0.9 2.2 1-2 0.9 0.9 0.9-1.6 0.9 2.2 1 0.3 0.9-0.5 0.9 0.4 0.9-0.1 1 1.3 0.9 1.1 0.9-0.7 0.9-0.9 1-1.1 0.9 0.9 0.9 0.8 0.9-0.8 1-0.2 0.9-3 0.9 1.8 0.9 1.3 1 2 0.9-1.4 0.9 0.2 0.9-0.9 1-1.7 0.9 2.6 0.9 2.2 0.9-2 1 1.8 0.9-2.7 0.9-0.2 0.9 0.9 1 2.1 0.9-1.4 0.9-1.5 0.9 2.6 1-0.4 0.9-0.9 0.9-0.2 0.9 0.6 1-0.3 0.9 0.3 0.9 0.9 0.9-0.5 1-0.3 0.9 1.5 0.9-1.3 0.9 0.1 1-0.3 0.9 0.2 0.9 1.6 0.9 0.2 1-1.6 0.9 0.5 0.9-0.2 0.9 0.7 1 0.9 0.9-1.7 0.9 0.5 0.9-0.8 1-0.5 0.9 0.1 0.9 0.1 0.9 2.2 1 1.2 0.9-1.6 0.9 0.7 0.9 0.2 1-2.1 0.9 2.5 0.9-2.7 0.9-0.2 1-1.6 0.9 1.7 0.9-1.1 0.9 3 1 0.1 0.9-1.8 0.9 2.5 0.9-2.6 1 1.6 0.9 1.8 0.9-4 0.9 3.2 1-3.9 0.9 4.3 0.9-0.7 0.9-1.1 1 0.3 0.9 1.7 0.9-1.8 0.9 0 1-0.3 0.9 2.2 0.9-1 0.9-0.5 1-0.9 0.9 0.7 0.9 0.5 0.9 0.1 1-1.9 0.9 2.4 0.9-1.2 0.9 2.7 1-4.1 0.9 1.3 0.9 2.4 0.9-2.5 1-0.8 0.9 0.6 0.9 0.8 0.9-0.7 1 1.7 0.9-0.5 0.9 0.1 0.9-0.5 1 1.2 0.9-2.5 0.9 1.6 0.9 1 1-0.9 0.9-0.6 0.9 0.4 0.9-1.1 1 1.6 0.9 0.4 0.9-1.3 0.9-0.8 1 2.3 0.9 0.7 0.9-1 0.9-0.5 1 1 0.9-1.3 0.9 1.1 0.9-1.8 1 2.2 0.9-0.3 0.9-1 0.9-0.6 1-0.3 0.9 1.7 0.9-0.7 0.9-0.6 1-0.9 0.9 2.5 0.9 0.3 0.9-1.8 1 0.8 0.9-1.6 0.9 1.3 0.9-0.3 1 1.2 0.9-1.1 0.9-1 0.9 1.6 1 1 0.9-2.2 0.9 1.3 0.9-0.4 1 0.8 0.9-1.7 0.9 1.7 0.9-0.2 1-0.5 0.9 0.2 0.9 2.1 0.9-2.8 1 1.7 0.9-1.5 0.9 0.7 0.9-0.2 1 0.6 0.9 0.3 0.9-1.2 0.9-0.1 1-0.8 0.9 0.5 0.9 1.3 0.9-1.9 1-1.1 0.9 1.5 0.9 1 0.9 0.8 1-1.1 0.9 1.6 0.9-2.3 0.9 1.2 1 0.2 0.9-0.8 0.9 1.5 0.9 0.5 1-1.3 0.9-1.7 0.9 2.1 0.9-1.7 1 2.8 0.9-1.9 0.9-0.6 0.9-1.3 1 3.7 0.9-1.7 0.9 0.8 0.9-1.2 1 0.9 0.9-0.7 0.9 0.9 0.9-0.2 1-1 0.9-1.1 0.9 1.3 0.9 0.1 1 0.6 0.9-2.1 0.9 3.7 0.9 0 1-1.2 0.9-1.3 0.9-0.5 0.9 0.4 1-0.2 0.9 0.6 0.9 0.7 0.9 0.6 1-1.6 0.9 1.5 0.9-1.4 0.9-0.3 1 1.4 0.9-0.2 0.9 0.1 0.9-1.3 1 0.6 0.9 0.8 0.9-0.9 0.9-1.3 1 1.3 0.9 0.1 0.9 0.6 0.9 0.5 1-0.9 0.9-0.1 0.9 0.4 0.9-1.5 1 1.5 0.9-0.1 0.9-0.4 0.9-0.3 1 2.4 0.9-2.1 0.9-1 0.9 2.4 1-1.5 0.9 0.9 0.9 0.5 0.9-1.3 1 0.4 0.9 2 0.9-1.5 0.9-1.4 1 1.4 0.9 0.2 0.9-0.4 0.9 0.1 1-1.2 0.9 1.6 0.9 0.4 0.9-1.7 1-0.5 0.9 0.3 0.9-0.2 0.9 1.6 1 0.8 0.9-0.8 0.9-0.7 0.9 1.7 1-1.4 0.9-0.8 0.9 1.2 0.9-2.7 1 1.3 0.9 2 0.9-0.1 0.9-0.4 1-1.4 0.9 0.2 0.9 1.1 0.9-0.8 1-0.6 0.9 0.3 0.9 2.1 0.9-0.5 1-0.1 0.9 0.8 0.9-2.6 0.9 1.5 1 0 0.9 0.2 0.9-1.1 0.9-0.3 1-0.1 0.9-0.5 0.9 2.1 0.9-2.5 1-0.9 0.9 3.1 0.9-0.2 0.9-1 1-0.6 0.9 1.5 0.9 0.6 0.9-2.9 1 2.6 0.9 2.2 0.9-3.3 0.9-0.4 1-0.7 0.9-0.1 0.9-1.3 0.9 3.7 1 0.4 0.9 0.5 0.9-3.2 0.9 2.1 1 1.3 0.9 0.4 0.9-2.2 0.9 0.6 1-0.8 0.9 1.2 0.9-0.1 0.9-1.2 1 0.6 0.9-0.7 0.9 0.7 0.9 0.1 1-0.6 0.9 0.7 0.9-0.5 0.9-0.3 1 1 0.9-0.4 0.9-0.2 0.9-0.6 1 0.4 0.9 0 0.9-0.2 0.9 0.8 1-0.7 0.9 1.1 0.9 1.1 0.9-2.2 1 2.4 0.9-1.9 0.9-1.7 0.9 0.9 1 1.7 0.9-1.7 0.9 0.5 0.9 1 1-0.7 0.9 0.4 0.9-0.2 0.9-0.6 1 1.9 0.9-2.4 0.9-1.2 0.9 2.2 1 0.8 0.9-0.6 0.9-1.6 0.9 1.7 1-1 0.9-1.8 0.9 3 0.9-0.8 1 0.7 0.9-0.2 0.9-0.5 0.9 0.8 1-1.2 0.9 0.3 0.9-1 0.9 0.5 1 0.3 0.9-1.2 0.9 1.7 0.9-0.8 1 1.3 0.9-2.1 0.9 2.1 0.9-1.7 1 1.7 0.9-0.9 0.9 1.2 0.9-0.3 1 0.2 0.9-1.4 0.9-0.1 0.9-0.3 1 0.4 0.9 0.6 0.9-1 0.9-0.9 1 2 0.9 0.3 0.9-1.3 0.9-1.6 1 2.2 0.9 0.2 0.9 0.6 0.9-0.3 1 0.2 0.9 0 0.9-2.1 0.9-0.3 1 1.1 0.9 0 0.9-0.8 0.9 0.7 1-0.2 0.9-0.6 0.9 0.5 0.9-1.5 1-2.2 0.9 3.1 0.9-0.5 0.9 0.9 1-0.7 0.9-1 0.9-0.8 0.9 0.2 1 0.6 0.9-2.4 0.9 0.4 0.9-1.7 1 0 0.9-0.9 0.9-0.8 0.9 1.6 1-4.9 0.9 1.9 0.9-2.3 0.9-0.9 1 0.9 0.9 0.6 0.9-2.7 0.9 1.8 1-1 0.9-0.5 0.9 1.6 0.9 2.1 1-0.7 0.9-0.8 0.9 2.4 0.9-1.3 1 3.7 0.9 0.1 0.9 1.6 0.9-0.2 1-2.2 0.9 1.7 0.9 1.5 0.9 0.9 1-1.5 0.9 1.8 0.9 1.3 0.9-2.4 1 3.3 0.9-1.4 0.9-0.2 0.9-0.2 1-1 0.9 1.3 0.9 1.7 0.9-1.8 1 0.9 0.9 1.7 0.9-0.1 0.9-0.3 1 1.5 0.9-2.7 0.9-0.1 0.9 0.1 1 1.3 0.9-0.8 0.9-1.2 0.9 0.8 1 0.6 0.9 0.6 0.9-0.7 0.9-1.4 1 1.3 0.9-2.4 0.9-0.1 0.9 1.8 1 2.4 0.9-1.4 0.9-1.6 0.9 1.9 1 0.1 0.9-0.8 0.9-2.7 0.9 3.2 1 1.6 0.9-2.4 0.9-0.1 0.9-0.4 1 0.7 0.9-0.3 0.9 0.8 0.9-1.5 1 1 0.9-0.5 0.9 1.3 0.9-2.3 1 1.2 0.9 0.7 0.9-0.5 0.9 1.2 1-0.6 0.9-1.5 0.9 0.2 0.9-0.2 1 0.1 0.9 1 0.9-0.4 0.9-1.9 1 2.1 0.9 1.5 0.9-1.7 0.9 0.5 1-0.4 0.9-0.1 0.9 1.1 0.9-1.6 1 0.6 0.9-0.8 0.9 1.4 0.9 0.3 1-0.6 0.9-2.2 0.9 3.6 0.9-3.1 1 1.2 0.9-1.2 0.9 1.6 0.9-0.8 1 0 0.9-1.9 0.9 2.4 0.9-0.4 1 1 0.9-1.1 0.9 1.1 0.9-0.7 1-0.5 0.9-0.2 0.9 1.5 0.9 0 1-2.2 0.9 1.8 0.9-0.8 0.9 0.5 1 1.4 0.9-1.6 0.9 0 0.9-2 1 3.9 0.9-1.5 0.9-1.2 0.9 1.2 1 1.7 0.9-3 0.9 0.5 0.9 1.1 1 0.1 0.9-0.3 0.9-1 0.9 0.4 1 0.5 0.9-1.1 0.9-0.7 0.9 1.7 1-2.3 0.9 1.6 0.9-0.6 0.9 0.2 1-0.1 0.9 0.2 0.9 2.7 0.9-1.4 1-2 0.9 2 0.9-1.2 0.9 1.7 1-1 0.9-2.3 0.9 1.3 0.9 1.2 1-0.2 0.9 1.1 0.9-2.4 0.9 0.8 1-1.1 0.9-0.1 0.9 1.2 0.9 0.7 1 0.2 0.9-0.9 0.9-0.5 0.9-1.4 1 2.4 0.9-1.5 0.9 1.6 0.9-0.5 1-1.5 0.9 0.2 0.9 1.1 0.9 0.1 1-1.9 0.9 1.4 0.9 0.1 0.9 0.8 1-3.9 0.9 0.6 0.9 1.4 0.9-1.9 1 1.9 0.9 0.9 0.9-1 0.9-1 1 2.7 0.9-2.6 0.9 0 0.9-0.4 1 1.1 0.9-0.8"/>
<path stroke="#ff00ff" stroke-dasharray="18 16 4 16 4 16" d="M257.5 2197.3l0.9 2.7 0.9 0.9 1 2.1 0.9-4 0.9-2.5 0.9 1.9 1-0.7 0.9-0.8 0.9 2.9 0.9-5.5 1 5.5 0.9-1.9 0.9-3.7 0.9 4.5 1-0.4 0.9 1 0.9-1.3 0.9 3.8 1-2.3 0.9-3.6 0.9 2.3 0.9 0.7 1-1 0.9 0 0.9 0.4 0.9-0.7 1 3.5 0.9-3.5 0.9 2 0.9-2.3 1 1.3 0.9 1.5 0.9-1.4 0.9 1.5 1-3.2 0.9 1.6 0.9-1.3 0.9 3 1-4.2 0.9 3 0.9-2.6 0.9 0.8 1 3.1 0.9-2.3 0.9 1.4 0.9-1.5 1-1.6 0.9 1.2 0.9-0.6 0.9 3.5 1-2.1 0.9-0.3 0.9-1.1 0.9 2.7 1-1.9 0.9 0.2 0.9 3.1 0.9-0.7 1-2.4 0.9 2.6 0.9 0.1 0.9-3.3 1 0.9 0.9 0.8 0.9-0.5 0.9 0.8 1 0.2 0.9-0.1 0.9-1.3 0.9-1.4 1 2.8 0.9-0.6 0.9 0.2 0.9 1.6 1-2.3 0.9-1 0.9 2.7 0.9-2.6 1 2.2 0.9-2.7 0.9-0.1 0.9 2.5 1 2.6 0.9-2.6 0.9 1.6 0.9-0.1 1-1.6 0.9-2.5 0.9 2.2 0.9 0.2 1 2.6 0.9-1.9 0.9 1.2 0.9-3 1 1.6 0.9-0.7 0.9 0 0.9 0.2 1-1.7 0.9 0.7 0.9 1.2 0.9-0.7 1-0.6 0.9-1.3 0.9 1.9 0.9-2 1 3.2 0.9-0.6 0.9 2 0.9-3.6 1 2.9 0.9 0 0.9-3 0.9 2.2 1 0.3 0.9-2.6 0.9 1.7 0.9-1.7 1 2.1 0.9-1.8 0.9-0.5 0.9 1.5 1-2.6 0.9 3.4 0.9-0.3 0.9-0.5 1-1.4 0.9 2 0.9 0.2 0.9-1 1-1.6 0.9 2.6 0.9 1.3 0.9-1.7 1-1.2 0.9 1.8 0.9-1 0.9 3.1 1-3 0.9-0.1 0.9-0.8 0.9 0.5 1-0.7 0.9 2.7 0.9-2.6 0.9 3.6 1-1.6 0.9-2.7 0.9 0.4 0.9 4.2 1-3.8 0.9 1.6 0.9 0.5 0.9-1.5 1 0.1 0.9-2 0.9 4.4 0.9-1.6 1-0.4 0.9 2.6 0.9-4.7 0.9-0.9 1 3.7 0.9-1.6 0.9 1 0.9-0.9 1 1.5 0.9-2.4 0.9 3.1 0.9-4 1 1.6 0.9-3.3 0.9 6.4 0.9-2.5 1 1.8 0.9-1.8 0.9-0.9 0.9 2.1 1 0.8 0.9 0.4 0.9-3.1 0.9-1.7 1 0.2 0.9 1.7 0.9 1.5 0.9-0.9 1 1.7 0.9 0.1 0.9-4.2 0.9 2.1 1-1 0.9 0.9 0.9-2.5 0.9-0.2 1 3.4 0.9-0.7 0.9 0.5 0.9-3.2 1 0.1 0.9 2.4 0.9-4.1 0.9 3.5 1 1.9 0.9 1.3 0.9-3 0.9-0.8 1 1.4 0.9-1.5 0.9-1.4 0.9 2 1-1.5 0.9-1.4 0.9 1.8 0.9 1.7 1-1.6 0.9-0.3 0.9-2.5 0.9 4 1 1.7 0.9-3 0.9-0.1 0.9 1.2 1-1.7 0.9 0.4 0.9-1.5 0.9 3.2 1-0.3 0.9-1.1 0.9 0.7 0.9-2.9 1 1 0.9 0.9 0.9-2.5 0.9 1.5 1-0.8 0.9 0.2 0.9 1.4 0.9-0.1 1-0.3 0.9 1.6 0.9-1.3 0.9-2.1 1 0.8 0.9 1.9 0.9-5.5 0.9 5.3 1-2.8 0.9-0.3 0.9-1 0.9 3.3 1-1.6 0.9 0.2 0.9-2.3 0.9 1.1 1-0.2 0.9-0.4 0.9-2.5 0.9 2 1-0.5 0.9 2.8 0.9-2.9 0.9 3.1 1-3.8 0.9 1.1 0.9 1.6 0.9 0.2 1-1.9 0.9-0.5 0.9 1 0.9-0.6 1-0.2 0.9 0.2 0.9-0.8 0.9-0.9 1-2 0.9 1 0.9 1.8 0.9-3.9 1 0.6 0.9 2.3 0.9-2.4 0.9 2.5 1 0.2 0.9-0.3 0.9-4.2 0.9 2.4 1-0.5 0.9 0.2 0.9 0.7 0.9-1.8 1-0.5 0.9-2.4 0.9 4.7 0.9-4.3 1 1.3 0.9 4 0.9-4.9 0.9-1.3 1 0.8 0.9 1.3 0.9-0.1 0.9 3.6 1-4.2 0.9 0.1 0.9 1.8 0.9-2.1 1 1.4 0.9-5.4 0.9 6 0.9-0.7 1 2.1 0.9-3.3 0.9-1.1 0.9 0.1 1 0.9 0.9-2.9 0.9 1 0.9-2 1 2.1 0.9 2.7 0.9-3.1 0.9 1.2 1-3.6 0.9 2.3 0.9-1 0.9-0.7 1 2.4 0.9-2.4 0.9-2.7 0.9 2.3 1-1.1 0.9-1 0.9 1.2 0.9-1.1 1-1.7 0.9 1.1 0.9-1.2 0.9 0 1 1.3 0.9 0.1 0.9-6.6 0.9 0.7 1 2.5 0.9-2.4 0.9-0.7 0.9-0.1 1 2.2 0.9 1.7 0.9-0.7 0.9-2.3 1-3.5 0.9-0.7 0.9 3.1 0.9-0.1 1-3.4 0.9-2 0.9 5.5 0.9-3.1 1 0.4 0.9 0.5 0.9-0.3 0.9-0.3 1-1 0.9 2.8 0.9-3.5 0.9-1.9 1-0.3 0.9-0.4 0.9 0.6 0.9-0.1 1-3.9 0.9 4 0.9-1 0.9-2.6 1 2.1 0.9 2.4 0.9-1.9 0.9-0.6 1-0.9 0.9 0.2 0.9-3.4 0.9 0.3 1 0 0.9 1.5 0.9-3.4 0.9-0.3 1-2.9 0.9 5.5 0.9-1.4 0.9-3.5 1 4.8 0.9-3.2 0.9-0.2 0.9 0 1 1.7 0.9-2.4 0.9 2.9 0.9-6.1 1 3.3 0.9-1.7 0.9 0 0.9-0.8 1-0.2 0.9-1 0.9 1.4 0.9-1.2 1 2.2 0.9-0.5 0.9-0.8 0.9 0.1 1 0.4 0.9-1.9 0.9-3.1 0.9 0.1 1 1.5 0.9-1.9 0.9-0.5 0.9-5.4 1 9.1 0.9-4.4 0.9 3.1 0.9-6 1 2.9 0.9-1.8 0.9 0.2 0.9-1.5 1 7.8 0.9-4.3 0.9-3.1 0.9 2.8 1-4.6 0.9-1.9 0.9 5.4 0.9-2.3 1-2.8 0.9-3.1 0.9 1.5 0.9 0.2 1 3.3 0.9-2.4 0.9-0.6 0.9 1.3 1-2.8 0.9 1.3 0.9-0.1 0.9-6.4 1 5 0.9-5.2 0.9 4.9 0.9-1.2 1 2.3 0.9-2 0.9-5.5 0.9 3.2 1 4.3 0.9-8.6 0.9 5 0.9-1.7 1-1.4 0.9 3.9 0.9-8.8 0.9 0.1 1 3.3 0.9-2.2 0.9 1 0.9 0.1 1-1.4 0.9 2.3 0.9-3.1 0.9-0.2 1-6.7 0.9 7.7 0.9-7.4 0.9 0.8 1 0.8 0.9 1.2 0.9-6.6 0.9 0.2 1 3.2 0.9-0.2 0.9-1.6 0.9-4.8 1 6.3 0.9-3.1 0.9-3.3 0.9 5.9 1-4 0.9-3.6 0.9 3.4 0.9-1.4 1 3.1 0.9-5.6 0.9 3.5 0.9-2.6 1-2.4 0.9 1.8 0.9-4.3 0.9-0.1 1 0.1 0.9-1.9 0.9 2.5 0.9 4.8 1-8.5 0.9-0.4 0.9 2.8 0.9 0.4 1-5.9 0.9 3.7 0.9-0.8 0.9-0.5 1-8 0.9 7.5 0.9 4.3 0.9-7.2 1 1.8 0.9 1.2 0.9-5.6 0.9 1 1-4.4 0.9 2.5 0.9-4.8 0.9-0.3 1 1.7 0.9-2.8 0.9-3.5 0.9 2.1 1 4.9 0.9-4.7 0.9-0.9 0.9-3.3 1 3.2 0.9-3.8 0.9 2.8 0.9-1 1 0.2 0.9-1.3 0.9-0.3 0.9-2.1 1 2 0.9-0.4 0.9-3.8 0.9-2.1 1-0.3 0.9-4.2 0.9-2.1 0.9-6.3 1 5.2 0.9-12.6 0.9 7.4 0.9-6.1 1-10.5 0.9-2.4 0.9-8.1 0.9-6.6 1-5.5 0.9-8.5 0.9-12.3 0.9-12.7 1-12.6 0.9-12.2 0.9-13.6 0.9-20.4 1-9.2 0.9-25.8 0.9-24.8 0.9-24.1 1-23.4 0.9-25.6 0.9-24.4 0.9-21.8 1-15.6 0.9-22.7 0.9-13.6 0.9-11.6 1 5.4 0.9 6.8 0.9 10.6 0.9 22.6 1 19.4 0.9 23.1 0.9 27.7 0.9 24.8 1 29.3 0.9 22 0.9 19.2 0.9 16.5 1 22.8 0.9 17.6 0.9 14.8 0.9 9.7 1 17.6 0.9 6.8 0.9 11.2 0.9 7.7 1 10.1 0.9 5 0.9 3 0.9 10 1 5.2 0.9 9.4 0.9-4.8 0.9 5.8 1-0.2 0.9 3.1 0.9 4.7 0.9 2 1 4.1 0.9-6.6 0.9 4.7 0.9 2 1 0.6 0.9 1 0.9 2.7 0.9 0.7 1-2.7 0.9 12.2 0.9-3.9 0.9 3.5 1-0.7 0.9 7.9 0.9-3.2 0.9-4.8 1 4.6 0.9-6.6 0.9 1 0.9-4.9 1-0.1 0.9-6.2 0.9-1.5 0.9-9.1 1 2.6 0.9-9 0.9-1.3 0.9-4.8 1-8.2 0.9 0.2 0.9-3.4 0.9-6.5 1-7 0.9-1.9 0.9-11.5 0.9-2.1 1-5.4 0.9-7 0.9-10.6 0.9-12.5 1-13.1 0.9-10.4 0.9-12.2 0.9-16.3 1-10.2 0.9-24.8 0.9-16 0.9-14.5 1-19.8 0.9-13.1 0.9-25 0.9-12.3 1-16.4 0.9-23.5 0.9-8.3 0.9-19.2 1-12.2 0.9-16.4 0.9-16.3 0.9-14.9 1-21.1 0.9-14.7 0.9-11.2 0.9-23.4 1-9.1 0.9-15 0.9-16.7 0.9-11.2 1-21.2 0.9-8.9 0.9-13.6 0.9-20.1 1-7.9 0.9-14 0.9-8.4 0.9-11.6 1-9.4 0.9-0.4 0.9-12.2 0.9-3.1 1-9.8 0.9-4.6 0.9 2.2 0.9-0.8 1-0.7 0.9 1.6 0.9 9.4 0.9 3.6 1 2.7 0.9 8.4 0.9 4.1 0.9 6.6 1 10.9 0.9 7 0.9 10 0.9 18.4 1 15.2 0.9 18.7 0.9 18.3 0.9 19.7 1 20.2 0.9 13.8 0.9 17.4 0.9 22.2 1 19.1 0.9 23.6 0.9 16.8 0.9 18.2 1 20.5 0.9 18.8 0.9 21.9 0.9 19.7 1 16.1 0.9 14 0.9 23.1 0.9 20.6 1 15 0.9 15.5 0.9 12.6 0.9 16.9 1 21.3 0.9 16.5 0.9 13.4 0.9 13.9 1 16.1 0.9 7.1 0.9 14.3 0.9 7.2 1 8.7 0.9 4.8 0.9 7.6 0.9 4.4 1 2.5 0.9 7.3 0.9 1.4 0.9 11.8 1 2.1 0.9 7.4 0.9 7.9 0.9 3.3 1-0.3 0.9 8.4 0.9 1.7 0.9 10.9 1-1.5 0.9 7.4 0.9 0.6 0.9 1.9 1 7 0.9-0.6 0.9 6.9 0.9 0.5 1 4.2 0.9 1 0.9 3.4 0.9 7.6 1-0.2 0.9 3.8 0.9-1.3 0.9 10.3 1-3.4 0.9 0 0.9-0.7 0.9 2.4 1 3.5 0.9-1.7 0.9 3.7 0.9 0.9 1 1 0.9 0.8 0.9-2.8 0.9 6.3 1 0.3 0.9-3.8 0.9 1.3 0.9-0.2 1 2.4 0.9-1.2 0.9 2 0.9 0.9 1 0.2 0.9-0.5 0.9 0.5 0.9 1.2 1-3 0.9 2.3 0.9 1.8 0.9 2.1 1-1.7 0.9 3.1 0.9-0.7 0.9 0.9 1 0.1 0.9-1.2 0.9 6.2 0.9-7.1 1 2.2 0.9 1.9 0.9 0.8 0.9-1.6 1 1.8 0.9-2.5 0.9 3.4 0.9 1.5 1 1.1 0.9-1.8 0.9-1.6 0.9 3.7 1-3.7 0.9 0.7 0.9 1.9 0.9-2.5 1 4.6 0.9 0.5 0.9-4.2 0.9-0.9 1-1.1 0.9-1.3 0.9-0.7 0.9-8.1 1-2.9 0.9-2 0.9 6 0.9 7.2 1 0.6 0.9 2 0.9 1.5 0.9 3.3 1 1.2 0.9-2.2 0.9 1.7 0.9 0.5 1-1.4 0.9 0.2 0.9 1.1 0.9 1.3 1-2.3 0.9 4 0.9-1.4 0.9-0.3 1 2.7 0.9-0.8 0.9-2.2 0.9 1.6 1 1.6 0.9-3.8 0.9 2.3 0.9 0.2 1-2.3 0.9 4.9 0.9-1.2 0.9 0.7 1-3.1 0.9 3.2 0.9-4.4 0.9 2.8 1 0.4 0.9-0.8 0.9 1.8 0.9 1.1 1-0.3 0.9-0.7 0.9 1.5 0.9-1.4 1 1.2 0.9-0.4 0.9-0.1 0.9-2.2 1-0.8 0.9 0.7 0.9 2.9 0.9 0.8 1-2.3 0.9-0.3 0.9 0.7 0.9 2.2 1-1.1 0.9 0.9 0.9-1.6 0.9 0.2 1 1.1 0.9 1 0.9-2.8 0.9 2.3 1-0.8 0.9 0.5 0.9-0.1 0.9-0.4 1 2.1 0.9 0.3 0.9-1.3 0.9 5.3 1-4.1 0.9 0.7 0.9-1.5 0.9 0.6 1 0.9 0.9 1.4 0.9-1.2 0.9 0.3 1-0.4 0.9 0 0.9 1.3 0.9-1.5 1 1.5 0.9-1.1 0.9 0.3 0.9-1.1 1 1.8 0.9-2 0.9 2.7 0.9 0.8 1-1.9 0.9 2.6 0.9-1.9 0.9 0.1 1 0.3 0.9-0.1 0.9 0.4 0.9-1.3 1 1.9 0.9 2.5 0.9-1.9 0.9-1.4 1-0.1 0.9 0.5 0.9 0.9 0.9 1.4 1-3 0.9 2.8 0.9 0.8 0.9 1.8 1-5.3 0.9 2.5 0.9 2.4 0.9-3.2 1 0.4 0.9 3 0.9-2.8 0.9 1 1-0.6 0.9-0.7 0.9 2.3 0.9-3 1 2.9 0.9 0.7 0.9-2 0.9 2.4 1-0.3 0.9-1.2 0.9 2.2 0.9 0.7 1-1.8 0.9 0.5 0.9 0.8 0.9-1.7 1 2.7 0.9-2.1 0.9 2.2 0.9-1.6 1 2.1 0.9-2.1 0.9 1 0.9 0.5 1-0.4 0.9 0.4 0.9-1 0.9 1.8 1-1.1 0.9 0.9 0.9 0.5 0.9 0 1 0.8 0.9-1.5 0.9 0.3 0.9-0.2 1 2.3 0.9-1.2 0.9-2.1 0.9 0.5 1 1.5 0.9-0.1 0.9-0.1 0.9-0.9 1-0.4 0.9 1.4 0.9 0.1 0.9 0.3 1-0.3 0.9-1.5 0.9 2.7 0.9-1.4 1 2 0.9-0.1 0.9 0.7 0.9-1.1 1-2.2 0.9-0.2 0.9 1 0.9 0.9 1-1.2 0.9 2.4 0.9 0.4 0.9-0.6 1-0.7 0.9 1.8 0.9-1.1 0.9-2.6 1 2 0.9 0.3 0.9 0.3 0.9-1.5 1 0.1 0.9 0.7 0.9 0.3 0.9 2.1 1-0.7 0.9-1.1 0.9 0.2 0.9-0.2 1 0.2 0.9-2.4 0.9 0.7 0.9 2.4 1-1.9 0.9 0.4 0.9 0.5 0.9 0.2 1-0.6 0.9-1.6 0.9 2.6 0.9-0.4 1 0 0.9 1.6 0.9-1.7 0.9 0.9 1-1.2 0.9-0.1 0.9-1.5 0.9 2.2 1 0 0.9-1 0.9-1.3 0.9 1.9 1-0.3 0.9-0.1 0.9 0.1 0.9 1.1 1 0.3 0.9-0.1 0.9-0.3 0.9-0.7 1 1.2 0.9-0.1 0.9-0.8 0.9 0.2 1-0.2 0.9 1.4 0.9-3.3 0.9 2.2 1 0.1 0.9 0.6 0.9-1.3 0.9-0.6 1 1.1 0.9 0.1 0.9 0.2 0.9-2.6 1 1.7 0.9 1.1 0.9-0.6 0.9-0.9 1 0.9 0.9-0.1 0.9 0.1 0.9 0.4 1-0.8 0.9-1.1 0.9 1.2 0.9 0.8 1 0.6 0.9-0.8 0.9 0.5 0.9 0.3 1-1.5 0.9 0.4 0.9-0.8 0.9 0.6 1 0.9 0.9-1.4 0.9 0.6 0.9-1 1 2.4 0.9-0.6 0.9-0.4 0.9-1.6 1 1.2 0.9 1.6 0.9-0.2 0.9-1.5 1 2.2 0.9-0.9 0.9-0.6 0.9 0.3 1-0.7 0.9-0.5 0.9 0.6 0.9 1.5 1-2.6 0.9 0.3 0.9 1.9 0.9-0.5 1 1 0.9-2.7 0.9 1.9 0.9-0.9 1-0.1 0.9-0.8 0.9 1.2 0.9 0.5 1-1 0.9-0.4 0.9 1.6 0.9-0.5 1 1.5 0.9-3 0.9 2.1 0.9-1.6 1 0.1 0.9 0.1 0.9-0.2 0.9 1.8 1-1 0.9 0.9 0.9-0.6 0.9 0.6 1-3.1 0.9 2.1 0.9-0.7 0.9 1.6 1-2.4 0.9 1.9 0.9 0 0.9 0.2 1 1.2 0.9 0.5 0.9-2.2 0.9 1.3 1-0.9 0.9-2.2 0.9 2.3 0.9-2.3 1 1.7 0.9 1.4 0.9-1.7 0.9-0.5 1 0.3 0.9 1.5 0.9 0.4 0.9-1.9 1-1 0.9 0.1 0.9 2.1 0.9-0.1 1-0.5 0.9-0.8 0.9 0.6 0.9 0 1 0.5 0.9 2.6 0.9-1.4 0.9-1.4 1 1.8 0.9-3.7 0.9 2.9 0.9-1.5 1-0.3 0.9-0.2 0.9 2.4 0.9-1 1-1.7 0.9 1.4 0.9-0.7 0.9 3.3 1-2.9 0.9 0.3 0.9 0.3 0.9 1.7 1-1.1 0.9-0.5 0.9 0.2 0.9 0.7 1-2.2 0.9 0.1 0.9 1.4 0.9-1.9 1 2.7 0.9-1.5 0.9-1.3 0.9 1 1 0.8 0.9-0.7 0.9 0.7 0.9 0.4 1 0.3 0.9-0.8 0.9 0.1 0.9-0.4 1 1.2 0.9-1.2 0.9-0.6 0.9 1.6 1-2.3 0.9 2.4 0.9 0 0.9-0.1 1 0.6 0.9 0.4 0.9-0.4 0.9-0.9 1 0.6 0.9-2.3 0.9 1.7 0.9 0.2 1 0.2 0.9-1.1 0.9 0.4 0.9-0.2 1-0.5 0.9-0.8 0.9 2.5 0.9-1.6 1 0.6 0.9-0.2 0.9 0.9 0.9-1.2 1 0 0.9 0.2 0.9 1.1 0.9-1.4 1 1.6 0.9 0.6 0.9-2.3 0.9 0.9 1 1.4 0.9-0.9 0.9-0.7 0.9-0.9 1 1.1 0.9 0.6 0.9 0.3 0.9 0.2 1-1.2 0.9 0.6 0.9-1.4 0.9 1.3 1-1.8 0.9 1.3 0.9-0.3 0.9 0.1 1 0 0.9-1.7 0.9 2.3 0.9-0.3 1-0.3 0.9-0.9 0.9 1.6 0.9-2.5 1 2.4 0.9-0.5 0.9-0.7 0.9-0.1 1 1 0.9-1.9 0.9-1 0.9 1.7 1-0.9 0.9-0.1 0.9-2.1 0.9 2.3 1-0.5 0.9 0.5 0.9-1 0.9 0.4 1-0.3 0.9-0.6 0.9-1.8 0.9 0.8 1-1.9 0.9 0.4 0.9-2.3 0.9 1.9 1-0.9 0.9-3 0.9-2 0.9 1.5 1 1 0.9-4.9 0.9-0.1 0.9 0.8 1-3.4 0.9-0.4 0.9 2.2 0.9-0.4 1-1.3 0.9 0.3 0.9-0.5 0.9 1.8 1-1.2 0.9 3.8 0.9 1.6 0.9 0.5 1 1.1 0.9 0.1 0.9 1.7 0.9-1.1 1 0.4 0.9 0.2 0.9 3.1 0.9 1.4 1-0.4 0.9-0.1 0.9 1 0.9-0.7 1 0.3 0.9 0.4 0.9 1.5 0.9-1.6 1 2 0.9 1.8 0.9-2.3 0.9-1.3 1 1.3 0.9 1.8 0.9-1.3 0.9-1.5 1 1.1 0.9 0.3 0.9 1.1 0.9-1.1 1 0.6 0.9-2.2 0.9 1.2 0.9-0.5 1 2.5 0.9-1.7 0.9-0.9 0.9-0.9 1 0.4 0.9 2.2 0.9-3.9 0.9 3.2 1 0.1 0.9 0 0.9 0.8 0.9-0.8 1 0.3 0.9-0.2 0.9 0.2 0.9-0.4 1-1 0.9 1.4 0.9 0.5 0.9-1.9 1 0.6 0.9-0.8 0.9 1.7 0.9-0.9 1 0.7 0.9 0.6 0.9-0.9 0.9-0.5 1-0.4 0.9 1.5 0.9-2 0.9-0.4 1 0.7 0.9 0.8 0.9 0.4 0.9-1.9 1 1.8 0.9-2.2 0.9 3.2 0.9 0.1 1-2.5 0.9 1.7 0.9-2.4 0.9 1.5 1 0 0.9-0.9 0.9-0.9 0.9 0.3 1 1 0.9 0.1 0.9-1.2 0.9 1.6 1 0.2 0.9-0.1 0.9-4.5 0.9 1.8 1 1 0.9 0.8 0.9-1 0.9 2.3 1-1.5 0.9-1.3 0.9 0.7 0.9 1.4 1-1.2 0.9 0.1 0.9-1.7 0.9 0.5 1 0.7 0.9-2.3 0.9 2.8 0.9-1.8 1 0.7 0.9 0.5 0.9 0.4 0.9-1.1 1-1.2 0.9 3.4 0.9-1.9 0.9-1 1 1.8 0.9-0.1 0.9-2.4 0.9 1.8 1 0.1 0.9-1 0.9 0.1 0.9-0.4 1 0 0.9-1 0.9 1.1 0.9-0.7 1 1.8 0.9-1.2 0.9 0.8 0.9-2.2 1 1.1 0.9-1 0.9 1.5 0.9 0.7 1-1.9 0.9 0.9 0.9 1.4 0.9-1.4 1 0.5 0.9-2.5 0.9 1.5 0.9-0.9 1 0.1 0.9-0.9 0.9 0.7 0.9-0.1 1 0 0.9 1.9 0.9-1.7 0.9 1.3 1-0.1 0.9-1.5 0.9 2 0.9-1.8 1-1.5 0.9 1.1 0.9-1.1 0.9 2 1-1.2 0.9 2.9 0.9-1.9 0.9-0.6 1-3 0.9-0.4 0.9 4.5 0.9-2 1 0.3 0.9-2.9 0.9 0.7 0.9 1.3 1-1.5 0.9-0.7 0.9 2.1 0.9-2.1 1 0.3 0.9-0.4 0.9 2.8 0.9-2.1 1 2.7 0.9-3.5 0.9 1.2 0.9-2.8 1-0.3 0.9 3.8"/>
</g>
<rect x="257.5" y="1280.2" width="1387.5" height="1027.6" fill="none" stroke="#000" stroke-width="4.8"/>
<path d="M248 2307.8H257.5M237 2247.4H257.5M248 2187H257.5M237 2126.5H257.5M248 2066.1H257.5M237 2005.6H257.5M248 1945.2H257.5M237 1884.7H257.5M248 1824.2H257.5M237 1763.8H257.5M248 1703.4H257.5M237 1642.9H257.5M248 1582.5H257.5M237 1522H257.5M248 1461.6H257.5M237 1401.1H257.5M248 1340.7H257.5M237 1280.2H257.5M257.5 2307.8V2328.3M373.1 2307.8V2318.3M488.8 2307.8V2328.3M604.4 2307.8V2318.3M720 2307.8V2328.3M835.6 2307.8V2318.3M951.2 2307.8V2328.3M1066.9 2307.8V2318.3M1182.5 2307.8V2328.3M1298.1 2307.8V2318.3M1413.8 2307.8V2328.3M1529.4 2307.8V2318.3M1645 2307.8V2328.3" stroke="#000" stroke-width="4.8" fill="none"/>
<text transform="translate(225.7,2262.8) scale(1.025,1)" font-size="52.2" font-weight="normal" text-anchor="end">0</text>
<text transform="translate(225.7,2141.9) scale(1.025,1)" font-size="52.2" font-weight="normal" text-anchor="end">1000</text>
<text transform="translate(225.7,2021) scale(1.025,1)" font-size="52.2" font-weight="normal" text-anchor="end">2000</text>
<text transform="translate(225.7,1900.1) scale(1.025,1)" font-size="52.2" font-weight="normal" text-anchor="end">3000</text>
<text transform="translate(225.7,1779.2) scale(1.025,1)" font-size="52.2" font-weight="normal" text-anchor="end">4000</text>
<text transform="translate(225.7,1658.3) scale(1.025,1)" font-size="52.2" font-weight="normal" text-anchor="end">5000</text>
<text transform="translate(225.7,1537.4) scale(1.025,1)" font-size="52.2" font-weight="normal" text-anchor="end">6000</text>
<text transform="translate(225.7,1416.5) scale(1.025,1)" font-size="52.2" font-weight="normal" text-anchor="end">7000</text>
<text transform="translate(225.7,1295.6) scale(1.025,1)" font-size="52.2" font-weight="normal" text-anchor="end">8000</text>
<text transform="translate(258.5,2382.8) scale(1.025,1)" font-size="52.2" font-weight="normal" text-anchor="middle">10</text>
<text transform="translate(489.8,2382.8) scale(1.025,1)" font-size="52.2" font-weight="normal" text-anchor="middle">15</text>
<text transform="translate(721,2382.8) scale(1.025,1)" font-size="52.2" font-weight="normal" text-anchor="middle">20</text>
<text transform="translate(952.2,2382.8) scale(1.025,1)" font-size="52.2" font-weight="normal" text-anchor="middle">25</text>
<text transform="translate(1183.5,2382.8) scale(1.025,1)" font-size="52.2" font-weight="normal" text-anchor="middle">30</text>
<text transform="translate(1414.8,2382.8) scale(1.025,1)" font-size="52.2" font-weight="normal" text-anchor="middle">35</text>
<text transform="translate(1646,2382.8) scale(1.025,1)" font-size="52.2" font-weight="normal" text-anchor="middle">40</text>
<text transform="translate(78.1,1935) rotate(-90) scale(1,1.05)" font-size="62.9" font-weight="normal" text-anchor="start">Intensity(a.u.)</text>
<text transform="translate(793.5,2460.8) scale(1.028,1)" font-size="62.2" font-weight="normal" text-anchor="start">2θ (degree)</text>
<text transform="translate(264.6,1339.8) scale(1.025,1)" font-size="62.0" font-weight="bold" text-anchor="start" style="stroke:none">(b)</text>
<text transform="translate(694.2,1413.4) scale(1.03,1)" font-size="53.0" font-weight="bold" text-anchor="start" style="stroke:none">(110)</text>
<text transform="translate(693.2,1479.5) scale(1.03,1)" font-size="53.0" font-weight="bold" text-anchor="start" style="stroke:none">21.22°</text>
<text transform="translate(920.1,1363.8) scale(1.03,1)" font-size="53.0" font-weight="bold" text-anchor="start" style="stroke:none">(200)</text>
<text transform="translate(919,1419.6) scale(1.03,1)" font-size="53.0" font-weight="bold" text-anchor="start" style="stroke:none">23.63°</text>
<text transform="translate(1411.5,2096.5) scale(1.03,1)" font-size="53.0" font-weight="bold" text-anchor="start" style="stroke:none">(020)</text>
<text transform="translate(1409.8,2162.8) scale(1.03,1)" font-size="53.0" font-weight="bold" text-anchor="start" style="stroke:none">36.5°</text>
<rect x="1231.5" y="1281.8" width="409.3" height="259.7" fill="#fff" stroke="#000" stroke-width="2.2"/>
<line x1="1253.4" y1="1317.2" x2="1370.2" y2="1317.2" stroke="#000000" stroke-width="6.0" stroke-linecap="round"/>
<text transform="translate(1384,1334.8) scale(1.025,1)" font-size="52.0" font-weight="normal" text-anchor="start">XLPE-15</text>
<line x1="1253.4" y1="1382.2" x2="1370.2" y2="1382.2" stroke="#ff0000" stroke-width="6.0" stroke-linecap="round" stroke-dasharray="0.2 10.17"/>
<text transform="translate(1384,1399.8) scale(1.025,1)" font-size="52.0" font-weight="normal" text-anchor="start">Pipeline-15</text>
<line x1="1253.4" y1="1447" x2="1370.2" y2="1447" stroke="#0000ff" stroke-width="6.0" stroke-linecap="round" stroke-dasharray="25 16 4 16"/>
<text transform="translate(1384,1464.6) scale(1.025,1)" font-size="52.0" font-weight="normal" text-anchor="start">Ground-15</text>
<line x1="1253.4" y1="1512.8" x2="1370.2" y2="1512.8" stroke="#ff00ff" stroke-width="6.0" stroke-linecap="round" stroke-dasharray="18 16 4 16 4 16"/>
<text transform="translate(1384,1530.4) scale(1.025,1)" font-size="52.0" font-weight="normal" text-anchor="start">Tunnel-15</text>
<path d="M237 1280.2H1645V2307.8" fill="none" stroke="#000" stroke-width="4.8"/>
<clipPath id="clipc"><rect x="257.5" y="2488.5" width="1387.5" height="1027.2"/></clipPath>
<g clip-path="url(#clipc)" fill="none" stroke-width="6.0" stroke-linejoin="round" stroke-linecap="round">
<path stroke="#000000" d="M257.5 3382.9l0.9-3.3 0.9 9.3 1-9.8 0.9 4.9 0.9 2.2 0.9 0 1 0.8 0.9-2.5 0.9-3 0.9 0.7 1-0.1 0.9 6.6 0.9-0.4 0.9-8.8 1 1.7 0.9-3.5 0.9 2.8 0.9 6.3 1-6.5 0.9 1.8 0.9 1.2 0.9 2.9 1-2.3 0.9 0.4 0.9-2.9 0.9 2.1 1-4.1 0.9 6.7 0.9-3.5 0.9-0.1 1 3.8 0.9 0.9 0.9-6.2 0.9 1.4 1 2 0.9-1.6 0.9 3 0.9-2.6 1 2.4 0.9-2.2 0.9-2.3 0.9 3.8 1-3.4 0.9 5.3 0.9-2.1 0.9 3 1-3.5 0.9-0.5 0.9 0.8 0.9 0.2 1-4.6 0.9-0.2 0.9 7.4 0.9-6.7 1 8.2 0.9-2.8 0.9-1.6 0.9-0.8 1 3.3 0.9-0.9 0.9-2.3 0.9 2.2 1-0.1 0.9-3.7 0.9-0.8 0.9 2.8 1-0.2 0.9 0.1 0.9 1.3 0.9 0.1 1 1.5 0.9-4.7 0.9 2.1 0.9 0.1 1-0.9 0.9-0.9 0.9-2.5 0.9 4.7 1 0.4 0.9-1.7 0.9 3 0.9-6 1 1 0.9 0.7 0.9 2.3 0.9-2.4 1-0.9 0.9 1.5 0.9 2.2 0.9 4 1-7.4 0.9 3.7 0.9 1.4 0.9-4.9 1 1.5 0.9 5 0.9-3.7 0.9 0.4 1-3.5 0.9 8.1 0.9-4.2 0.9-0.7 1-4.4 0.9 7 0.9 5.3 0.9-4.4 1-4.7 0.9-1.5 0.9-2.6 0.9 3.7 1 3.4 0.9-4.7 0.9 2.5 0.9 0.5 1-0.6 0.9-3.5 0.9 6.1 0.9 0.3 1-2.7 0.9 0 0.9 2.1 0.9 0.2 1-3.5 0.9-2.7 0.9 1.7 0.9 0.1 1-1.6 0.9 9.1 0.9-1.3 0.9-2.3 1 1.4 0.9-0.6 0.9-3 0.9 3.8 1-2.3 0.9 4.5 0.9-3.1 0.9-6.5 1 5.3 0.9-2.4 0.9-1.1 0.9 3.4 1-3.1 0.9 1.1 0.9-1.4 0.9 3.8 1 2.2 0.9-1.2 0.9-1.3 0.9-3.1 1 2.1 0.9 0.6 0.9-0.7 0.9-3.6 1 4.7 0.9-5.9 0.9 7.7 0.9-1.8 1-4.1 0.9 1 0.9 3.8 0.9-2.1 1 1.7 0.9-4.5 0.9 0.9 0.9 3.5 1-3.2 0.9 2.2 0.9-0.9 0.9-0.4 1 1.7 0.9-2.8 0.9-0.2 0.9 0.1 1-2 0.9 3.9 0.9 3.4 0.9-2.9 1-2 0.9 0.5 0.9-1.6 0.9-0.7 1 2.5 0.9 0 0.9 2.4 0.9-5.8 1 3.7 0.9 2.2 0.9 0.1 0.9-2.1 1-5.7 0.9 2.2 0.9 7 0.9-4.5 1-1.2 0.9-1.1 0.9 0.7 0.9 2.8 1-3.1 0.9 2.7 0.9 4.8 0.9-4.5 1-0.1 0.9-4.8 0.9-0.4 0.9 5.9 1-3.7 0.9 0.2 0.9 4.2 0.9 1.7 1-5.9 0.9-0.8 0.9 2 0.9 6 1-8 0.9 1.4 0.9 0.7 0.9-1.8 1 2.1 0.9-5.1 0.9 1.4 0.9 1.5 1-2.7 0.9 0.7 0.9 4.2 0.9-4.3 1 0.7 0.9 3.6 0.9-3.5 0.9-3.4 1 2.9 0.9-6.3 0.9-1.1 0.9 5.8 1-2.8 0.9-4.6 0.9 6.8 0.9 1.5 1-1.7 0.9 2.7 0.9-0.4 0.9-4.9 1 1.6 0.9-2.3 0.9-1 0.9 3.5 1-2 0.9 0 0.9 0.9 0.9 0.2 1-3.8 0.9 1.1 0.9-1.8 0.9-2.4 1-0.3 0.9 6.3 0.9-1.1 0.9-2.2 1-1.5 0.9-2.9 0.9 5.7 0.9-1.9 1-2.5 0.9-3.5 0.9-0.8 0.9 7.4 1-2.9 0.9 1.6 0.9-5.6 0.9 1 1 2.3 0.9 0.5 0.9-3.2 0.9-2.5 1 5.4 0.9-1.7 0.9-1.7 0.9 0.1 1-1.3 0.9 4 0.9-1.5 0.9 4.6 1-7.2 0.9-3.6 0.9 9.9 0.9-4.9 1-5.2 0.9 3.1 0.9 5.5 0.9-10.2 1 8.1 0.9-9.2 0.9 6 0.9 0.2 1-2.6 0.9-0.1 0.9-2.3 0.9 0.1 1 1.8 0.9-4.9 0.9 1.7 0.9 1.1 1 0.2 0.9 0.5 0.9-0.3 0.9-2.7 1 0.4 0.9 1.1 0.9-3.4 0.9 3.8 1-2.5 0.9-1.7 0.9 6.1 0.9-3 1-6.6 0.9 8.2 0.9-7.1 0.9 6.8 1-5 0.9 4.4 0.9-1.8 0.9-1.2 1 0.2 0.9-5.4 0.9 0.2 0.9-0.4 1 1.8 0.9-5 0.9 1.6 0.9 1.9 1 4 0.9-5.9 0.9-0.3 0.9 1.5 1-2.4 0.9-0.5 0.9 3 0.9-3.1 1 0.3 0.9-0.2 0.9 1.7 0.9 0.1 1-2.3 0.9-4.6 0.9-3.2 0.9 8.3 1 1.9 0.9-2.7 0.9 1.2 0.9-1.7 1-3 0.9 3.9 0.9-5.3 0.9-1 1-2.7 0.9-1.4 0.9 2.3 0.9-4.5 1 8.5 0.9-2.8 0.9-0.1 0.9-1.3 1-2.3 0.9 4 0.9-7 0.9 1 1 2.6 0.9-0.8 0.9 4.2 0.9 4.5 1-8.2 0.9-1.7 0.9-0.2 0.9 3.8 1-2.5 0.9-7.6 0.9 2.9 0.9-0.1 1 2.5 0.9-3.8 0.9-2.3 0.9 1.3 1 3.2 0.9-2.7 0.9 3.3 0.9-2.4 1-3.3 0.9 3.1 0.9-1.5 0.9-5.8 1 4.6 0.9-3.5 0.9 2.9 0.9 2.2 1-4.2 0.9 0.6 0.9 4.8 0.9-3.2 1-3 0.9-6.6 0.9 6 0.9-2.3 1-2.7 0.9 0.5 0.9 1.5 0.9-7.2 1 0.6 0.9 11.5 0.9-11.4 0.9 0.7 1-2 0.9 2.2 0.9-2.9 0.9-4.2 1 0.1 0.9-0.9 0.9 1.7 0.9-0.2 1-0.7 0.9 5.9 0.9-11.5 0.9 5.8 1-0.9 0.9 0 0.9-1.9 0.9 7.7 1-8.3 0.9 4.1 0.9-1.6 0.9 2.1 1-1.2 0.9-8.1 0.9 2.6 0.9-2.1 1-0.6 0.9 2.3 0.9-2.4 0.9 0.9 1-4 0.9 5.1 0.9-6.8 0.9-5.1 1-2 0.9-0.8 0.9 1.1 0.9 3.9 1-7.2 0.9 0.3 0.9-0.1 0.9 3.8 1-6.1 0.9-4.2 0.9 1.2 0.9 2.3 1-3.3 0.9 0.9 0.9-1.3 0.9-2.9 1 0.9 0.9 0.2 0.9-1.7 0.9 3.2 1-0.1 0.9-5.3 0.9 2.8 0.9-4.3 1 7.1 0.9-10.3 0.9 3.5 0.9-6.3 1 12.7 0.9-3.2 0.9-10.5 0.9 3.3 1-1.1 0.9-0.2 0.9-0.8 0.9-2 1 4.2 0.9-3.5 0.9-5.6 0.9 2.7 1 1.7 0.9-3.3 0.9-4 0.9 3 1-1.1 0.9-3.2 0.9-2.2 0.9-3.1 1 4.1 0.9-2.7 0.9-3.4 0.9 8.3 1-7.8 0.9-2.2 0.9 0.5 0.9 1.2 1-5.9 0.9-3.4 0.9 2.9 0.9-0.1 1-2.2 0.9-7.1 0.9-0.3 0.9 2.4 1 2.2 0.9-0.9 0.9-4.5 0.9-1.5 1-3.4 0.9 2.9 0.9-4.8 0.9-3.7 1 5.5 0.9-14.5 0.9 3.8 0.9-1.7 1 4 0.9-2.8 0.9-8.6 0.9-1.7 1 8.5 0.9-13.9 0.9-1 0.9-2.2 1 2.8 0.9-7.2 0.9-0.2 0.9-6.8 1-7.4 0.9 0.5 0.9-4.6 0.9 0.7 1-1.4 0.9-7.2 0.9-7.2 0.9-5.4 1 0.6 0.9-5.4 0.9-2.6 0.9-0.7 1-11.1 0.9-6.3 0.9-3.8 0.9-7.9 1-2.4 0.9-13.8 0.9-11.9 0.9-2.5 1-8.1 0.9-5.2 0.9-2.3 0.9-9.9 1-4.2 0.9-20.4 0.9-0.7 0.9-6.7 1-10.9 0.9-24.1 0.9-13.8 0.9-18.7 1-16.8 0.9-28.7 0.9-27.9 0.9-41.7 1-33.1 0.9-49.6 0.9-38.9 0.9-39.7 1-42.6 0.9-16.5 0.9-17.4 0.9 2.1 1 15.7 0.9 34.6 0.9 46.6 0.9 56.2 1 46.2 0.9 50.3 0.9 37.4 0.9 46.1 1 33 0.9 28.1 0.9 34.6 0.9 22.5 1 25.6 0.9 18.1 0.9 17.2 0.9 15.5 1 13.5 0.9 13.7 0.9 3.7 0.9 18 1 6 0.9 9.9 0.9 13.7 0.9-3.6 1 8.6 0.9 11 0.9 3.3 0.9 7.9 1-1.5 0.9 0.3 0.9 5.1 0.9 11.7 1 4.8 0.9-4.2 0.9-0.8 0.9 7.9 1-0.7 0.9 10.3 0.9-1.9 0.9 0.3 1 4.8 0.9 1.4 0.9-1.1 0.9 6 1 2.8 0.9-4 0.9 3.1 0.9 5.5 1-3.3 0.9 4.5 0.9-2.7 0.9 3.3 1 1.9 0.9 2.6 0.9-2.2 0.9 1.8 1-5.4 0.9 7.1 0.9 5 0.9-10.2 1 14 0.9-11.2 0.9 8.7 0.9-6.6 1 5.7 0.9-1.7 0.9 2.2 0.9 1 1-1.6 0.9 4.3 0.9-3.2 0.9 5.5 1-0.6 0.9-0.3 0.9-0.9 0.9-3.9 1 7 0.9 0.3 0.9 0.9 0.9-2.3 1-3.3 0.9 3.9 0.9-2.4 0.9-0.3 1-3.8 0.9 4.9 0.9-10.4 0.9-3 1 3.7 0.9-4.3 0.9 1.2 0.9-7.9 1-0.8 0.9-9.4 0.9 7.6 0.9-0.4 1-4.1 0.9-0.2 0.9-7 0.9-2.6 1-4.3 0.9-1.1 0.9-0.6 0.9-9.1 1-1.3 0.9-4.1 0.9 3.4 0.9-3.7 1-2.7 0.9-2.3 0.9 5.1 0.9-10.8 1 5.4 0.9-1.8 0.9 2.6 0.9 0.5 1 6.3 0.9 4.3 0.9 7.5 0.9 1.4 1-1 0.9 15.7 0.9 1 0.9 1.1 1-0.3 0.9 12.8 0.9 1.9 0.9 1.9 1-5.8 0.9 16.3 0.9 1 0.9 0.1 1 7.4 0.9-1.1 0.9 2.2 0.9 4.7 1-0.3 0.9-2.5 0.9 7.1 0.9 3.6 1 3 0.9-1.2 0.9-0.5 0.9 5.4 1 2.2 0.9-4.7 0.9 13.9 0.9 3.9 1-1.7 0.9 3.9 0.9-0.5 0.9-0.5 1 4.2 0.9 3.1 0.9-1 0.9 1.2 1 2.9 0.9 2.6 0.9-3.1 0.9 3.8 1 3.9 0.9-4.9 0.9 4.7 0.9 0.9 1-2.8 0.9 5.3 0.9-1.1 0.9 3.3 1 2.4 0.9-4.8 0.9-3 0.9 8 1-5.4 0.9 1 0.9-0.7 0.9 8.2 1-0.6 0.9-6.2 0.9 5.4 0.9 0.4 1-1.6 0.9 0.8 0.9 3.7 0.9-0.5 1-2 0.9 1.4 0.9 3.3 0.9-5.3 1 1.6 0.9 3.6 0.9 1 0.9-3.8 1 9.6 0.9-6.7 0.9 2.2 0.9 0.5 1-4 0.9 1.8 0.9-7.2 0.9 9.1 1-1.4 0.9 5 0.9-6.3 0.9 4.5 1-2 0.9-2.7 0.9 0.4 0.9 2 1-1.9 0.9 4.7 0.9 1.5 0.9 1.7 1-5.4 0.9-3.6 0.9 6.3 0.9-0.8 1 1.1 0.9-2 0.9 6.3 0.9-6.9 1-0.4 0.9 4.8 0.9 1 0.9-0.1 1-3.5 0.9-2.1 0.9 6.6 0.9 1.7 1-3.9 0.9 0 0.9-0.7 0.9 4.1 1-3.2 0.9-0.4 0.9 7.3 0.9-2.9 1-1.8 0.9 0.1 0.9 3.6 0.9 3.7 1-2.6 0.9 1.7 0.9-2.1 0.9-3.9 1 3.8 0.9-2.3 0.9 2.4 0.9-6.6 1 2 0.9-2 0.9-12.9 0.9-3 1-8.1 0.9 8.4 0.9-3.4 0.9 6.7 1 10.2 0.9 3.6 0.9 2.7 0.9-2.8 1 7.4 0.9-4 0.9-3.5 0.9 4.9 1-4.2 0.9 5 0.9 0.9 0.9-2.7 1 2.5 0.9-0.3 0.9 1.3 0.9 2 1-2 0.9-2.3 0.9-0.8 0.9 2.8 1-0.8 0.9 3 0.9-1.7 0.9 0 1 0.1 0.9-0.4 0.9-0.6 0.9-2 1 1.2 0.9 0.7 0.9 4.1 0.9-0.9 1-1.9 0.9 0 0.9-1.4 0.9 5.9 1-4.4 0.9 0.2 0.9 1.1 0.9 1.2 1-2.3 0.9 1 0.9-1.3 0.9 5.7 1-2.4 0.9-5.5 0.9 3.1 0.9 2.4 1-1 0.9 2.4 0.9-6.1 0.9 0.1 1 1.3 0.9-0.6 0.9 1.8 0.9-1.8 1 1.7 0.9-1.6 0.9 3.4 0.9 0.3 1 1.2 0.9 0 0.9 2.6 0.9-6.3 1 0.1 0.9 1.7 0.9-0.4 0.9 1.8 1-0.3 0.9 4.2 0.9-2.6 0.9 3.9 1-2.2 0.9-0.7 0.9 0.2 0.9 1.8 1-4.9 0.9 0.8 0.9 3.4 0.9 1.6 1-1.4 0.9-2.9 0.9 6.1 0.9-5.6 1 2 0.9 0.7 0.9-3 0.9 2.2 1 0.8 0.9-3.4 0.9 6 0.9-6.7 1 5.1 0.9 0 0.9-5.1 0.9-3.6 1 4.4 0.9 4.3 0.9 2.8 0.9-5.1 1 0.6 0.9 1.2 0.9-1 0.9 1.2 1-3.2 0.9 2 0.9 0.2 0.9 4.2 1-5.1 0.9 3.5 0.9-4.6 0.9 1.7 1 4.1 0.9-3.5 0.9 1.8 0.9-3.7 1 0.3 0.9-1.3 0.9 3.8 0.9-2.6 1 3.9 0.9-3.5 0.9 1.1 0.9-1 1 0.6 0.9-2.2 0.9 2.9 0.9-0.4 1-3.3 0.9 3.1 0.9 1 0.9 0.8 1-2 0.9 0.1 0.9-1.4 0.9 1.7 1-1.8 0.9 2 0.9-3.9 0.9 3.5 1-1.5 0.9 0.6 0.9 3.5 0.9-4.9 1 3.1 0.9-2.8 0.9 6.1 0.9-0.3 1 0.3 0.9-0.4 0.9-3 0.9-0.7 1 2 0.9-1.3 0.9 0.7 0.9-3 1 0.1 0.9 0.8 0.9-0.7 0.9-2.2 1 2.2 0.9 4.5 0.9-2.7 0.9 0.2 1-2.3 0.9 0.7 0.9-0.8 0.9 5 1-6.1 0.9 3.2 0.9-2.3 0.9 1 1 2.9 0.9-0.2 0.9-2.9 0.9-1.1 1 4.3 0.9 0.6 0.9 1.9 0.9-2.3 1-0.3 0.9-0.9 0.9-1.8 0.9 2.3 1 1.4 0.9-1.5 0.9-0.5 0.9-0.4 1 0.1 0.9 0.7 0.9-1.4 0.9 1.8 1 1.7 0.9-1.7 0.9-4.1 0.9 5.5 1-6.5 0.9 6.1 0.9-2.4 0.9 4.8 1-3 0.9-3 0.9 5.4 0.9-0.9 1-2 0.9 0.1 0.9 3.7 0.9-0.3 1-3.1 0.9 0.1 0.9-0.8 0.9 1.9 1-1.5 0.9-1.1 0.9 4.9 0.9-4.3 1 0.6 0.9-1 0.9 3.3 0.9-0.6 1-0.1 0.9 1.1 0.9-2.8 0.9 1.6 1 2.4 0.9-2.4 0.9 2.7 0.9 1 1-0.9 0.9-2 0.9-0.1 0.9 0.5 1-1.2 0.9-2.6 0.9 5.9 0.9-2.9 1 0.4 0.9 2.9 0.9-1.3 0.9-1.2 1 0.4 0.9 1.7 0.9-3 0.9 1.1 1-0.7 0.9-1.7 0.9 5.5 0.9-4.2 1 1 0.9 2.6 0.9-1.4 0.9 0.7 1 1.5 0.9-3.6 0.9 3 0.9 2.4 1-5.2 0.9 2.5 0.9-1.5 0.9 0.4 1 1 0.9 0.2 0.9 4.1 0.9-3.9 1 1.4 0.9-2.9 0.9 2.4 0.9-0.1 1-1.4 0.9 2.4 0.9-0.7 0.9-0.4 1-1.5 0.9 3.4 0.9-3.9 0.9 1.7 1 0.7 0.9-1.5 0.9-1.1 0.9-0.2 1 4 0.9-4.2 0.9 2.4 0.9-2.2 1 4.3 0.9-1.6 0.9 0 0.9 2.1 1-1.4 0.9-2.4 0.9-0.3 0.9 0.9 1 0.7 0.9 1.3 0.9-4.4 0.9 6.1 1-0.2 0.9-0.7 0.9-1.7 0.9 1.2 1-2.1 0.9 4.1 0.9-4.2 0.9-1.6 1 1.6 0.9 2.1 0.9 0.6 0.9-3 1 5 0.9-1.6 0.9 1.6 0.9-2.7 1-3.5 0.9 4 0.9-2.6 0.9 3.8 1-0.9 0.9 0 0.9-2.8 0.9 3.3 1-0.3 0.9-1.2 0.9-2.7 0.9 2.6 1-3 0.9 2.4 0.9 1.1 0.9-2.4 1 3 0.9 0.6 0.9-1.8 0.9 2.9 1-0.7 0.9-0.6 0.9-1.5 0.9-1.8 1-0.2 0.9 2.4 0.9-0.8 0.9 0.9 1 2 0.9-3.2 0.9 2 0.9-2.6 1 2.2 0.9 0.8 0.9-2.3 0.9 1.5 1 1.3 0.9-4.1 0.9 1.2 0.9 0 1 0.4 0.9 1.1 0.9 3.9 0.9-3.9 1-0.2 0.9-1.5 0.9 3 0.9-3.2 1 0.8 0.9-2.6 0.9 3.9 0.9-1.3 1-0.5 0.9-0.6 0.9-1.2 0.9 1.4 1 3.3 0.9-5.4 0.9 6.4 0.9-4.7 1-1.2 0.9 3.5 0.9-1.1 0.9 0 1 1.8 0.9-2.6 0.9 2.3 0.9-2.3 1-0.5 0.9-0.9 0.9-0.5 0.9 1.7 1-0.2 0.9 1.3 0.9-0.3 0.9-1.7 1 0.2 0.9 0.5 0.9 0.8 0.9-1.8 1 3.8 0.9-1.1 0.9-1.4 0.9-1.6 1 4.2 0.9-0.3 0.9 0.2 0.9-3.4 1-0.2 0.9-1.3 0.9-1.3 0.9 6.1 1-1.8 0.9 0.6 0.9 1 0.9-2 1 1 0.9-1.3 0.9 0.9 0.9 2 1-3.7 0.9 0 0.9 1.8 0.9 3.1 1 0.3 0.9-1.7 0.9-3.2 0.9-0.5 1 1 0.9 0 0.9 4.7 0.9-5.3 1 1.9 0.9-0.7 0.9 1.2 0.9 1.8 1-4.9 0.9 0.6 0.9 2.6 0.9 0.9 1-1.7 0.9-2.7 0.9 0.5 0.9 0.9 1-1.6 0.9 1 0.9 2.3 0.9-2.9 1 1.2 0.9 1.4 0.9-3.6 0.9 1.2 1 3.4 0.9-4.1 0.9 1 0.9 0.9 1 0.1 0.9 1 0.9 0.7 0.9-3.3 1-0.6 0.9 1.4 0.9-1.3 0.9 0.9 1-0.3 0.9-2 0.9-0.3 0.9-2.3 1 3.1 0.9-2.2 0.9 0.4 0.9-1.6 1-2.9 0.9 0.7 0.9 1.4 0.9-1.7 1-0.9 0.9-2 0.9-0.3 0.9-1.7 1-2 0.9-2.4 0.9 1.5 0.9-3.2 1-0.8 0.9-2.6 0.9 1 0.9-0.8 1 0.8 0.9-1.7 0.9 3.7 0.9 4.1 1-3.3 0.9 4.3 0.9 4 0.9-4.8 1 2.4 0.9 0.8 0.9 0.7 0.9 2.5 1-1.4 0.9 3.1 0.9 1.7 0.9 0.2 1 4.7 0.9-4.2 0.9 4.4 0.9-3.1 1 1.5 0.9 0 0.9 1.9 0.9-4.3 1 7.1 0.9-3.3 0.9 1.5 0.9 1.4 1-5.3 0.9 2.3 0.9-3.9 0.9 3 1 0.6 0.9-0.1 0.9 3.3 0.9 0.1 1-4.8 0.9 1.1 0.9 2.8 0.9-1.5 1-0.1 0.9-1.9 0.9 1.6 0.9 1.9 1-2.7 0.9 2.4 0.9-2 0.9 2.1 1 4.5 0.9-8.4 0.9 4.5 0.9-3.4 1 0.6 0.9 2.1 0.9 1.1 0.9-5.5 1 3 0.9-1.9 0.9 1.6 0.9-1.1 1 1.3 0.9 2.7 0.9-1 0.9-2 1 2.7 0.9-1.5 0.9-0.4 0.9-2.2 1-1 0.9 6.6 0.9-4.5 0.9-2.5 1 5.6 0.9-0.5 0.9-4 0.9 1.7 1 1.3 0.9-1.4 0.9-1 0.9 1.1 1-0.6 0.9 0.3 0.9-0.4 0.9 0.3 1-0.4 0.9 1 0.9-2.4 0.9 2.5 1 0.4 0.9 1.6 0.9-1.3 0.9-1.7 1 0.6 0.9-1.5 0.9 3.1 0.9-1 1 2.4 0.9-3.2 0.9-2.3 0.9 0.8 1 1.5 0.9-1.7 0.9 0.3 0.9 2.1 1 0.1 0.9-0.3 0.9-2.6 0.9-0.4 1 0.3 0.9 1.1 0.9-4.1 0.9 3.7 1-1.4 0.9 0.5 0.9-1.8 0.9 5 1-4.2 0.9 1.2 0.9-0.4 0.9 1.7 1-0.7 0.9-3.8 0.9 0.5 0.9 4.2 1-3.3 0.9 1.2 0.9-3.1 0.9 1.1 1-0.8 0.9 1.5 0.9-0.4 0.9 1.2 1 1.5 0.9-1.9 0.9-3.7 0.9-0.4 1 4.3 0.9-0.2 0.9-0.4 0.9 0 1 0.6 0.9-1.1 0.9-2.9 0.9-0.3 1-2.2 0.9 3.6 0.9 3.8 0.9-3.5 1 0.8 0.9-1.7 0.9 0.6 0.9-3.7 1 3.5 0.9-2 0.9-3.9 0.9 3.5 1 3.3 0.9-5.5 0.9 0.7 0.9-0.3 1-0.4 0.9 3.4 0.9 0 0.9-2.5 1 3.9 0.9-1.8 0.9-4.2 0.9 5.1 1-3.4 0.9-1.5 0.9 2.4 0.9 0.8 1-3.7 0.9 5.7 0.9-6.4 0.9 5.4 1-1.9 0.9 2.4 0.9 0 0.9-4.3 1 2 0.9-0.9 0.9 3.9 0.9-2 1 2 0.9-2.5 0.9-0.9 0.9 0 1 0.1 0.9 2.5"/>
<path stroke="#ff0000" stroke-dasharray="0.2 10.17" d="M257.5 3393.2l0.9-0.5 0.9 0.3 1-1.9 0.9-5.5 0.9 8.2 0.9-6.9 1-0.8 0.9 4.3 0.9 1 0.9-3.2 1-2 0.9-2.5 0.9 3.4 0.9-1.9 1 5.5 0.9 1.1 0.9 2.3 0.9-1.5 1-2.2 0.9-1.5 0.9 4.1 0.9-5.7 1 2.4 0.9 1.5 0.9 0.3 0.9-7.5 1 5 0.9 2.9 0.9 0.1 0.9-7.5 1 6.5 0.9-4.7 0.9-0.7 0.9 10.1 1-9.9 0.9 4.2 0.9 2.4 0.9-1.5 1-2.9 0.9 0.5 0.9-0.2 0.9 3.1 1-5.4 0.9-0.6 0.9-0.9 0.9 2.3 1-2.4 0.9-0.5 0.9 3.7 0.9-0.5 1 0.8 0.9 0.1 0.9-0.8 0.9 6.9 1-3.7 0.9-2.2 0.9 6.9 0.9-1.7 1-8.2 0.9 7.1 0.9-1.5 0.9-2.3 1 2.3 0.9 1 0.9-0.9 0.9-0.2 1 0.4 0.9-2 0.9-3.9 0.9 3.4 1-3.4 0.9 2.4 0.9-0.2 0.9 0.6 1 2.4 0.9-1.9 0.9 0.3 0.9 3.8 1-5 0.9 0.5 0.9 0.6 0.9 2.5 1 5.5 0.9-10.9 0.9 4.1 0.9 5.6 1-7.5 0.9 3.6 0.9-3.7 0.9 2.1 1-3.3 0.9 2.4 0.9-0.1 0.9 0.3 1-2.8 0.9 6.7 0.9-6.6 0.9 1.3 1 3.4 0.9-1.5 0.9 1.2 0.9-1.4 1-2.3 0.9 4.3 0.9-3.8 0.9-0.5 1 0.8 0.9-2.5 0.9 4.4 0.9-2.1 1-4.8 0.9 6.6 0.9 0.4 0.9-0.3 1-1.6 0.9 3.2 0.9-1 0.9 4.1 1-1.9 0.9-0.1 0.9 0.4 0.9-1.9 1-3.1 0.9 2.9 0.9 2.5 0.9-4.2 1 0.2 0.9 4.2 0.9-4.1 0.9 3.3 1-1.2 0.9 0.3 0.9-4.2 0.9 4.4 1-1.4 0.9-1.3 0.9-2.3 0.9-0.4 1 5.9 0.9-5.9 0.9 2.4 0.9-2.4 1 0.4 0.9 4.2 0.9-1.5 0.9 0.9 1-1.8 0.9-3.5 0.9 4.3 0.9 1.9 1-8.5 0.9 9.4 0.9-2.6 0.9 0 1 3.3 0.9-5.5 0.9-0.7 0.9 3 1-0.3 0.9 0.5 0.9 4.3 0.9-5.4 1 4 0.9-0.8 0.9-3.6 0.9-1.5 1 4.8 0.9-5.4 0.9-1.7 0.9 4.3 1 0.6 0.9-0.7 0.9 1.6 0.9 1.2 1-4.1 0.9-0.2 0.9 3.2 0.9-0.2 1 0.5 0.9 0.2 0.9 0.7 0.9 1.4 1-6.5 0.9 3.4 0.9-1.2 0.9-4.7 1 6.1 0.9-2.8 0.9 5.1 0.9-2 1-3.5 0.9 2.5 0.9 3.1 0.9 0.3 1-5.1 0.9 3.4 0.9-4.4 0.9 1.1 1 1.6 0.9-0.8 0.9-2.2 0.9 1.9 1 2.6 0.9-3.5 0.9 1.8 0.9-0.4 1-2.2 0.9 0.6 0.9-1.9 0.9 3.2 1 0.7 0.9-0.4 0.9-2 0.9 3.1 1-1.2 0.9 1.2 0.9-0.3 0.9-1.7 1-7 0.9 7.4 0.9-1.8 0.9 0.4 1 0.6 0.9-0.6 0.9-5.3 0.9 5.9 1-5.1 0.9 2.4 0.9 4 0.9-0.7 1-0.6 0.9 1.6 0.9-6.1 0.9 1.9 1-0.5 0.9 4.1 0.9-4.1 0.9 2.6 1-8.2 0.9 6.7 0.9-1.1 0.9-0.5 1 2.3 0.9-0.3 0.9-0.1 0.9-3.6 1 4.2 0.9-1.7 0.9-1.4 0.9 1.9 1 2.4 0.9-0.6 0.9-2.3 0.9 1.4 1-5.5 0.9 2.4 0.9-0.1 0.9 2.5 1-4.4 0.9 2.2 0.9 1.4 0.9-1.1 1-8.7 0.9 8.1 0.9 0.5 0.9-6 1 0.9 0.9 2.6 0.9-5 0.9 7.8 1-3.1 0.9 3 0.9-8.8 0.9 3.5 1-7.6 0.9 5.8 0.9-0.4 0.9 4.4 1-0.2 0.9-2.2 0.9-4.4 0.9 5.4 1 3.7 0.9-9.7 0.9-0.5 0.9 5.1 1-4.3 0.9-2.2 0.9-0.4 0.9 7.8 1-5.1 0.9 2.3 0.9-5.4 0.9 2.3 1 3.7 0.9-4.2 0.9-1.7 0.9 6.2 1-0.8 0.9-2.2 0.9-1.4 0.9 0.6 1 3.6 0.9-1 0.9-4.9 0.9-1.7 1 3.8 0.9-3.5 0.9-5.5 0.9 6.2 1 0.4 0.9 0.6 0.9-3.9 0.9 0.4 1-0.3 0.9 1.7 0.9-2.7 0.9-0.3 1 1.4 0.9-4.3 0.9 8.2 0.9-7.4 1 2.3 0.9-3.3 0.9-3.7 0.9 5.5 1 0.5 0.9-0.9 0.9-4.7 0.9-0.9 1 4 0.9-1.8 0.9-4 0.9 3.6 1 6.1 0.9-2.5 0.9-1.4 0.9-3.1 1 2.6 0.9-6.5 0.9 5.5 0.9-6.8 1 6.7 0.9-6.8 0.9 3.3 0.9-4.3 1-2.1 0.9 0.3 0.9 1.8 0.9 5.3 1-0.2 0.9 7.1 0.9-15.2 0.9 0.3 1 0.3 0.9 6.5 0.9-12.8 0.9 10.5 1-5.4 0.9 7.5 0.9-3.6 0.9-6.3 1 0.2 0.9 6.3 0.9-3.6 0.9-4.3 1 9 0.9-8.7 0.9 6.9 0.9-7.4 1 2.4 0.9-4.4 0.9 4.4 0.9-1 1-0.4 0.9 1.5 0.9-2.6 0.9 1.9 1-1.9 0.9-4.4 0.9 2.8 0.9-5 1 0.7 0.9-0.9 0.9 5.8 0.9-5.5 1-3.8 0.9 1.2 0.9-1.5 0.9-1.5 1 9.2 0.9-7.2 0.9-0.5 0.9 1.8 1 3 0.9-5.2 0.9 0.4 0.9-7.3 1 1.5 0.9 4.9 0.9 1.5 0.9-1.2 1-3.2 0.9 1.6 0.9-9.2 0.9 9.6 1-4.2 0.9-1.3 0.9-1.4 0.9 3.7 1-2.8 0.9-1.9 0.9-1.1 0.9 2.4 1-1.5 0.9-2.2 0.9-6 0.9 9.4 1-6.7 0.9-3.4 0.9 9 0.9-9.6 1-0.4 0.9 3.7 0.9-3.4 0.9-2.2 1 4.7 0.9-1.7 0.9 3.7 0.9-1.8 1-2.9 0.9 0 0.9-5.9 0.9 5.3 1 2.7 0.9-7.2 0.9-0.6 0.9 1.1 1 1.3 0.9 1.5 0.9-0.9 0.9-7.4 1 1.8 0.9 1.7 0.9-1.4 0.9 1.9 1 1.5 0.9-1.9 0.9-1.8 0.9 4.7 1-1 0.9 0.5 0.9-4.4 0.9-3.8 1 6 0.9-0.9 0.9 1.2 0.9-3.9 1 2 0.9-0.8 0.9 0.1 0.9-11 1 7.2 0.9 1.6 0.9-0.9 0.9-4.5 1-0.6 0.9 2 0.9 7 0.9-9.7 1-0.5 0.9 0.7 0.9 0.7 0.9 1.1 1-3.9 0.9 4.6 0.9-4.5 0.9 4.6 1-0.5 0.9 0 0.9 0.1 0.9-0.4 1-4.2 0.9-2.8 0.9 7.1 0.9 0.8 1-7.5 0.9 4.9 0.9-2.2 0.9 0.2 1-2.6 0.9 5.5 0.9-6.7 0.9 0.9 1 9.3 0.9-6.7 0.9 0.5 0.9-2.7 1 1.2 0.9 1.9 0.9-1.6 0.9-2.5 1 0.7 0.9 0.3 0.9-7.9 0.9 5 1 4.9 0.9-4.3 0.9-1.1 0.9 3.8 1-4 0.9 2.6 0.9 3.9 0.9-8.8 1-1.5 0.9-0.6 0.9 1.7 0.9 0.7 1-3.4 0.9-1.5 0.9-2.4 0.9-2.3 1 0.7 0.9 3.4 0.9-2.9 0.9 2.7 1-8.5 0.9-1.5 0.9-3.9 0.9 0.1 1-5.5 0.9 5.2 0.9-5.2 0.9 0.1 1-1.6 0.9 3.5 0.9-4.8 0.9 2.4 1-6.9 0.9-0.7 0.9-4.5 0.9 4.1 1-6.4 0.9-3.4 0.9 3.8 0.9-15.6 1 0.3 0.9 0.3 0.9-12.7 0.9-3 1 6.9 0.9-12.8 0.9-5.5 0.9-9.5 1-5.2 0.9-11.7 0.9-11.9 0.9-4.3 1-22.7 0.9-20.8 0.9-15.1 0.9-25.6 1-27.3 0.9-25.8 0.9-34.6 0.9-39.1 1-40.8 0.9-55.9 0.9-43.3 0.9-48.5 1-44 0.9-33.8 0.9-7.8 0.9 0.4 1 16.1 0.9 33.9 0.9 51.2 0.9 51.6 1 45.2 0.9 50.3 0.9 49.6 0.9 41.7 1 38.2 0.9 34.3 0.9 27.6 0.9 21.5 1 22.8 0.9 15.4 0.9 24 0.9 15.9 1 5.7 0.9 16.3 0.9 8.2 0.9 8 1 12.3 0.9 8.3 0.9 0.8 0.9 15.5 1-5.3 0.9 12.6 0.9-3.9 0.9 5.5 1 3.9 0.9 2.4 0.9 4 0.9 7.4 1-4.6 0.9 4.4 0.9 0.9 0.9 3.8 1 2.2 0.9-2.2 0.9 1.4 0.9 3.6 1 5.9 0.9 0.2 0.9 1.3 0.9-5.9 1 2.8 0.9 2.2 0.9 1.3 0.9 2.6 1-4.4 0.9 6.5 0.9-0.1 0.9-5 1 1.1 0.9 2.6 0.9 4.2 0.9 0.3 1-6.5 0.9 1.8 0.9-3.4 0.9 6.5 1-1.1 0.9 2.9 0.9-8.2 0.9 10.8 1-7.2 0.9-3.2 0.9 8.3 0.9 1.6 1-1.3 0.9 1.4 0.9-5.7 0.9 1.4 1 2.6 0.9-2 0.9-5.8 0.9 5.6 1 0.4 0.9-7.6 0.9 9 0.9-1.6 1-6.4 0.9 4.4 0.9 6 0.9-3.7 1 4 0.9-5.6 0.9-3.7 0.9 5.7 1-11 0.9-0.1 0.9 0.4 0.9 3.4 1-4.6 0.9-4.1 0.9-4.1 0.9-4 1 8 0.9-8 0.9-2.3 0.9-6.6 1-5.9 0.9-11.1 0.9 3.3 0.9-8 1-2.5 0.9-4.2 0.9-9.1 0.9 6.8 1-7.9 0.9-6.3 0.9-5.8 0.9 11.8 1 1 0.9 1.3 0.9-2 0.9 0 1 1.8 0.9-1.3 0.9 7.2 0.9 0.9 1 9.3 0.9-0.1 0.9 1.5 0.9 10.2 1-5 0.9 0.5 0.9 5.4 0.9 2.4 1 3.4 0.9 6.4 0.9-1.4 0.9 4.5 1 0.6 0.9 3 0.9 3 0.9 7.8 1-0.8 0.9-2.6 0.9 5.7 0.9 6.8 1 4.3 0.9-3 0.9 5.5 0.9 8 1-2 0.9-4.7 0.9 13 0.9-3.5 1 4.7 0.9-0.3 0.9 3.1 0.9 3.4 1 7.2 0.9-5.7 0.9 0.9 0.9 2.2 1 4.5 0.9 0.3 0.9-6.9 0.9 11.1 1-1.3 0.9 3.6 0.9-2 0.9-0.4 1-1.8 0.9 3.6 0.9 1.4 0.9-0.2 1 0.2 0.9 2.3 0.9 0.6 0.9-2.7 1 5.7 0.9-1.1 0.9 2.6 0.9-0.6 1-4.8 0.9 6.1 0.9-2.8 0.9-3.8 1 4.4 0.9 2 0.9 1.8 0.9 4.8 1-3.8 0.9 0.2 0.9-4.6 0.9 0.9 1 5.2 0.9-4.6 0.9 3.4 0.9-6 1 1.1 0.9 2.1 0.9 2.8 0.9-5.2 1 2.4 0.9-0.6 0.9 1.7 0.9 2 1-2.4 0.9 4.1 0.9-3.8 0.9 1.6 1 4.6 0.9-5.1 0.9 1.5 0.9 0.9 1-0.5 0.9-2 0.9 4.8 0.9 0 1-4.2 0.9 1.5 0.9 4.7 0.9-4.3 1 4.6 0.9-5.6 0.9 1.2 0.9-0.4 1 5 0.9-1.6 0.9-3.7 0.9 5.4 1-4.3 0.9 1.9 0.9-0.7 0.9 2.4 1-3.2 0.9 0.6 0.9-0.9 0.9-3.7 1 6.4 0.9-0.6 0.9 2.8 0.9-6.4 1 5 0.9-2.5 0.9 4.4 0.9-1.9 1-1.9 0.9 0.3 0.9 1.7 0.9-2.7 1 1.7 0.9-2.3 0.9 2.7 0.9-2.6 1 1.7 0.9-5.6 0.9 0.6 0.9-3.8 1-1.8 0.9-4 0.9 6.1 0.9 5 1-0.9 0.9 6.7 0.9-2.7 0.9-0.3 1 7.8 0.9-5.3 0.9 1.2 0.9 1.1 1 0 0.9 3.6 0.9-3.4 0.9 0.8 1 3.8 0.9-2.6 0.9 2.3 0.9-2.6 1 2.2 0.9-2 0.9 3.4 0.9-1.7 1-0.2 0.9-0.3 0.9-2.7 0.9-2 1 7.8 0.9-4.8 0.9 2.4 0.9 0.1 1 0.1 0.9-0.2 0.9 0 0.9-1.8 1-0.8 0.9 1.9 0.9 0.8 0.9-1 1 0.4 0.9-2.8 0.9 5.8 0.9 0.9 1-2.1 0.9-1.1 0.9 1.2 0.9-0.8 1 5.7 0.9-3.5 0.9-0.2 0.9 1.5 1-1.4 0.9-0.6 0.9-1.2 0.9 2.7 1 1.6 0.9-4 0.9-3 0.9 3.6 1 0.1 0.9 2.3 0.9-2.3 0.9-2.6 1 7 0.9-5.8 0.9 5.8 0.9-6.6 1 1.3 0.9 2.3 0.9-1.1 0.9-2.7 1 5.4 0.9-4.4 0.9 1.2 0.9 1.2 1-2.8 0.9 6 0.9-2.9 0.9 2.1 1-2.1 0.9-1.1 0.9 4.1 0.9-3.6 1 0 0.9 1.7 0.9-0.9 0.9-2.3 1 1.5 0.9-2.5 0.9 5.2 0.9 0.4 1-4.7 0.9 4.8 0.9-4.9 0.9 2.4 1-1.3 0.9 1.9 0.9-2.6 0.9-0.6 1 0.2 0.9 1.4 0.9 3.4 0.9-4.4 1 1.6 0.9-2.3 0.9 5.4 0.9-3.8 1 1.7 0.9-0.8 0.9-1.8 0.9 0.1 1-1.2 0.9 1.8 0.9-0.1 0.9 0.4 1 2.8 0.9-4.3 0.9 3.6 0.9-0.6 1-1.9 0.9 2.1 0.9-0.4 0.9 3.9 1-3.2 0.9 0.5 0.9-1 0.9-2.2 1 1.5 0.9-0.3 0.9-0.5 0.9-1.8 1-0.2 0.9 1.3 0.9 1.2 0.9-2.2 1 2.3 0.9-0.3 0.9-1 0.9 1.5 1 1.2 0.9 0.2 0.9-1.8 0.9-1.1 1-0.8 0.9 2.7 0.9-2 0.9 0.3 1 0.9 0.9-5.7 0.9 6.2 0.9 0.2 1-1.9 0.9-2.8 0.9 3.7 0.9-3.4 1 4.6 0.9-1.3 0.9-0.4 0.9 0.1 1-0.6 0.9 0.3 0.9 0.1 0.9 1.5 1-2.9 0.9 0.9 0.9-0.4 0.9-1.9 1 1.3 0.9 0.5 0.9-2.3 0.9 3.6 1 2.2 0.9-2 0.9 1.3 0.9-1.9 1 0 0.9-0.3 0.9-0.7 0.9-0.6 1 0.4 0.9 0.6 0.9 0.9 0.9 0.4 1-0.9 0.9 0.5 0.9 1.6 0.9-1.2 1-2.1 0.9 1.3 0.9 1.7 0.9-2 1-0.7 0.9 3.3 0.9-5.1 0.9 1 1 2.5 0.9-2.3 0.9 1.6 0.9-0.6 1 2.8 0.9-0.7 0.9-0.4 0.9-0.2 1 0.8 0.9 2.1 0.9-0.8 0.9-2.8 1 1.6 0.9-3.7 0.9 0.6 0.9 3 1-0.7 0.9 3.8 0.9-4.6 0.9-0.7 1 3.5 0.9 0.1 0.9-0.4 0.9-2.3 1-0.5 0.9 3.7 0.9-1 0.9-1.6 1 0.6 0.9 1 0.9-1.4 0.9 2.6 1 1.1 0.9-3.7 0.9-0.2 0.9-1 1 3 0.9 1 0.9-1.6 0.9 0.3 1-0.2 0.9 0.3 0.9-2.4 0.9 1.9 1-1.8 0.9 3.7 0.9 0.6 0.9-3.3 1 3.8 0.9-0.1 0.9 0.1 0.9 1.3 1-4 0.9-2 0.9 2 0.9-0.4 1 2.1 0.9 1.1 0.9-2.5 0.9 3 1 0.7 0.9-1 0.9-3.3 0.9 1.3 1 1.1 0.9 1.5 0.9-0.1 0.9-2.1 1 0.7 0.9 1.3 0.9-3.2 0.9 3.1 1 1.8 0.9-2.3 0.9-2.2 0.9 0.7 1-0.3 0.9 3 0.9-2 0.9 0.6 1 0.7 0.9 1.6 0.9-4 0.9 2 1 1.2 0.9-2.2 0.9-2.9 0.9 6.9 1-2.9 0.9-2.6 0.9 0 0.9 4.9 1-0.8 0.9 2.6 0.9-3.3 0.9 2.7 1-0.8 0.9-4.1 0.9 4.5 0.9 1 1-3 0.9-0.3 0.9 0 0.9-1.6 1 3.2 0.9-0.9 0.9-1.3 0.9 1.8 1-3 0.9 0.7 0.9 1.6 0.9 0.4 1-0.4 0.9-0.4 0.9 3.8 0.9-1.1 1-0.8 0.9 0.2 0.9-0.4 0.9 0 1-1.1 0.9 0.7 0.9-1.1 0.9 0.1 1 0.6 0.9 0.6 0.9 0.6 0.9-2.5 1 2 0.9-1.1 0.9-0.9 0.9 1 1 3 0.9-1.4 0.9-4.5 0.9 6 1-4.8 0.9 3.9 0.9-1.9 0.9-1.7 1 3.5 0.9-3.3 0.9 5.3 0.9-3.4 1 0.8 0.9-1.8 0.9-0.6 0.9-0.7 1 0.1 0.9 2.6 0.9 0.8 0.9-2.2 1 1.6 0.9 2.6 0.9 0.1 0.9-2.9 1 0 0.9-0.8 0.9-0.3 0.9 3 1-3.1 0.9 2.4 0.9-2.7 0.9 0.8 1-2.7 0.9 2 0.9 1.5 0.9-0.5 1-0.5 0.9-0.9 0.9-0.4 0.9 2.7 1 0.2 0.9-3 0.9 1.2 0.9-1.8 1 1 0.9-2.1 0.9 1.7 0.9 3.2 1-1.4 0.9-1.7 0.9 2.7 0.9-1.8 1-1.2 0.9-0.7 0.9 0.3 0.9 4 1-4.5 0.9 3.4 0.9-1.6 0.9 1.5 1-3 0.9 1.6 0.9-0.5 0.9-0.4 1 0.8 0.9 1 0.9-3.5 0.9 1.3 1-0.3 0.9 4.3 0.9 0.4 0.9-6.3 1 1.6 0.9 4.2 0.9-3.7 0.9 0.6 1 1.8 0.9-1 0.9-3.8 0.9 4.3 1-2.1 0.9 2.2 0.9 1.2 0.9-6.7 1 2.9 0.9 2 0.9-0.2 0.9-0.2 1 1.3 0.9-2.5 0.9-0.3 0.9 1.7 1-0.6 0.9 2.1 0.9-2.6 0.9 3.7 1-3.2 0.9-2.6 0.9 2.9 0.9-5.1 1 6.5 0.9-1.5 0.9-0.4 0.9-1.6 1-0.5 0.9 1.7 0.9 2.9 0.9-5.1 1 1.3 0.9-0.3 0.9 4.1 0.9-3.6 1 1.1 0.9-1.9 0.9-1.4 0.9 4.4 1-1.3 0.9-0.3 0.9 1.4 0.9-2.3 1 0 0.9 2.3 0.9-0.1 0.9-1.9 1 3.4 0.9-3.7 0.9-1 0.9-0.2 1 3 0.9-4.9 0.9-0.7 0.9 5.3 1-5.2 0.9 0.4 0.9 0.3 0.9 2.5 1-3.7 0.9 3.3 0.9-2.8 0.9-2.2 1-0.2 0.9 0.6 0.9-2.3 0.9-0.1 1-1.9 0.9 0.9 0.9-0.3 0.9-2.5 1 0.3 0.9-6.3 0.9-4.4 0.9 3.2 1-1.9 0.9 4.4 0.9-2.5 0.9 2.1 1-3.9 0.9 1.6 0.9 3.2 0.9-4.6 1 4.2 0.9-0.7 0.9 0.9 0.9 0.1 1 1.6 0.9 3.8 0.9 1.7 0.9 2 1 1.8 0.9-4.4 0.9 5.3 0.9-2.9 1 5 0.9 0.3 0.9-2.4 0.9 2.5 1 1.6 0.9-3.9 0.9 5.4 0.9-0.6 1-2.3 0.9-1.2 0.9 2.7 0.9 1.6 1-5.1 0.9 3.9 0.9 1.1 0.9-1.2 1-1.7 0.9 6.8 0.9-2.9 0.9-3 1 0.3 0.9 0.9 0.9 0.3 0.9-1.2 1-0.8 0.9 2.8 0.9-0.2 0.9-2 1 1.8 0.9 1.7 0.9-1.9 0.9 1.5 1-2.9 0.9-0.4 0.9 2.5 0.9-0.9 1-0.8 0.9-1.5 0.9 0.4 0.9 1.2 1-0.2 0.9-1.7 0.9 1.1 0.9 0.2 1 2.6 0.9-2.1 0.9-0.5 0.9 0.6 1 1.9 0.9 1.2 0.9-4.1 0.9 0 1 0.8 0.9 1.7 0.9-0.7 0.9-0.7 1-1.4 0.9 1 0.9 1.5 0.9-0.5 1 1.1 0.9-5.1 0.9 4.2 0.9-3.7 1 2 0.9-2.7 0.9 4.9 0.9-3.1 1 2.7 0.9-0.1 0.9-0.2 0.9 0.9 1-0.7 0.9-1.1 0.9-3.3 0.9 3.5 1 1.8 0.9-3.7 0.9-1.4 0.9 6.7 1-5.2 0.9 3.1 0.9 0.8 0.9-4.4 1-1.5 0.9-0.8 0.9 3 0.9 0.6 1-1 0.9-0.9 0.9-0.6 0.9-1 1 1.5 0.9-0.4 0.9 0.5 0.9 1.6 1-2.2 0.9-2 0.9 1.1 0.9 5.1 1-6.8 0.9 4.2 0.9-5.8 0.9 0.1 1 2.5 0.9-2.3 0.9 4.8 0.9-1.3 1 0.8 0.9-2.1 0.9 0.5 0.9-0.5 1 0.1 0.9-2.7 0.9 2.6 0.9 0.7 1-1.2 0.9-0.8 0.9-0.1 0.9 2.7 1-1.2 0.9-0.4 0.9 1 0.9 1.2 1-2 0.9 3.7 0.9-4.7 0.9 1.7 1-2.1 0.9-0.6 0.9-4.3 0.9-0.5 1-0.8 0.9 4 0.9 0.9 0.9-3 1 3.6 0.9-2.2 0.9 1.2 0.9-1.8 1-1.8 0.9 3.6 0.9-3 0.9 0 1-0.2 0.9-0.7 0.9 1.8 0.9-0.7 1 0.5 0.9 2.6 0.9-6.4 0.9 1.6 1 0.1 0.9 2.8 0.9 2.3 0.9-4.2 1 2.5 0.9-5.7 0.9 0.1 0.9 4.8 1-3.9 0.9 1.4 0.9 1.7 0.9 3.2 1-4.5 0.9-0.5 0.9 0 0.9 3.1 1-1.2 0.9 0.1 0.9 0.2 0.9 1.4 1-3.3 0.9 1.2"/>
<path stroke="#0000ff" stroke-dasharray="25 16 4 16" d="M257.5 3387.9l0.9 0.8 0.9 0.6 1 5.4 0.9-6.6 0.9 6.2 0.9-7.3 1 0.7 0.9-0.5 0.9 0 0.9 1.3 1 2 0.9-0.6 0.9-4.3 0.9 5 1-0.9 0.9 1.2 0.9-0.5 0.9-0.5 1-1.3 0.9 1.3 0.9 0.1 0.9 0.7 1-1.7 0.9 3.4 0.9-3.4 0.9-3 1 5 0.9-1.7 0.9-6.9 0.9 9.2 1 1.5 0.9-2.9 0.9-5.3 0.9-0.6 1 7.8 0.9-4.3 0.9 1.4 0.9 1.4 1 3.2 0.9-7.1 0.9 4.5 0.9-2.7 1 0.5 0.9-4.3 0.9 1.7 0.9 5.5 1-2.1 0.9-3.1 0.9 5.7 0.9-2.3 1-1.5 0.9 4.4 0.9-0.9 0.9 1.2 1-4.8 0.9 2 0.9-3.5 0.9 1.9 1-1.1 0.9 1.6 0.9-2 0.9 2.1 1 2.1 0.9-5.2 0.9 0.5 0.9-3.1 1 5.8 0.9 1.1 0.9 2 0.9 5.8 1-6.1 0.9-4.3 0.9 3.3 0.9 4.1 1-7.6 0.9 2.8 0.9-0.5 0.9 0.2 1-0.7 0.9-1.5 0.9 5.3 0.9-3.6 1 0.7 0.9-3.9 0.9 5.2 0.9-6.4 1 2.5 0.9-2.5 0.9 5.6 0.9-3.6 1 1.1 0.9 4.4 0.9-2.9 0.9 0.4 1 1.3 0.9-0.5 0.9 1.6 0.9-2.3 1-1.9 0.9 2.6 0.9 1.9 0.9-6.2 1 3.4 0.9-1 0.9 0.6 0.9 0.8 1-2.8 0.9 2.7 0.9-1.3 0.9 3.5 1 0.5 0.9-3 0.9-5.5 0.9 4.2 1-4.2 0.9 3.5 0.9 0 0.9 2.5 1-1.4 0.9-4.3 0.9 1.5 0.9 4.3 1-0.4 0.9-4.3 0.9 4.4 0.9-3.4 1 4.4 0.9-3.7 0.9-2.2 0.9 1.7 1 1.4 0.9 0.3 0.9 0.5 0.9-0.2 1-2.8 0.9 0 0.9 1.8 0.9 4 1-1.8 0.9-1.9 0.9 0.6 0.9 3.3 1-4.8 0.9-4.6 0.9 9.1 0.9-3.1 1-3.7 0.9 4.9 0.9-0.1 0.9-1.3 1-1 0.9 2.4 0.9-3.4 0.9 6.9 1-6.1 0.9 0.7 0.9 1.2 0.9-1.3 1 0.8 0.9-3.1 0.9 4.3 0.9-1 1 3.2 0.9-0.7 0.9-2.1 0.9 3.1 1-1.7 0.9 1.2 0.9-2 0.9-1.5 1-2 0.9 6.9 0.9-4.2 0.9-2.6 1-1.2 0.9-0.1 0.9 6.7 0.9-2.2 1-2.6 0.9-0.9 0.9 1.5 0.9 0.1 1 0 0.9 2.4 0.9-2.3 0.9-1.6 1 2.8 0.9-3.7 0.9 9.6 0.9-6.1 1-4.9 0.9 2 0.9-1.4 0.9 3.1 1 3.2 0.9-1.7 0.9-4.9 0.9 8 1-2.1 0.9 1.8 0.9-2.9 0.9-0.3 1-2.5 0.9 3.4 0.9-6.2 0.9 2.5 1 2.7 0.9 1.2 0.9 1.2 0.9-4 1-4.6 0.9 5.2 0.9 2 0.9-2.4 1 1 0.9 0.9 0.9 2.3 0.9-4.5 1-3.8 0.9 0.5 0.9 0.5 0.9 1.8 1-0.7 0.9-1.4 0.9 2.5 0.9-0.9 1 1.5 0.9-3.8 0.9 4.9 0.9-4 1-0.5 0.9-0.1 0.9 0.2 0.9 2.8 1 0.1 0.9-0.5 0.9-0.2 0.9 1.8 1-1.8 0.9 0.3 0.9 0.7 0.9-3.4 1 2.7 0.9-2.6 0.9-3.2 0.9-0.7 1 4.1 0.9-2.7 0.9 1.8 0.9-5.5 1 1.7 0.9 1.2 0.9 3 0.9 0.1 1-2.2 0.9 1.3 0.9 0.3 0.9-2.6 1 4.8 0.9 1.7 0.9-2.8 0.9 0.2 1-3 0.9 1.8 0.9-2 0.9 4.4 1-9.3 0.9 2.5 0.9 3.1 0.9-3.4 1-2.7 0.9 0.8 0.9 2.1 0.9-2.1 1-1 0.9 5.2 0.9 0.4 0.9-2.6 1-4.5 0.9-1.6 0.9 3.3 0.9-3.9 1 1 0.9 2.6 0.9 1.6 0.9-0.6 1-2.2 0.9-3.9 0.9 1.3 0.9 5.6 1-0.5 0.9-5.8 0.9 1.4 0.9 2.9 1-4.7 0.9-2.1 0.9 1.3 0.9 1.7 1-3.7 0.9 4.6 0.9 0.3 0.9 0.7 1-8.1 0.9-0.9 0.9 5.8 0.9-2 1 0.2 0.9-1.6 0.9-1 0.9 1.2 1 1.9 0.9 1 0.9 1.1 0.9 4.3 1-7.4 0.9 1.8 0.9-2.7 0.9 0.1 1 2.4 0.9-1.8 0.9-2.9 0.9 0.4 1 2.8 0.9-0.7 0.9-4.1 0.9 0.6 1-0.5 0.9 1 0.9-3 0.9 1.6 1-7.5 0.9 8.4 0.9 0.4 0.9-7.3 1 4.7 0.9 1.7 0.9-4 0.9 7.8 1-8.7 0.9 0.9 0.9-1.1 0.9 2.8 1-6.8 0.9 2.5 0.9 0.6 0.9-1.6 1 3.2 0.9-2.6 0.9 3.8 0.9-1.7 1-4.7 0.9 0 0.9-2.4 0.9 3.9 1-2.2 0.9 1.3 0.9-3.4 0.9-2.1 1-1.4 0.9 1.1 0.9 3.8 0.9-3.7 1 3.5 0.9 2.3 0.9-7.1 0.9-0.3 1-2.6 0.9-0.7 0.9 6.1 0.9-1.6 1-3.4 0.9-0.7 0.9-1.6 0.9 5 1-3.9 0.9-3.4 0.9-4.5 0.9 9.6 1-9.7 0.9 5.6 0.9 3.2 0.9-9.4 1 7.2 0.9-0.2 0.9-6.7 0.9-1.5 1 2.5 0.9 2 0.9 1.9 0.9-5.7 1 7.3 0.9-3.4 0.9-8.7 0.9 0.8 1-2.5 0.9 2 0.9 4.4 0.9-5.8 1 6.7 0.9-8.7 0.9-2.7 0.9 7 1-7.1 0.9 2.5 0.9 0.1 0.9 5.2 1-6.5 0.9-3.9 0.9 7.8 0.9-4.6 1 0.1 0.9 2.4 0.9-9.2 0.9 2.7 1-0.7 0.9-3.6 0.9 5 0.9-13.5 1 11.4 0.9 1.7 0.9-6.3 0.9 0.2 1 3.8 0.9-0.7 0.9-6.2 0.9 1.3 1-1 0.9-1.9 0.9 4.2 0.9-6.5 1 3.5 0.9-2.7 0.9 4.8 0.9-5.8 1 1.1 0.9-7.6 0.9 8.1 0.9-5.9 1 2.4 0.9-3.4 0.9 3.9 0.9-1.2 1 8.3 0.9-3.5 0.9-7.9 0.9 1.6 1-1.5 0.9 2.9 0.9-3.8 0.9 3.3 1-1.4 0.9-4.5 0.9 0.1 0.9 4.4 1-2 0.9-1 0.9 0.8 0.9-0.5 1 2.3 0.9-5.3 0.9 4.8 0.9-0.7 1-7.6 0.9-2.2 0.9-0.5 0.9 4.4 1 2.4 0.9-4.5 0.9-3.1 0.9 4.2 1 1.3 0.9 3.6 0.9-0.3 0.9-11.4 1 9.8 0.9-3 0.9-1.6 0.9-2.2 1 4.6 0.9-6.4 0.9-0.5 0.9 1.3 1 1.8 0.9-1.2 0.9 4.6 0.9-8.6 1 3.3 0.9 2.3 0.9-4.7 0.9-2.1 1 0 0.9-1.2 0.9-2.2 0.9 5 1-2.7 0.9-0.6 0.9 5.1 0.9-8.7 1 4.2 0.9-2.3 0.9-0.6 0.9 3.1 1-5.8 0.9-1 0.9 2.1 0.9 9.4 1-14.2 0.9 4.3 0.9 1 0.9-0.8 1 1 0.9-2.9 0.9-3.7 0.9 4.9 1-4.9 0.9 2 0.9-1.8 0.9-0.4 1-2.9 0.9-3.1 0.9 2.5 0.9-3.9 1-2.8 0.9 8.4 0.9-8.4 0.9 2.1 1-2 0.9-5.5 0.9 2.1 0.9-0.7 1-8 0.9-1.1 0.9 0.2 0.9-9.5 1 10.8 0.9 0.5 0.9-6.1 0.9 1.2 1-6.7 0.9 1.1 0.9-2.2 0.9-4.3 1 0.1 0.9 0.7 0.9-6.8 0.9-7.8 1-2 0.9-6 0.9-6.6 0.9-2.1 1-2.2 0.9-3.6 0.9-10.4 0.9-11.1 1-7.7 0.9-7.9 0.9-5.2 0.9-16.8 1-14.7 0.9-18.2 0.9-11.1 0.9-24.1 1-28.4 0.9-29.7 0.9-31.7 0.9-42.4 1-40.7 0.9-51.5 0.9-43.8 0.9-50 1-35.1 0.9-39.3 0.9-13.9 0.9-2.8 1 22.6 0.9 30.6 0.9 51.2 0.9 53.9 1 46.6 0.9 48.9 0.9 50.5 0.9 43.5 1 30.4 0.9 31.6 0.9 29.6 0.9 26.9 1 22.1 0.9 13.8 0.9 19.5 0.9 20.2 1 13.7 0.9 6.1 0.9 10 0.9 13.6 1 8.8 0.9 2 0.9 10.9 0.9 2.4 1 11.8 0.9 4.7 0.9 6.9 0.9-1.2 1 5.1 0.9 7.5 0.9-2.7 0.9 5.1 1 1.6 0.9-2.7 0.9 3.7 0.9 3.7 1 4.7 0.9 4.6 0.9 0 0.9 0.6 1-3.8 0.9 8.2 0.9-0.2 0.9-0.8 1-0.4 0.9-1.6 0.9-0.1 0.9 5.2 1-6.2 0.9 4.4 0.9 5 0.9 0.9 1-1.6 0.9-0.4 0.9-3.2 0.9 5.3 1-0.8 0.9 1 0.9-3.6 0.9 5.5 1-6.5 0.9 4.4 0.9-1.9 0.9-2.1 1 0.4 0.9-8 0.9 12 0.9 3.8 1-2.4 0.9-6.8 0.9 6.3 0.9-6.5 1 4.3 0.9-2.7 0.9 7.8 0.9-7.7 1 0.1 0.9 7.1 0.9-6.9 0.9-4 1 8.5 0.9 2.9 0.9-1.4 0.9-1.6 1-4.9 0.9-3.5 0.9 6.2 0.9-1.9 1 2.4 0.9-4.3 0.9-4.9 0.9 5.7 1-11.8 0.9-4.5 0.9-5.3 0.9 1.3 1-1.2 0.9-8.2 0.9-1.1 0.9-0.8 1-6.3 0.9-1 0.9-13.6 0.9 0.9 1-3.3 0.9 3.7 0.9-10.8 0.9 3.1 1-6.4 0.9 3.9 0.9-7.1 0.9 6 1-5.9 0.9-0.3 0.9 3.5 0.9-4.3 1 2.6 0.9 0.4 0.9-2.4 0.9-0.4 1 6.4 0.9-3 0.9 2.7 0.9 2.7 1-0.1 0.9 13.4 0.9-5.2 0.9 7.2 1 6.3 0.9 3 0.9 0 0.9 3.2 1 5.4 0.9 9.7 0.9 4.4 0.9-1.6 1 1 0.9 7.1 0.9-2.4 0.9 3.6 1 3 0.9 6.7 0.9-3.6 0.9 3.9 1 1.9 0.9 6.4 0.9 8.5 0.9-1.9 1 1.8 0.9 6.2 0.9 6 0.9-2.1 1 2.5 0.9 7.7 0.9 0.7 0.9 3.7 1-3.5 0.9 1.6 0.9-3 0.9 8 1-4.9 0.9 5 0.9-0.3 0.9 4.7 1-2.4 0.9 2.2 0.9-0.3 0.9-0.1 1 0 0.9-0.3 0.9 2.7 0.9 2.7 1-4.1 0.9 2.7 0.9 2.1 0.9-4.3 1 3 0.9-0.7 0.9 6 0.9-2.2 1-5.9 0.9 3.8 0.9 0.3 0.9 3.1 1-1.1 0.9-0.9 0.9 1.2 0.9 0.3 1 4 0.9-2 0.9-0.6 0.9-2.1 1 0.3 0.9 1.4 0.9 1.8 0.9 0.2 1-2.1 0.9 3.8 0.9-2.4 0.9 0.4 1 0 0.9-4.1 0.9 4.1 0.9-2.1 1-1.5 0.9 2.6 0.9 1.3 0.9 2.9 1-6.2 0.9 6.1 0.9 2.2 0.9-6.7 1 5.7 0.9-0.4 0.9-0.9 0.9 1.2 1 2.3 0.9-5 0.9-0.5 0.9-0.5 1 1.9 0.9 0.9 0.9 0.4 0.9-3.6 1 0.9 0.9 2.9 0.9-1.5 0.9 3.4 1-3.5 0.9 3.5 0.9-1.9 0.9 0.3 1 5.3 0.9-7 0.9 1.6 0.9 1.7 1-0.1 0.9-1.3 0.9 0.2 0.9-1.3 1 0.7 0.9-1.1 0.9 0.7 0.9 3.2 1-0.3 0.9-4.7 0.9-0.9 0.9-0.9 1 0.2 0.9-4.9 0.9-1.7 0.9-1.4 1 7.3 0.9 4.2 0.9 0.7 0.9-1.1 1-1.8 0.9 5 0.9-2.9 0.9 3.6 1 0.3 0.9 1.1 0.9-3.2 0.9 2.8 1-2.7 0.9 2.9 0.9-4.2 0.9 3.2 1 0.5 0.9 2.6 0.9-4.8 0.9 2.1 1 0.5 0.9 0.3 0.9 1.1 0.9 0.2 1-1.6 0.9 2.4 0.9-1.2 0.9-4.7 1 4.9 0.9 0.4 0.9-2.2 0.9 3.8 1-4.6 0.9 2.9 0.9 2.4 0.9-1.9 1 1.2 0.9-2.6 0.9 2.4 0.9-2.2 1 5.2 0.9-2.7 0.9-1.9 0.9 0.3 1 0.9 0.9-1.2 0.9 0.1 0.9 1.6 1-0.3 0.9-1.2 0.9 1.5 0.9 5.3 1-1.7 0.9-1.7 0.9-2.4 0.9 1.3 1-1 0.9-0.6 0.9 1 0.9 2.9 1-3.3 0.9 4.2 0.9 0 0.9-1.5 1 3.6 0.9-7.3 0.9-1.2 0.9 4.8 1 0.5 0.9 3.3 0.9-4.8 0.9 2.4 1 1 0.9 0.4 0.9-2.2 0.9 0.2 1-0.1 0.9 1 0.9 2.1 0.9-5.7 1 1.2 0.9 2.6 0.9 1.5 0.9-0.6 1-3.1 0.9 0.4 0.9 0.5 0.9-1.7 1 3.3 0.9-3.6 0.9 2.3 0.9 1.7 1-2.2 0.9 0.3 0.9 1.9 0.9-4.5 1 6.3 0.9-3.5 0.9-0.2 0.9 2 1-1.3 0.9-2.3 0.9 4.4 0.9 0 1-1.4 0.9-1.5 0.9-1.1 0.9 1 1 3.1 0.9-4 0.9 0.7 0.9-0.5 1 4.8 0.9 0.1 0.9-1.8 0.9-0.4 1-0.7 0.9 2 0.9-0.1 0.9-2.7 1 4.7 0.9-1.7 0.9-2.2 0.9-1.3 1 0.9 0.9-2.4 0.9 2.4 0.9-0.8 1-0.1 0.9 1.4 0.9 2.4 0.9-1.8 1-0.1 0.9 1.2 0.9-2.8 0.9 2.2 1 1.7 0.9-2.6 0.9 1.8 0.9-2.8 1 5.7 0.9-1.6 0.9-3.1 0.9-0.4 1 0.3 0.9-2.6 0.9 3.2 0.9 0.5 1-2.4 0.9 2.1 0.9-1.3 0.9-1.5 1 2.5 0.9-0.1 0.9 0.9 0.9-1.7 1-0.4 0.9-0.8 0.9 0.7 0.9-2.4 1 3.3 0.9 0.1 0.9 0.7 0.9-2.8 1 2.2 0.9 0.6 0.9 1.9 0.9-2.1 1-1.8 0.9 6.2 0.9-2.6 0.9-0.3 1-0.2 0.9-1.5 0.9 0.8 0.9-0.9 1-0.3 0.9-1.9 0.9 2.9 0.9-1 1 1 0.9-0.6 0.9 0.9 0.9 1.5 1-2.8 0.9-1.1 0.9 3.6 0.9-1.6 1 0.1 0.9 3.7 0.9-7.1 0.9 0.9 1 0.5 0.9 0.4 0.9 3.3 0.9 2.8 1-4.1 0.9-0.2 0.9 0.6 0.9 0.4 1-2.5 0.9 0.4 0.9 1.5 0.9 0.9 1-4.8 0.9 2.6 0.9 1.3 0.9 2.5 1 0.4 0.9 2.2 0.9-4.3 0.9-0.9 1 0.9 0.9-0.3 0.9-0.3 0.9-1 1 4.5 0.9-0.8 0.9-3.7 0.9 1.1 1-0.3 0.9 2.6 0.9-4.2 0.9 2.4 1 0.6 0.9 1.2 0.9-1.8 0.9 0.1 1 0.5 0.9-2.9 0.9 0.8 0.9 2.1 1 1 0.9-0.2 0.9-1.2 0.9 5.3 1-5.2 0.9 1 0.9-3.9 0.9 2.9 1 1.1 0.9-0.3 0.9 1.2 0.9 0.1 1-1 0.9 3.3 0.9-3.3 0.9 2.9 1-1.5 0.9 0.1 0.9-2.4 0.9-1.3 1 0.3 0.9 3.2 0.9-0.3 0.9-0.4 1-0.1 0.9-1.6 0.9 0.8 0.9 1.2 1-3.1 0.9 1.8 0.9-1.5 0.9 3.2 1-1 0.9 0.5 0.9 0.3 0.9 2 1-2 0.9 2.8 0.9-2.9 0.9-2.1 1 1 0.9 1.4 0.9 1.1 0.9-1.7 1 3 0.9 0.3 0.9 0.2 0.9-2.6 1 2.8 0.9-3 0.9-0.6 0.9 0.6 1 1.3 0.9-0.8 0.9 2.6 0.9-2.1 1-2.3 0.9 0.4 0.9 4.9 0.9-2.4 1 0.5 0.9-1.9 0.9 1 0.9 0.7 1 0.9 0.9-1.2 0.9 0.5 0.9-0.3 1 0.4 0.9 1.7 0.9-2.5 0.9-0.1 1 0.4 0.9 0 0.9-1.5 0.9 0.3 1-0.9 0.9 1.6 0.9-0.3 0.9 1.3 1 1.7 0.9 0.2 0.9-2.6 0.9 0.7 1-0.7 0.9 4.5 0.9-3.2 0.9-0.5 1 0.7 0.9-0.1 0.9 2.4 0.9-2.6 1-2.1 0.9 3.7 0.9-2.6 0.9 1.9 1-1.4 0.9-1.9 0.9 2.1 0.9-0.5 1-0.4 0.9 1 0.9-2 0.9 5.1 1-2.6 0.9 2.4 0.9-0.6 0.9-2.3 1 1.8 0.9-1.2 0.9-2.8 0.9 1.3 1-5.1 0.9 6 0.9-0.2 0.9 3.9 1-3.8 0.9 0.6 0.9-1.4 0.9 0.6 1 1.1 0.9 2 0.9-4.2 0.9 2.2 1 1.6 0.9-3.3 0.9 3.8 0.9-2.2 1 2.3 0.9-2.8 0.9 2.1 0.9-7.2 1 2.8 0.9 1 0.9 0.2 0.9-0.5 1-0.3 0.9 0.8 0.9 2.2 0.9-2 1 2.7 0.9-1.9 0.9-1.3 0.9 2.4 1-2.4 0.9 1.4 0.9-4.6 0.9 4.4 1-1.4 0.9-0.2 0.9 0.7 0.9-0.3 1 0.9 0.9-0.7 0.9 0 0.9-1.1 1-0.7 0.9 2 0.9-2.3 0.9 2.2 1 1.5 0.9-0.9 0.9 0.4 0.9-0.8 1-0.4 0.9-0.3 0.9-1.6 0.9 0.7 1 1.9 0.9-1.6 0.9 0.9 0.9-1.3 1-0.8 0.9 2.2 0.9-1.5 0.9-1 1 1.6 0.9 2.4 0.9-1.6 0.9 1.2 1-3.1 0.9 1.3 0.9-0.2 0.9-2.4 1 1.7 0.9 0.9 0.9 3.2 0.9-2.1 1 0.2 0.9-0.8 0.9 1.7 0.9-3 1-1 0.9 2.5 0.9 1.8 0.9-2.5 1 0.5 0.9-2 0.9 1.7 0.9 1.1 1 1 0.9-2.3 0.9 3.8 0.9-2 1-3 0.9 1.4 0.9-0.2 0.9 0.3 1 1.8 0.9-1.6 0.9-1.5 0.9-0.1 1 2.5 0.9-1.8 0.9-1.5 0.9 1.1 1-2.1 0.9 2.4 0.9 2.6 0.9-2.7 1-0.4 0.9-0.9 0.9 0.2 0.9-1.8 1 1.3 0.9 0.5 0.9 1 0.9-0.7 1-2.9 0.9-1.3 0.9 2.2 0.9-0.2 1 0.2 0.9-1.4 0.9-0.4 0.9 0.2 1-3.3 0.9 2.7 0.9-3.4 0.9-1.1 1-2.2 0.9 0.4 0.9 0.3 0.9-3 1 0.6 0.9-2.6 0.9-0.3 0.9-8 1 9.2 0.9-2.8 0.9-5.8 0.9 3 1 2.8 0.9-4 0.9-2.6 0.9 5.4 1-0.8 0.9 5.9 0.9-0.4 0.9-0.3 1 1.4 0.9 2.9 0.9 1.1 0.9 1.2 1 1.4 0.9 0.6 0.9 1 0.9-1 1 4.1 0.9-2.8 0.9-1.5 0.9 3.2 1 1.6 0.9 1.1 0.9-0.3 0.9 1.4 1-2.2 0.9 0.7 0.9-1.2 0.9 0.9 1-0.7 0.9-1.1 0.9 0.9 0.9-2.8 1 2.7 0.9 2.6 0.9-1.7 0.9-0.2 1 1.1 0.9-1 0.9 0.3 0.9-1.2 1 2.3 0.9 1.4 0.9-0.8 0.9 2.4 1 1.3 0.9-2.6 0.9-0.9 0.9 0.3 1-3 0.9 3.7 0.9 0.2 0.9-5.2 1 5.7 0.9-3.7 0.9 1.4 0.9 4 1-5.8 0.9 2.1 0.9-1.1 0.9 0.2 1-0.2 0.9-1 0.9-2.1 0.9 3.1 1 0.8 0.9-1.8 0.9 0.7 0.9 4.9 1-4.9 0.9 1.3 0.9-0.3 0.9 2 1-5.5 0.9 2.3 0.9 1.5 0.9-0.1 1-0.4 0.9-0.1 0.9-1.5 0.9 0.6 1 1.4 0.9-0.4 0.9-1.5 0.9 2.6 1-1 0.9-2.3 0.9 1.6 0.9-2.4 1 4.2 0.9-1.2 0.9 0.6 0.9 0 1-2.8 0.9-0.5 0.9 1.5 0.9 0.3 1-3.3 0.9 0.3 0.9 6 0.9-3.4 1 3.2 0.9-0.9 0.9-1.5 0.9 0.7 1-3.1 0.9 1.7 0.9-0.4 0.9-0.4 1-3.2 0.9 2.3 0.9-1.2 0.9 0.6 1-1.3 0.9 1.9 0.9 0 0.9-2.4 1 1.8 0.9 2.9 0.9-0.7 0.9-1.6 1-1.7 0.9 2.1 0.9-4.2 0.9 1.8 1 1 0.9 1.6 0.9-3.6 0.9 0 1 3 0.9-4.6 0.9 0.1 0.9-0.7 1 2.6 0.9-1.9 0.9 5.3 0.9-4.7 1 1.4 0.9-0.7 0.9-1.2 0.9 2 1-1.2 0.9 1.3 0.9-0.6 0.9 0.4 1-3 0.9-2 0.9 3.9 0.9 0.9 1-2.9 0.9-1.5 0.9-0.1 0.9 2.5 1-2.6 0.9 1.4 0.9-1.1 0.9-0.9 1 0.4 0.9-2 0.9 1.7 0.9-4.2 1 2.6 0.9 2.3 0.9-4.3 0.9 0.2 1 1.1 0.9 0.6 0.9-0.7 0.9-1 1 1.9 0.9-1.8 0.9 2.8 0.9-2.2 1 3.1 0.9-2.7 0.9-0.4 0.9 2.3 1-1.8 0.9 4.5 0.9-3.4 0.9 0.4 1-1.6 0.9 1.4 0.9-2 0.9-1.5 1 3.6 0.9-1.3 0.9-1.4 0.9 1.6 1 0 0.9 2.7"/>
<path stroke="#ff00ff" stroke-dasharray="18 16 4 16 4 16" d="M257.5 3385l0.9 2.5 0.9 3.6 1-2.3 0.9 0.3 0.9-0.2 0.9-2 1 4.5 0.9-5.4 0.9 5.1 0.9-2.3 1-2.6 0.9 0.6 0.9 3.2 0.9-5.9 1 3.4 0.9 3.2 0.9-2.4 0.9 2.1 1-3 0.9 4.3 0.9-4.4 0.9 5.4 1-6.9 0.9 2 0.9-2.6 0.9 5 1 3.3 0.9-1.7 0.9-2.7 0.9-5.4 1 3.4 0.9-1.8 0.9 5.3 0.9-0.8 1-0.5 0.9-3.6 0.9 4.2 0.9-0.7 1-4.6 0.9 6 0.9-2 0.9 3.2 1-2.7 0.9-2.5 0.9-0.9 0.9 6.2 1 2.8 0.9-7.4 0.9-2.7 0.9 5.7 1-2.3 0.9 0.5 0.9 5.3 0.9 1.2 1-6.2 0.9-1.3 0.9 4.8 0.9-2.9 1 1.2 0.9 0.4 0.9 0.8 0.9-5.9 1 2.8 0.9 0.5 0.9 0.7 0.9-2.1 1 2.1 0.9-1.5 0.9 2.2 0.9-2.7 1 1.6 0.9-2.1 0.9 5.2 0.9-1.8 1 1 0.9-6.7 0.9 5.3 0.9-1.3 1 4 0.9-1.8 0.9 1.8 0.9-3.8 1 2.1 0.9-6 0.9 5.8 0.9-4.5 1 2.7 0.9-1.5 0.9 3.4 0.9-2.1 1 0.3 0.9 1.5 0.9-3.2 0.9 4.9 1-3.2 0.9 0.1 0.9-0.7 0.9 3 1-4.4 0.9 3.8 0.9-0.7 0.9 0.8 1-1.3 0.9-1.9 0.9-6 0.9 13.3 1-8.6 0.9 0.1 0.9-1.4 0.9 2.9 1-0.5 0.9-3.2 0.9 4 0.9-0.2 1 0.5 0.9-1.1 0.9-3.2 0.9 6.4 1-5 0.9 8.4 0.9-6.7 0.9 2.1 1-4 0.9 1.1 0.9 0 0.9 0.6 1 0.5 0.9 5.7 0.9-5.6 0.9 4 1-5.8 0.9 4.2 0.9-1.6 0.9 1.2 1-1.4 0.9-0.3 0.9-0.7 0.9 4.2 1-6.7 0.9 6.3 0.9-2.1 0.9 6 1-7.1 0.9-1.7 0.9-0.5 0.9 1.6 1 0.1 0.9 2.8 0.9-0.7 0.9-0.5 1-0.8 0.9 2.9 0.9-1.7 0.9-2.1 1 0.9 0.9 0.7 0.9 1.6 0.9-2.7 1 0.3 0.9-3.2 0.9 3.6 0.9-2.4 1 5.6 0.9-7.5 0.9 7.6 0.9-3.1 1 0.7 0.9 0.5 0.9-0.6 0.9 0.5 1-1.5 0.9-0.4 0.9-2.1 0.9-0.3 1-1.3 0.9 3.1 0.9 3.1 0.9-7.6 1 4.3 0.9 7.4 0.9-8 0.9 2.2 1 1.3 0.9-0.2 0.9-1.6 0.9 2 1-2.5 0.9 1 0.9 0 0.9-1.6 1 0.3 0.9-3.1 0.9 2.7 0.9 3.4 1-2.4 0.9-4 0.9-0.1 0.9 6 1-3.5 0.9 2.7 0.9-0.5 0.9 3 1 0.2 0.9-3.2 0.9-1.4 0.9-0.6 1 3.2 0.9-1.5 0.9-0.9 0.9 0.6 1 6.3 0.9-4.2 0.9-2.9 0.9-1.2 1 3.6 0.9-4.8 0.9 9.6 0.9-10.3 1 4.7 0.9-1.8 0.9 2.2 0.9 0.5 1-2.2 0.9-1 0.9 2.8 0.9-4.8 1 2.9 0.9-1.3 0.9 1.9 0.9-0.3 1-1.6 0.9 3.2 0.9-5.2 0.9 4.8 1-4.3 0.9 3.7 0.9-2.4 0.9 1.1 1-4.9 0.9-1.4 0.9 5.2 0.9-2.3 1 0.4 0.9-1.4 0.9-0.9 0.9-2.1 1 4.3 0.9 4.6 0.9-6.4 0.9 2.5 1-0.7 0.9-3.6 0.9-1 0.9 3.5 1-3.1 0.9 1.8 0.9-1.1 0.9 2.1 1-3.9 0.9 4.7 0.9-1.9 0.9-2.5 1 4.7 0.9-3.7 0.9-0.5 0.9-1.2 1-2.6 0.9 9.7 0.9-8.3 0.9 1.3 1-2.4 0.9 1 0.9 3.3 0.9-0.6 1 0.9 0.9-6.2 0.9 4.7 0.9-2.8 1 1.2 0.9 4.6 0.9-4.9 0.9-0.7 1-4.6 0.9 4.2 0.9 2.2 0.9-1.8 1-4 0.9 0.3 0.9-0.1 0.9-0.7 1 3.8 0.9-4.9 0.9 1.3 0.9 6.4 1-4.3 0.9-5.5 0.9 4.8 0.9-0.7 1-1.4 0.9-0.6 0.9 0.3 0.9-2 1 3.5 0.9 1.7 0.9-4.3 0.9-0.1 1-3.2 0.9-3.4 0.9 4.2 0.9-1.4 1-2.6 0.9 2.2 0.9 0.1 0.9 4.3 1-1.7 0.9 0.8 0.9-1.4 0.9-4.3 1 0.7 0.9 1.7 0.9 6 0.9-8.2 1-0.2 0.9 4.7 0.9-3.9 0.9 0.8 1-2.9 0.9 7.6 0.9-2.6 0.9-7.8 1 6.6 0.9-1 0.9-1.3 0.9-2.3 1-3.5 0.9 3.8 0.9-3.2 0.9 1.1 1 2.7 0.9-6.9 0.9 1.5 0.9 3.9 1-0.9 0.9 2.3 0.9 1.9 0.9-5.2 1-4 0.9 11.8 0.9-7.2 0.9-8.6 1 1 0.9 7.4 0.9-1.1 0.9-6.7 1 7.2 0.9-3.4 0.9 2.1 0.9-4.4 1 0.4 0.9-5.3 0.9 8.5 0.9 1.6 1-4.3 0.9-2.4 0.9 1.6 0.9-9.3 1 9.2 0.9-1.3 0.9-4 0.9-2.9 1 4.5 0.9-1.9 0.9 5.8 0.9-1.2 1-4.6 0.9-1.9 0.9 0.3 0.9-0.3 1-1.3 0.9 2.3 0.9 0.6 0.9-0.7 1 3 0.9-2.4 0.9-0.1 0.9-5.1 1-6.5 0.9 5.1 0.9-4.6 0.9 9 1-2 0.9-1.3 0.9-4.9 0.9-3.3 1 3.1 0.9 1 0.9 0.4 0.9 2.1 1-4.1 0.9-0.3 0.9 0.9 0.9 2.4 1-3.8 0.9 0.4 0.9 1.7 0.9-7 1 3.6 0.9-2.8 0.9 5.2 0.9-2.8 1 0.4 0.9 0.6 0.9-4.4 0.9 0.6 1 2.6 0.9-2.4 0.9-2.9 0.9-0.2 1-6.8 0.9 13 0.9-11 0.9-0.1 1 0.2 0.9 3.3 0.9-0.6 0.9 3.5 1-8.6 0.9 2.8 0.9-0.7 0.9-7.8 1 7.9 0.9-3.7 0.9-3 0.9 1.6 1-2.5 0.9-0.4 0.9-0.9 0.9 3.9 1-0.8 0.9-8.6 0.9 0.9 0.9 1.4 1 0.7 0.9-7.9 0.9 4.9 0.9 1.1 1-7.4 0.9 5.9 0.9-3 0.9-2.3 1 3.3 0.9-5.2 0.9-0.7 0.9-1.3 1 1.8 0.9-6.2 0.9 4.9 0.9 1 1-2.9 0.9 2.5 0.9 6.1 0.9-12.1 1 9.4 0.9 0.4 0.9-7.6 0.9 3.1 1-5.9 0.9 0 0.9-0.4 0.9 4 1-1.9 0.9 4.9 0.9-6.6 0.9 2.4 1 0 0.9-1.1 0.9 0 0.9-1.3 1-1.5 0.9 2.6 0.9 1 0.9 2.5 1-9.8 0.9 3.8 0.9 1.9 0.9 3.8 1-7.2 0.9 5.5 0.9-5.3 0.9 1.7 1-5.2 0.9 4.6 0.9 1.8 0.9 2.7 1-5.4 0.9-7.4 0.9 3.8 0.9 1.7 1-5.5 0.9 5.2 0.9-5.7 0.9 6.8 1-1 0.9-7.1 0.9 6.5 0.9-8.4 1 2.8 0.9-6.7 0.9 7.1 0.9-1.6 1-6.7 0.9 6.3 0.9-3.5 0.9 2.7 1-6.9 0.9 2.1 0.9 2.4 0.9-4.6 1 2.2 0.9-6.6 0.9 4.9 0.9-12.5 1-0.9 0.9 11.9 0.9-8.8 0.9 2.7 1-1.9 0.9-0.1 0.9-10.6 0.9 9 1-13.1 0.9 8.8 0.9-9.9 0.9 1.6 1-0.4 0.9-0.3 0.9-3.6 0.9-3.9 1-6 0.9 8.9 0.9-9 0.9-0.7 1-0.6 0.9-4.7 0.9-3.2 0.9-0.5 1-4.6 0.9-6.5 0.9-1.8 0.9-7.4 1-1.1 0.9-9.5 0.9-7.2 0.9-7.2 1-7.9 0.9-8.6 0.9-9.9 0.9-10.8 1-14.1 0.9-18.5 0.9-13.4 0.9-31.2 1-15.1 0.9-32.3 0.9-36.8 0.9-38.2 1-37.5 0.9-42.4 0.9-41.3 0.9-50.8 1-37.9 0.9-27.1 0.9-20 0.9-4.3 1 18 0.9 31.3 0.9 38.8 0.9 46.2 1 46.7 0.9 46.2 0.9 39.7 0.9 38.5 1 33.2 0.9 29.1 0.9 17 0.9 24.7 1 17.9 0.9 18.8 0.9 13.4 0.9 15.3 1 10.5 0.9 4.9 0.9 5.4 0.9 19.4 1 3.4 0.9 7.5 0.9 9.2 0.9 6.1 1 7.8 0.9 9.7 0.9 2.8 0.9 12.9 1-4.2 0.9 6.3 0.9 7 0.9 5.1 1 2.6 0.9-0.7 0.9-2.8 0.9 3.3 1 2.2 0.9 7.6 0.9-2.2 0.9-1.5 1 1.8 0.9 0.8 0.9 2.2 0.9 1.1 1-0.6 0.9-0.5 0.9 0.6 0.9-4.5 1 4.4 0.9-10.5 0.9 2.9 0.9 0.1 1-5.4 0.9-0.7 0.9 5.1 0.9-6 1-6.8 0.9 1.2 0.9-6.2 0.9 4.2 1-4.4 0.9-1.3 0.9-4.6 0.9-1.2 1-3.5 0.9-9.8 0.9 2.3 0.9-8.9 1-11.8 0.9-10.7 0.9-5.7 0.9-4.8 1-4.4 0.9-9.9 0.9-12.9 0.9-8.6 1-8.1 0.9-21.3 0.9-15.8 0.9-10.3 1-26.4 0.9-16.6 0.9-19.7 0.9-14.6 1-18.9 0.9-14.9 0.9-9.7 0.9-12.3 1-19.5 0.9-19.9 0.9-10.8 0.9-15.9 1-16.8 0.9-13.8 0.9-15.8 0.9-16.3 1-16.5 0.9-12.8 0.9-25.6 0.9-7.7 1-22.2 0.9-9.5 0.9-20.5 0.9-11.1 1-13.8 0.9-16.1 0.9-5.6 0.9-5.3 1-8.7 0.9-4.1 0.9-7.1 0.9-6.5 1-9.4 0.9 1.1 0.9-4.7 0.9 4.2 1 1.8 0.9 0.6 0.9 4.5 0.9 2.2 1-1.1 0.9 13 0.9 5.2 0.9 11.1 1 13.4 0.9 13.2 0.9 11.6 0.9 25.4 1 22.6 0.9 30.5 0.9 29.1 0.9 20.3 1 25.8 0.9 26.2 0.9 14.8 0.9 17.8 1 24.8 0.9 18.6 0.9 20.9 0.9 17.8 1 14.8 0.9 14.1 0.9 20.8 0.9 16.9 1 17.3 0.9 11.5 0.9 12.3 0.9 14.8 1 13.6 0.9 0.8 0.9 6.9 0.9 9.1 1-2.3 0.9 10.5 0.9 7.7 0.9 12.4 1 5 0.9 9.9 0.9 19.2 0.9 8.8 1 17.3 0.9 7.6 0.9 4.7 0.9 0.5 1 6.7 0.9 4 0.9 7.7 0.9 1.5 1 10.7 0.9-0.4 0.9 11.8 0.9 1.6 1 1.8 0.9 5.8 0.9 3.3 0.9 3.9 1 12.7 0.9-2.9 0.9-2.3 0.9 5.5 1 4.5 0.9-1.5 0.9 0.4 0.9 8.1 1-1.8 0.9 3.3 0.9 1 0.9-0.8 1 7.4 0.9-1.5 0.9-0.3 0.9 10.4 1-2.7 0.9 2.6 0.9-2.1 0.9 4.5 1-0.1 0.9-2 0.9 3.2 0.9 3.6 1-0.5 0.9 1 0.9 1.8 0.9-4.8 1-1.1 0.9 7.3 0.9-7.6 0.9 5 1 6.4 0.9 0.7 0.9-0.8 0.9-5.3 1 7.3 0.9-0.6 0.9-5.5 0.9 4.8 1-1.4 0.9 5.5 0.9-4.5 0.9 2.9 1-0.3 0.9 1.6 0.9-4.1 0.9 8.7 1-7.9 0.9-2.5 0.9 0.8 0.9 6.7 1-6.3 0.9 0.7 0.9-0.8 0.9 3.8 1-4.6 0.9 2 0.9 4.3 0.9-0.7 1-0.8 0.9-2 0.9 0.5 0.9 0.6 1 4.2 0.9-0.9 0.9 2.5 0.9-2.2 1 2.4 0.9-2.6 0.9-4.1 0.9 1.9 1-7.3 0.9-5.4 0.9 3.7 0.9-4.3 1 7.5 0.9 8.7 0.9 1.4 0.9 3.2 1-1.1 0.9 0.8 0.9 2.8 0.9-0.4 1 1.4 0.9 2.8 0.9-0.2 0.9-4.5 1 5.5 0.9-3.1 0.9-3.5 0.9 0.9 1-1.2 0.9 6 0.9-4.6 0.9 0 1 1.5 0.9-1 0.9 0.7 0.9-3.7 1 5 0.9 1.4 0.9-4.9 0.9 5.2 1-1.1 0.9-2.6 0.9 1.9 0.9 1.2 1-4.1 0.9 6.2 0.9-4.6 0.9 2.4 1-0.5 0.9-2.1 0.9 0.7 0.9 0.9 1-3.8 0.9 5.9 0.9-4.8 0.9 3.5 1 0.5 0.9-0.2 0.9-1.5 0.9 6.1 1-7.7 0.9-0.1 0.9 7.5 0.9 0.3 1-1.4 0.9 0.1 0.9-0.8 0.9 0.2 1 0.3 0.9-4.4 0.9 5.8 0.9 0.6 1-4 0.9-0.6 0.9 4.3 0.9-2 1 1.2 0.9 3.1 0.9-2.2 0.9-1.7 1 3.8 0.9-0.5 0.9-1.8 0.9-4.9 1 1.9 0.9 2.8 0.9-0.2 0.9-2 1 3.5 0.9-1.8 0.9 2.6 0.9-2.1 1-1.3 0.9 4.2 0.9-3.6 0.9-0.1 1 2.6 0.9 3.1 0.9-3.5 0.9-5.6 1 6.2 0.9 1.4 0.9-3.1 0.9 2.5 1 0.9 0.9-2.6 0.9-1.9 0.9 2.1 1 0.9 0.9-0.7 0.9 2.9 0.9 0.3 1-6.4 0.9 4.6 0.9-0.2 0.9 0.2 1 1.6 0.9-3.3 0.9 6.7 0.9-5.7 1 1.9 0.9-1.7 0.9-1.1 0.9 1.4 1 2.9 0.9-3.5 0.9 1 0.9-3.2 1 5.1 0.9-5.3 0.9 5 0.9 0.6 1 3.6 0.9-4.4 0.9-2.1 0.9 2.2 1-0.3 0.9-2.1 0.9-0.2 0.9 3.4 1-3.1 0.9-0.1 0.9-3.1 0.9 6.6 1 2 0.9-3.6 0.9 2.4 0.9-0.1 1-2 0.9-0.3 0.9 0.9 0.9-1.2 1 0 0.9 1.6 0.9-2.7 0.9-0.9 1 2.9 0.9-2.3 0.9 1.8 0.9 1.3 1 0.1 0.9-4.4 0.9 5.8 0.9 0.5 1-4.4 0.9 2.2 0.9 3.1 0.9-0.6 1-1.7 0.9 2 0.9-2 0.9 0.3 1-1 0.9 3 0.9-2.1 0.9-0.8 1 3.3 0.9 0.1 0.9-5 0.9 3 1 1.8 0.9-4.2 0.9 2.4 0.9 2.7 1-2.1 0.9-1.3 0.9-1.8 0.9 4.6 1-2.8 0.9-1.4 0.9 7.2 0.9-4.8 1-1.4 0.9 1.2 0.9 0.5 0.9 1.9 1-3.1 0.9 1.3 0.9 1.6 0.9-2.7 1 0 0.9 1.7 0.9-1.7 0.9 1 1 0.4 0.9-5 0.9 4.7 0.9 1.1 1-1.8 0.9-0.7 0.9 1.6 0.9 2.9 1-3 0.9 1.2 0.9 0.2 0.9-3 1 0.2 0.9 1 0.9-1.7 0.9 1.1 1-0.3 0.9 2.4 0.9-0.7 0.9 0.5 1-3.2 0.9 4.2 0.9-2.3 0.9 3.5 1-3.6 0.9 2.5 0.9 0.8 0.9-2.8 1 0.5 0.9 1.2 0.9 0.6 0.9-0.4 1-2.3 0.9 2.7 0.9 1.4 0.9-3.4 1 4.2 0.9-2.5 0.9-1.8 0.9 1.8 1-2 0.9-1.9 0.9 5.8 0.9 0.2 1-0.6 0.9 0 0.9 1.6 0.9-4.7 1 0.6 0.9-0.7 0.9 2.3 0.9 0.7 1 1.1 0.9-3.2 0.9 0.7 0.9 0.5 1 0.7 0.9 1.8 0.9-3.7 0.9 0 1 2.7 0.9-0.4 0.9-0.1 0.9 0.1 1-2.4 0.9 2 0.9 0.9 0.9-1.1 1 1.4 0.9 1.1 0.9-0.7 0.9 0.8 1-0.4 0.9-1.8 0.9 0.3 0.9-1.6 1 0.8 0.9 1.2 0.9 0.2 0.9 0 1 0.6 0.9 1 0.9-1.9 0.9-2 1 1.5 0.9 3.2 0.9 1.4 0.9-4.3 1 1.3 0.9 3.8 0.9 0 0.9-2.4 1 0.8 0.9-1.9 0.9-1.2 0.9 3.6 1-1.8 0.9-2.2 0.9 1.4 0.9 1.4 1 1.6 0.9-4.1 0.9 3.1 0.9-2.4 1-1.3 0.9 4 0.9-4 0.9 2.5 1 1.6 0.9-5.6 0.9 4.4 0.9-1.7 1 4.4 0.9-3 0.9 1.4 0.9 0.9 1 0.4 0.9-2.7 0.9 2 0.9-2.4 1 0.5 0.9 2.1 0.9 0.6 0.9-2.6 1 2 0.9-2.1 0.9 2.2 0.9-3.4 1 2.1 0.9 2.1 0.9-1.9 0.9 0.6 1-2 0.9 0.5 0.9 1.1 0.9-1.6 1-0.3 0.9 3.9 0.9-1 0.9-4.2 1 0.9 0.9 3 0.9-0.8 0.9-1.8 1 4.5 0.9-2.6 0.9 2 0.9-1.9 1-2.2 0.9-3.2 0.9 3.9 0.9-1.6 1 3.7 0.9-1.4 0.9-0.9 0.9 4.5 1-2.4 0.9-2.5 0.9 0.9 0.9 2 1-2.4 0.9 1.9 0.9-1.6 0.9 2.7 1-1.3 0.9-1.4 0.9-1.3 0.9-1.2 1 5.2 0.9-4.2 0.9 0.7 0.9-1.1 1 2.5 0.9 0.8 0.9-4.6 0.9 3.3 1-0.9 0.9-0.5 0.9 2.7 0.9 2.2 1-1.4 0.9 1.3 0.9-3.6 0.9-0.9 1-1.2 0.9 0.2 0.9 0.9 0.9 2.6 1 1 0.9 0.2 0.9-4 0.9 1.6 1-1.7 0.9 0.3 0.9 3.7 0.9-3.5 1 3.4 0.9-3 0.9-4 0.9 7 1-2.9 0.9-2.3 0.9 5.6 0.9-1.1 1-0.1 0.9-1.7 0.9-0.8 0.9 1.6 1-1.1 0.9 2.6 0.9-0.4 0.9 1.2 1-3.8 0.9-1.7 0.9 3.2 0.9-0.1 1-1.3 0.9-0.2 0.9 0.1 0.9-0.5 1 4 0.9-5.1 0.9 2.3 0.9 0.2 1-0.2 0.9-2.4 0.9 3.5 0.9-2.3 1 1.8 0.9 1.1 0.9-2 0.9-1.2 1-0.9 0.9 1.9 0.9 0.8 0.9-1.2 1 1 0.9 0.6 0.9-1.9 0.9 0.3 1 0.3 0.9-2.1 0.9 2.5 0.9 0.3 1 0 0.9 1.5 0.9-2 0.9 3.3 1-3.8 0.9-0.2 0.9 2.2 0.9 0.9 1-1.8 0.9-4.5 0.9 3.5 0.9-0.2 1-0.2 0.9 2.7 0.9-2.1 0.9-0.8 1 1.4 0.9-2.8 0.9 2.6 0.9-0.7 1-2.1 0.9 2.4 0.9-0.6 0.9-0.2 1-0.9 0.9-0.9 0.9 2.2 0.9-3.7 1 1.1 0.9-4.5 0.9-0.4 0.9 4.2 1-1.3 0.9-0.6 0.9-3 0.9-1.1 1 0.8 0.9-2.2 0.9-1.6 0.9-2.6 1 2.2 0.9-3.6 0.9 0.3 0.9-5 1-0.8 0.9 2.3 0.9-1.8 0.9 2 1-1.9 0.9-2.2 0.9 1.9 0.9 0.2 1 3.5 0.9 5.2 0.9-1.8 0.9 1.1 1-0.9 0.9 5.8 0.9 1.4 0.9-0.5 1 0.1 0.9 3.4 0.9-0.3 0.9-1.7 1-0.3 0.9 3.1 0.9-0.8 0.9-2.2 1 5.6 0.9-3.4 0.9 1.6 0.9 3.6 1-2.4 0.9-0.8 0.9 2.3 0.9-0.8 1-2.9 0.9 2.6 0.9 2.1 0.9-3.1 1 0.4 0.9-1.8 0.9 4.7 0.9-0.7 1-1.9 0.9-1.3 0.9 6.7 0.9-4.5 1 2.1 0.9 1.2 0.9-2.2 0.9 1.1 1-1.7 0.9 0.3 0.9-1.7 0.9 0.3 1 1.1 0.9-0.6 0.9-0.7 0.9 1.4 1-3.1 0.9 3.7 0.9 1.1 0.9-2.4 1 0 0.9-0.7 0.9 2.1 0.9-3.4 1 1.6 0.9 0.1 0.9 0.2 0.9 1.7 1-1.8 0.9 2.4 0.9-1.5 0.9-0.7 1-0.1 0.9 1.3 0.9-2.8 0.9 2.8 1-1.4 0.9 0.4 0.9-2.3 0.9 2.5 1 0.1 0.9-2.3 0.9 2.3 0.9-2.6 1 2.4 0.9 1.6 0.9-2.7 0.9 0.3 1 0.6 0.9-0.4 0.9 3.6 0.9-5.5 1 1.3 0.9-0.5 0.9 2.1 0.9-2.2 1-2.3 0.9 6.1 0.9-5.4 0.9 5.1 1-2.5 0.9 1 0.9 1.4 0.9-4.5 1 2.1 0.9 0.5 0.9 1.1 0.9-2.5 1-0.6 0.9-0.1 0.9 2.3 0.9-0.6 1-1.1 0.9 0.7 0.9-1.7 0.9 0.2 1 1.7 0.9 1.4 0.9-3.7 0.9 2.3 1-2 0.9 0.6 0.9 1.4 0.9-4 1 2.6 0.9-2.6 0.9-0.7 0.9 1.9 1-1.3 0.9 1 0.9 1.6 0.9-1.3 1-2 0.9-1.7 0.9 3.6 0.9 2 1-0.4 0.9-4.4 0.9-0.2 0.9 1.4 1 0.7 0.9-1.7 0.9-1.8 0.9 1.5 1-0.7 0.9 2.3 0.9-0.9 0.9-1.9 1 1.7 0.9-3.4 0.9 1.3 0.9-3.5 1 5.6 0.9 0.2 0.9-2.6 0.9-1.5 1-1.1 0.9 0.2 0.9-0.7 0.9-0.6 1 3.3 0.9-4.2 0.9 0.1 0.9 0.7 1 1.1 0.9-0.4 0.9-0.3 0.9-1.2 1 2.6 0.9-1.8 0.9 0.8 0.9-1.9 1 0.7 0.9-0.8 0.9 2 0.9 0.2 1-3.2 0.9 5.4 0.9-5.1 0.9 0.1 1 5.1 0.9-4.4 0.9 2.1 0.9-2.6 1 3.5 0.9 2.3 0.9-1.9 0.9-2.7 1 1.5 0.9 2.2 0.9-0.2 0.9-1 1 0.3 0.9 0.5"/>
</g>
<rect x="257.5" y="2488.5" width="1387.5" height="1027.2" fill="none" stroke="#000" stroke-width="4.8"/>
<path d="M248 3515.7H257.5M237 3442.3H257.5M248 3368.9H257.5M237 3295.6H257.5M248 3222.2H257.5M237 3148.8H257.5M248 3075.5H257.5M237 3002.1H257.5M248 2928.7H257.5M237 2855.3H257.5M248 2782H257.5M237 2708.6H257.5M248 2635.2H257.5M237 2561.9H257.5M248 2488.5H257.5M257.5 3515.7V3536.2M373.1 3515.7V3526.2M488.8 3515.7V3536.2M604.4 3515.7V3526.2M720 3515.7V3536.2M835.6 3515.7V3526.2M951.2 3515.7V3536.2M1066.9 3515.7V3526.2M1182.5 3515.7V3536.2M1298.1 3515.7V3526.2M1413.8 3515.7V3536.2M1529.4 3515.7V3526.2M1645 3515.7V3536.2" stroke="#000" stroke-width="4.8" fill="none"/>
<text transform="translate(225.7,3457.7) scale(1.025,1)" font-size="52.2" font-weight="normal" text-anchor="end">0</text>
<text transform="translate(225.7,3311) scale(1.025,1)" font-size="52.2" font-weight="normal" text-anchor="end">1000</text>
<text transform="translate(225.7,3164.2) scale(1.025,1)" font-size="52.2" font-weight="normal" text-anchor="end">2000</text>
<text transform="translate(225.7,3017.5) scale(1.025,1)" font-size="52.2" font-weight="normal" text-anchor="end">3000</text>
<text transform="translate(225.7,2870.7) scale(1.025,1)" font-size="52.2" font-weight="normal" text-anchor="end">4000</text>
<text transform="translate(225.7,2724) scale(1.025,1)" font-size="52.2" font-weight="normal" text-anchor="end">5000</text>
<text transform="translate(225.7,2577.3) scale(1.025,1)" font-size="52.2" font-weight="normal" text-anchor="end">6000</text>
<text transform="translate(258.5,3590.7) scale(1.025,1)" font-size="52.2" font-weight="normal" text-anchor="middle">10</text>
<text transform="translate(489.8,3590.7) scale(1.025,1)" font-size="52.2" font-weight="normal" text-anchor="middle">15</text>
<text transform="translate(721,3590.7) scale(1.025,1)" font-size="52.2" font-weight="normal" text-anchor="middle">20</text>
<text transform="translate(952.2,3590.7) scale(1.025,1)" font-size="52.2" font-weight="normal" text-anchor="middle">25</text>
<text transform="translate(1183.5,3590.7) scale(1.025,1)" font-size="52.2" font-weight="normal" text-anchor="middle">30</text>
<text transform="translate(1414.8,3590.7) scale(1.025,1)" font-size="52.2" font-weight="normal" text-anchor="middle">35</text>
<text transform="translate(1646,3590.7) scale(1.025,1)" font-size="52.2" font-weight="normal" text-anchor="middle">40</text>
<text transform="translate(67.6,3143.5) rotate(-90) scale(1,1.05)" font-size="62.9" font-weight="normal" text-anchor="start">Intensity(a.u.)</text>
<text transform="translate(806.5,3686.7) scale(1.028,1)" font-size="62.2" font-weight="normal" text-anchor="start">2θ (degree)</text>
<text transform="translate(264.6,2547.8) scale(1.025,1)" font-size="62.0" font-weight="bold" text-anchor="start" style="stroke:none">(c)</text>
<text transform="translate(625.2,2551.6) scale(1.03,1)" font-size="53.0" font-weight="bold" text-anchor="start" style="stroke:none">(110)</text>
<text transform="translate(623.5,2616.6) scale(1.03,1)" font-size="53.0" font-weight="bold" text-anchor="start" style="stroke:none">21.22°</text>
<text transform="translate(847.6,2551.6) scale(1.03,1)" font-size="53.0" font-weight="bold" text-anchor="start" style="stroke:none">(200)</text>
<text transform="translate(845.8,2616.6) scale(1.03,1)" font-size="53.0" font-weight="bold" text-anchor="start" style="stroke:none">23.63°</text>
<text transform="translate(1411.5,3304.5) scale(1.03,1)" font-size="53.0" font-weight="bold" text-anchor="start" style="stroke:none">(020)</text>
<text transform="translate(1409.8,3370.6) scale(1.03,1)" font-size="53.0" font-weight="bold" text-anchor="start" style="stroke:none">36.5°</text>
<rect x="1235.4" y="2488.5" width="408.6" height="262.3" fill="#fff" stroke="#000" stroke-width="2.2"/>
<line x1="1256" y1="2525.3" x2="1373.3" y2="2525.3" stroke="#000000" stroke-width="6.0" stroke-linecap="round"/>
<text transform="translate(1387.8,2542.9) scale(1.025,1)" font-size="52.0" font-weight="normal" text-anchor="start">XLPE-30</text>
<line x1="1256" y1="2590.2" x2="1373.3" y2="2590.2" stroke="#ff0000" stroke-width="6.0" stroke-linecap="round" stroke-dasharray="0.2 10.17"/>
<text transform="translate(1387.8,2607.8) scale(1.025,1)" font-size="52.0" font-weight="normal" text-anchor="start">Pipeline-30</text>
<line x1="1256" y1="2655.9" x2="1373.3" y2="2655.9" stroke="#0000ff" stroke-width="6.0" stroke-linecap="round" stroke-dasharray="25 16 4 16"/>
<text transform="translate(1387.8,2673.5) scale(1.025,1)" font-size="52.0" font-weight="normal" text-anchor="start">Ground-30</text>
<line x1="1256" y1="2720" x2="1373.3" y2="2720" stroke="#ff00ff" stroke-width="6.0" stroke-linecap="round" stroke-dasharray="18 16 4 16 4 16"/>
<text transform="translate(1387.8,2737.6) scale(1.025,1)" font-size="52.0" font-weight="normal" text-anchor="start">Tunnel-30</text>
<path d="M248 2488.5H1645V3515.7" fill="none" stroke="#000" stroke-width="4.8"/>
</svg></body></html>
